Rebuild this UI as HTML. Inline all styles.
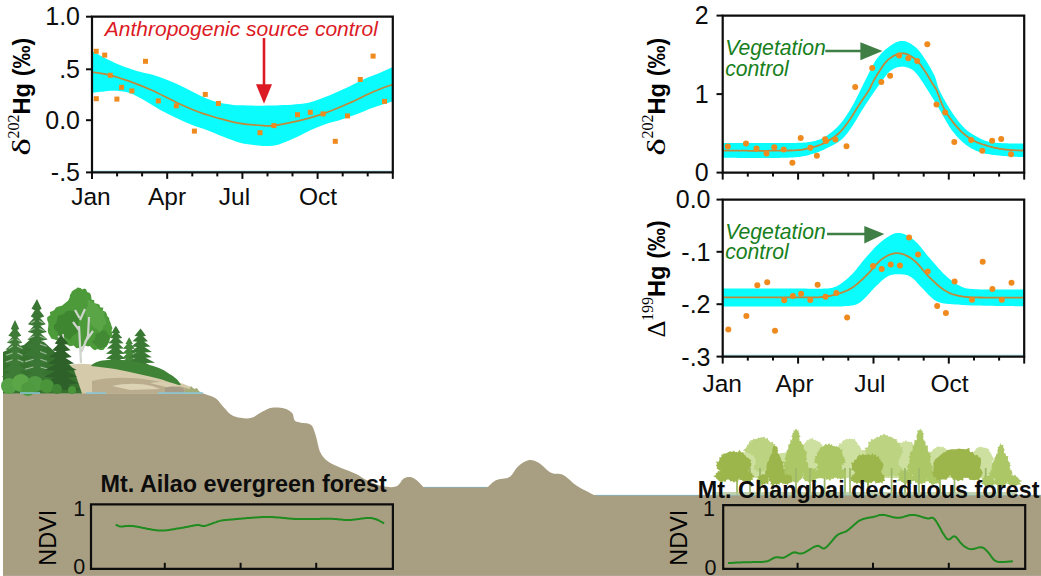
<!DOCTYPE html>
<html><head><meta charset="utf-8"><style>html,body{margin:0;padding:0;background:#fff;}svg{display:block;}</style></head>
<body><svg width="1041" height="576" viewBox="0 0 1041 576" font-family="Liberation Sans, sans-serif">
<rect width="1041" height="576" fill="#fff"/>
<path d="M3.0,393.3 L200.0,392.8 C201.0,393.1 203.7,393.5 206.2,394.4 C208.8,395.3 212.7,396.2 215.6,398.3 C218.5,400.4 220.8,404.2 223.4,406.9 C226.0,409.6 228.4,412.9 231.2,414.7 C234.1,416.5 237.2,417.3 240.6,417.8 C244.0,418.3 247.9,418.8 251.6,417.8 C255.2,416.8 259.1,413.3 262.5,411.6 C265.9,409.9 268.2,408.2 271.9,407.7 C275.5,407.2 281.0,407.5 284.4,408.4 C287.8,409.3 290.5,411.1 292.2,413.1 C293.9,415.1 293.2,418.6 294.5,420.2 C295.8,421.8 297.3,421.7 300.0,422.5 C302.7,423.3 308.3,422.7 310.9,424.8 C313.5,426.9 314.0,430.4 315.6,435.0 C317.2,439.6 318.2,447.8 320.3,452.2 C322.4,456.6 324.7,459.0 328.1,461.6 C331.5,464.2 335.9,465.7 340.6,467.8 C345.3,469.9 351.9,471.9 356.2,474.0 C360.6,476.1 362.4,478.2 366.9,480.3 C371.4,482.4 378.1,485.3 383.0,486.3 C387.9,487.3 393.1,487.5 396.5,486.3 C399.9,485.1 401.0,480.5 403.2,479.0 C405.4,477.5 407.6,476.9 409.9,477.1 C412.1,477.3 414.4,478.6 416.7,480.3 C418.9,482.0 422.3,486.0 423.4,487.1 L487.9,487.1 C489.2,486.0 492.4,482.0 496.0,480.3 C499.6,478.6 505.8,479.3 509.4,477.1 C513.0,474.9 514.4,469.7 517.5,466.9 C520.6,464.1 524.7,460.9 528.3,460.2 C531.9,459.5 535.2,460.8 539.0,462.9 C542.8,465.0 547.1,470.8 551.1,472.8 C555.1,474.8 558.9,472.9 563.2,475.0 C567.5,477.1 571.5,482.3 576.7,485.7 C581.9,489.1 591.3,493.5 594.2,495.1 L1041.0,495.1 L1041,576 L3,576 Z" fill="#a89e82"/>
<path d="M596,495.3 L1041,495.3" stroke="#7fb8d0" stroke-width="1" opacity="0.7"/>
<path d="M424,487.3 L487,487.3" stroke="#7fb8d0" stroke-width="1" opacity="0.6"/>
<path d="M60,368 C68,364 80,363 92,364.5 C115,367 140,372 165,378 C180,382 192,387 204,393.6 L60,393.6 Z" fill="#d5caa9"/><path d="M92,381 C108,377 130,377 150,380 C168,383 185,387 198,392 L190,393.6 L92,393.6 Z" fill="#b9ad8d"/><path d="M112,386 C125,383 140,383 152,386 L160,389 L130,390 Z" fill="#dcd2b4"/><path d="M150,383 C160,381 170,382 180,386 L170,388 Z" fill="#d9cfb0"/><path d="M165,388 C172,386 178,386 184,389 L184,393 L165,393 Z" fill="#a69c86"/><path d="M115.8,325.8 L117.3,328.1 L120.2,333.0 L118.1,333.3 L122.3,338.1 L118.5,338.5 L123.6,343.3 L118.6,343.6 L123.8,348.5 L118.9,348.8 L124.7,353.7 L119.3,354.0 L125.7,358.8 L119.9,359.2 L127.6,364.0 L117.8,364.0 L113.8,364.0 L102.9,364.0 L111.3,359.2 L105.8,358.8 L112.3,354.0 L105.9,353.7 L112.3,348.8 L106.9,348.5 L112.7,343.6 L108.4,343.3 L113.2,338.5 L110.2,338.1 L113.8,333.3 L111.6,333.0 L114.3,328.1 Z" fill="#3a7934"/><path d="M129.2,337.2 L130.5,339.4 L132.9,344.0 L131.2,344.2 L135.0,348.8 L131.7,349.0 L136.3,353.6 L132.3,353.8 L138.2,358.4 L132.6,358.6 L139.0,363.2 L132.4,363.4 L138.3,368.0 L131.2,368.0 L127.2,368.0 L120.1,368.0 L126.0,363.4 L120.6,363.2 L126.2,358.6 L122.0,358.4 L126.7,353.8 L122.4,353.6 L126.8,349.0 L122.9,348.8 L127.0,344.2 L125.4,344.0 L127.9,339.4 Z" fill="#45873b"/><path d="M140.6,328.6 L142.5,331.0 L146.0,335.9 L143.1,336.3 L147.9,341.3 L144.1,341.7 L150.5,346.6 L144.5,347.0 L151.9,352.0 L144.5,352.4 L151.8,357.3 L145.6,357.7 L155.0,362.7 L145.6,363.1 L154.9,368.0 L142.6,368.0 L138.6,368.0 L125.3,368.0 L135.2,363.1 L127.0,362.7 L135.9,357.7 L129.0,357.3 L136.5,352.4 L130.6,352.0 L137.1,347.0 L131.3,346.6 L137.3,341.7 L132.6,341.3 L137.8,336.3 L134.5,335.9 L138.5,331.0 Z" fill="#3a7934"/><path d="M91,366 C94,362 100,360.5 108,360 C120,359 135,361 147,364.5 C156,366.5 163,369 168,373 C173,376 178,379 181,385 C178,385.5 170,382 160,379 C145,375 130,372 115,369 C105,367.5 97,366.5 91,366 Z" fill="#3f8436"/><path d="M80.5,288.1 L82.3,289.6 L84.2,288.6 L86.1,289.3 L87.2,292.1 L88.7,292.4 L90.2,293.5 L90.9,294.9 L91.3,297.3 L91.6,299.8 L94.1,300.0 L94.4,303.6 L97.3,303.7 L99.6,304.8 L100.0,307.2 L103.4,307.8 L102.6,310.5 L105.5,311.8 L106.7,313.8 L107.2,316.0 L109.2,317.9 L109.3,320.0 L110.6,322.7 L111.3,325.3 L112.5,328.2 L111.5,330.6 L112.3,333.7 L111.8,336.5 L109.9,338.6 L109.4,341.6 L108.0,344.0 L106.8,346.1 L105.0,347.7 L103.6,349.8 L100.9,350.2 L97.4,349.0 L95.1,350.3 L92.9,349.2 L89.9,345.9 L88.1,346.4 L85.2,345.6 L82.7,346.1 L80.0,348.1 L76.5,348.2 L73.7,345.5 L69.9,346.2 L66.9,344.4 L62.7,344.3 L59.9,342.1 L57.5,340.6 L54.6,339.5 L51.3,338.5 L49.8,335.8 L48.3,333.2 L47.7,330.1 L48.3,326.6 L48.4,323.3 L47.2,320.0 L47.2,317.3 L50.4,314.9 L49.8,312.0 L52.8,310.9 L54.8,309.6 L55.6,307.8 L58.4,306.5 L61.9,305.8 L64.0,304.0 L66.2,302.2 L68.2,300.4 L69.7,297.5 L70.0,294.7 L71.1,293.5 L71.8,291.5 L73.2,290.6 L74.5,289.5 L76.0,288.9 L77.3,287.6 L78.9,287.8 Z" fill="#4c9a3a"/><path d="M65.9,311.4 L69.4,310.6 L72.5,310.9 L76.2,309.8 L76.7,313.4 L78.9,315.1 L80.0,318.0 L78.3,322.7 L78.0,327.0 L78.1,332.1 L75.1,334.3 L72.3,336.3 L70.0,340.0 L66.1,337.8 L62.4,336.5 L57.8,336.2 L57.6,332.0 L54.5,329.8 L53.6,326.1 L56.2,322.8 L57.2,319.6 L57.8,315.8 L60.8,314.9 L63.6,314.2 Z" fill="#3f8631"/><path d="M87.7,299.5 L90.2,300.2 L93.3,302.7 L96.0,303.7 L98.4,307.6 L100.7,310.0 L104.2,311.9 L104.1,316.0 L106.0,320.2 L106.1,324.1 L103.3,325.7 L102.5,330.3 L100.1,332.4 L97.3,329.2 L94.7,328.1 L92.0,326.0 L90.0,322.1 L86.9,318.4 L85.4,313.9 L86.3,309.1 L87.7,305.2 Z" fill="#5aa646"/><path d="M95.8,333.8 L98.9,333.3 L101.3,330.8 L104.1,329.7 L106.3,331.5 L107.7,334.2 L110.1,336.0 L109.3,339.3 L108.2,343.0 L106.3,346.4 L103.5,347.2 L100.7,348.0 L97.9,348.4 L96.3,345.6 L94.0,344.1 L91.8,342.1 L94.3,339.4 L95.5,337.1 Z" fill="#428b34"/><path d="M81,363 L79,326 M81.5,352 L88,336 L89,317 M79,330 L73,322 M85,342 L93,331 M79.5,318 L75,310 M80,320 L85,309" stroke="#cfd5cd" stroke-width="2.2" fill="none"/><path d="M64.5,354 L63,334 M64,342 L58,336" stroke="#cfd5cd" stroke-width="1.8" fill="none"/><path d="M3,352 L12,348 L24,345 L32,338 L44,342 L55,352 L66,360 L74,370 L82,393.5 L3,393.5 Z" fill="#37732f"/><path d="M15.0,320.0 L16.5,323.1 L19.2,328.9 L17.2,330.0 L21.3,335.8 L17.5,336.9 L22.3,342.7 L18.3,343.8 L24.5,349.6 L18.2,350.7 L24.2,356.4 L18.4,357.5 L24.8,363.3 L18.7,364.4 L25.6,370.2 L19.7,371.3 L28.4,377.1 L19.5,378.2 L27.9,384.0 L17.0,384.0 L13.0,384.0 L1.5,384.0 L10.3,378.2 L1.8,377.1 L10.4,371.3 L3.3,370.2 L10.9,364.4 L5.3,363.3 L11.6,357.5 L6.1,356.4 L11.9,350.7 L5.6,349.6 L11.7,343.8 L6.9,342.7 L12.2,336.9 L8.3,335.8 L12.7,330.0 L10.8,328.9 L13.5,323.1 Z" fill="#3e7b37"/><path d="M16.8,339.2 L20.3,341.5 M13.2,339.2 L8.2,341.5 M17.1,346.1 L22.5,348.4 M12.9,346.1 L8.7,348.4 M17.4,352.9 L22.5,355.2 M12.6,352.9 L6.0,355.2 M17.6,359.8 L23.4,362.1 M12.4,359.8 L5.8,362.1" stroke="#e4e9e0" stroke-width="1.1" opacity="0.6" fill="none"/><path d="M37.0,299.0 L38.6,302.5 L41.6,308.7 L39.5,310.2 L44.3,316.5 L40.1,317.9 L45.8,324.2 L40.4,325.7 L46.8,331.9 L40.7,333.4 L47.7,339.6 L40.6,341.1 L47.3,347.4 L41.6,348.8 L50.0,355.1 L42.2,356.6 L51.9,362.8 L42.5,364.3 L52.6,370.5 L42.0,372.0 L51.1,378.3 L42.3,379.8 L52.2,386.0 L39.0,386.0 L35.0,386.0 L22.0,386.0 L31.7,379.8 L22.7,378.3 L32.0,372.0 L21.5,370.5 L31.6,364.3 L23.7,362.8 L32.4,356.6 L24.3,355.1 L32.6,348.8 L24.1,347.4 L32.5,341.1 L27.4,339.6 L33.6,333.4 L27.9,331.9 L33.8,325.7 L27.9,324.2 L33.8,317.9 L30.8,316.5 L34.8,310.2 L31.5,308.7 L35.1,302.5 Z" fill="#3a7634"/><path d="M39.1,320.7 L43.3,323.0 M34.9,320.7 L31.0,323.0 M39.4,328.4 L44.4,330.7 M34.6,328.4 L29.0,330.7 M39.6,336.1 L45.5,338.4 M34.4,336.1 L28.3,338.4 M39.9,343.9 L46.6,346.2 M40.1,351.6 L46.4,353.9 M40.4,359.3 L47.0,361.6 M33.6,359.3 L25.1,361.6 M40.6,367.0 L48.2,369.3 M33.4,367.0 L24.9,369.3" stroke="#e4e9e0" stroke-width="1.1" opacity="0.6" fill="none"/><path d="M61.0,335.0 L63.5,338.0 L68.3,343.6 L64.3,344.6 L70.5,350.2 L64.8,351.2 L71.8,356.9 L65.6,357.9 L74.2,363.5 L66.5,364.5 L76.7,370.1 L66.6,371.1 L77.1,376.8 L67.2,377.7 L78.7,383.4 L68.0,384.4 L80.9,390.0 L63.0,390.0 L59.0,390.0 L42.2,390.0 L54.4,384.4 L43.3,383.4 L54.8,377.7 L44.3,376.8 L55.1,371.1 L44.7,370.1 L55.3,364.5 L47.6,363.5 L56.3,357.9 L48.9,356.9 L56.8,351.2 L52.2,350.2 L57.9,344.6 L54.8,343.6 L58.8,338.0 Z" fill="#2e6129"/><circle cx="9" cy="386" r="8" fill="#56a045"/><circle cx="21" cy="383" r="9" fill="#5ba747"/><circle cx="35" cy="384" r="8" fill="#519c42"/><circle cx="47" cy="386" r="7" fill="#4a9439"/><circle cx="28" cy="389" r="7" fill="#4f9a3f"/><circle cx="57" cy="389" r="5" fill="#3f8534"/><circle cx="72" cy="390" r="4" fill="#4a9439"/><path d="M184,393 L186,388 L189,390 L191,386 L194,389 L197,388 L200,393 Z" fill="#a3ad78"/><path d="M86,393 H106 M158,393 H203 M20,393 H40" stroke="#86c8dc" stroke-width="1.6"/>
<path d="M730,472 C740,462 760,455 790,452 C830,450 880,449 920,451 C960,453 990,458 1005,472 L1000,478 L730,478 Z" fill="#cde09f"/><path d="M774.6,455.9 L773.7,457.9 L775.6,460.5 L772.9,461.6 L773.2,464.0 L771.4,465.1 L770.4,466.7 L769.0,467.8 L768.4,470.3 L766.2,470.0 L764.4,470.3 L762.7,470.5 L761.0,470.8 L759.2,471.1 L757.1,472.2 L756.1,469.2 L753.1,471.3 L752.7,468.2 L750.6,467.7 L750.6,465.1 L749.6,463.5 L749.6,461.4 L747.5,460.1 L748.8,457.8 L748.1,455.9 L748.8,454.0 L749.2,452.1 L749.6,450.2 L749.6,447.9 L751.0,446.6 L751.6,444.4 L753.6,443.9 L754.4,441.9 L756.3,441.9 L757.7,440.4 L759.5,441.4 L761.0,438.1 L762.6,440.5 L764.6,439.2 L765.7,441.9 L767.3,442.4 L768.2,444.3 L770.0,444.9 L770.4,447.1 L773.2,447.4 L772.3,450.2 L775.0,451.4 L773.3,454.0 Z" fill="#bcd482"/><path d="M757.1,450.3 L756.9,451.8 L758.7,454.3 L755.7,454.4 L755.8,457.4 L752.9,455.8 L751.3,456.0 L749.6,456.0 L747.1,456.9 L747.1,454.2 L746.0,453.2 L745.6,451.8 L742.8,450.3 L745.3,448.8 L746.2,447.5 L747.4,446.5 L748.4,445.4 L749.9,445.2 L751.3,442.7 L752.7,445.1 L754.8,444.3 L755.4,446.3 L756.6,447.4 L757.3,448.8 Z" fill="#bcd482"/><path d="M758.5,447.6 L758.2,449.0 L758.1,450.5 L756.7,451.3 L756.9,454.3 L754.3,453.1 L752.7,453.6 L751.0,453.2 L749.5,452.6 L748.5,451.4 L745.7,451.3 L746.9,449.0 L746.9,447.6 L746.8,446.1 L747.6,444.7 L748.9,443.9 L749.0,441.3 L751.3,442.5 L752.7,441.6 L754.0,442.7 L755.4,442.9 L756.6,443.7 L757.9,444.7 L758.2,446.1 Z" fill="#bcd482"/><path d="M764.2,443.9 L761.8,445.2 L762.5,447.1 L760.7,447.8 L759.5,448.6 L757.9,448.7 L756.5,451.1 L754.9,449.2 L753.4,448.7 L752.6,447.4 L750.1,447.3 L750.7,445.3 L750.7,443.9 L750.9,442.5 L750.1,440.3 L752.7,440.2 L753.4,438.7 L755.2,439.2 L756.5,438.8 L757.9,438.5 L759.3,439.1 L760.3,440.1 L761.5,441.1 L762.0,442.5 Z" fill="#bcd482"/><path d="M766.7,442.7 L766.6,444.0 L765.8,445.1 L764.9,446.1 L764.6,448.0 L762.7,447.8 L761.2,448.9 L759.8,447.3 L757.4,448.7 L757.5,446.0 L756.7,445.1 L756.2,443.9 L755.1,442.7 L756.5,441.5 L756.6,440.1 L757.7,439.2 L758.1,437.4 L760.0,438.1 L761.2,437.0 L762.6,437.5 L764.8,436.5 L764.9,439.0 L766.9,439.5 L766.3,441.4 Z" fill="#bcd482"/><path d="M769.3,443.4 L769.7,444.7 L770.2,446.4 L768.5,447.0 L767.1,447.3 L766.0,448.0 L764.6,448.9 L763.2,448.1 L761.7,447.9 L760.7,447.0 L760.3,445.7 L759.7,444.6 L758.2,443.4 L759.6,442.1 L759.2,440.4 L761.1,440.0 L761.5,438.0 L763.3,438.6 L764.6,438.2 L765.8,438.8 L767.8,437.8 L768.1,439.9 L769.4,440.7 L769.5,442.2 Z" fill="#bcd482"/><path d="M776.4,447.6 L774.8,448.9 L775.5,450.9 L773.5,451.4 L772.3,452.2 L770.9,452.9 L769.3,455.2 L767.7,453.1 L765.5,453.6 L765.2,451.3 L762.8,451.1 L763.7,449.0 L762.7,447.6 L763.6,446.1 L764.6,444.9 L765.3,443.6 L766.7,443.1 L767.9,442.3 L769.3,441.2 L770.7,442.6 L772.8,441.6 L773.2,443.8 L775.3,444.2 L775.1,446.1 Z" fill="#bcd482"/><path d="M776.2,450.8 L775.8,452.1 L775.4,453.3 L774.3,454.0 L774.4,456.4 L772.2,455.4 L770.9,456.2 L769.4,455.6 L768.0,455.3 L767.2,454.2 L766.3,453.3 L766.1,452.0 L764.3,450.8 L765.9,449.6 L765.2,447.7 L767.6,447.6 L768.0,445.9 L769.7,446.5 L770.9,446.1 L772.1,446.4 L774.0,445.4 L774.4,447.4 L776.2,447.9 L775.9,449.6 Z" fill="#bcd482"/><path d="M755.8,466.5 L755.0,467.7 L755.6,469.2 L753.8,469.7 L752.9,470.7 L751.4,470.9 L750.0,472.3 L748.5,470.9 L746.8,470.9 L745.8,469.9 L743.1,469.8 L744.7,467.7 L744.6,466.5 L745.2,465.4 L743.7,463.4 L746.5,463.5 L746.6,461.4 L748.6,462.1 L750.0,461.5 L751.3,461.9 L752.4,462.7 L753.4,463.5 L755.3,463.9 L754.7,465.4 Z" fill="#bcd482"/><path d="M768.3,466.5 L766.1,467.7 L765.9,468.9 L764.7,469.5 L764.6,471.5 L762.5,470.9 L761.0,472.3 L759.5,471.1 L757.2,471.8 L756.7,470.0 L754.8,469.5 L755.9,467.7 L754.6,466.5 L756.1,465.4 L756.6,464.4 L757.3,463.3 L757.7,461.4 L759.7,462.4 L761.0,461.6 L762.3,462.2 L764.3,461.5 L764.7,463.3 L766.7,463.7 L766.4,465.3 Z" fill="#bcd482"/><path d="M778.2,466.5 L777.6,467.8 L778.7,469.7 L775.8,469.6 L776.0,472.1 L773.6,471.1 L772.0,471.2 L770.6,470.9 L768.5,471.5 L767.8,470.0 L766.6,469.1 L766.7,467.7 L764.6,466.5 L766.6,465.3 L765.6,463.3 L768.4,463.3 L768.8,461.5 L770.8,462.3 L772.0,460.6 L773.5,461.9 L775.3,461.6 L775.9,463.2 L776.9,464.1 L777.6,465.3 Z" fill="#bcd482"/><path d="M823.5,456.5 L822.0,458.5 L822.4,460.6 L821.3,462.2 L821.0,464.1 L820.2,465.6 L820.2,468.4 L818.1,467.8 L817.0,469.0 L815.9,469.8 L814.9,471.8 L813.4,471.1 L812.0,472.2 L810.7,470.3 L809.0,472.6 L808.3,469.4 L806.2,470.9 L806.0,467.7 L804.6,467.2 L803.9,465.5 L803.3,463.8 L803.2,461.9 L801.7,460.6 L802.2,458.5 L800.8,456.5 L802.3,454.6 L801.1,452.1 L803.3,451.0 L802.4,448.0 L804.8,448.1 L805.3,446.1 L806.4,445.1 L807.2,443.5 L808.4,443.0 L809.3,441.0 L810.8,442.2 L812.0,439.8 L813.2,442.2 L814.5,442.0 L815.5,443.4 L817.4,442.0 L817.8,444.7 L818.7,446.1 L819.6,447.5 L821.7,448.0 L820.8,451.0 L822.1,452.4 L821.3,454.7 Z" fill="#cde09f"/><path d="M809.6,452.1 L808.2,453.1 L809.7,455.0 L807.5,455.0 L806.9,456.1 L805.6,456.2 L804.4,457.1 L803.2,456.0 L801.5,456.6 L801.4,454.8 L799.8,454.6 L800.2,453.2 L798.4,452.1 L800.0,451.0 L800.5,450.0 L801.5,449.3 L802.3,448.6 L803.3,448.3 L804.4,446.7 L805.5,448.0 L806.7,448.0 L807.2,449.4 L808.1,450.0 L808.5,451.1 Z" fill="#cde09f"/><path d="M811.6,447.1 L810.0,447.9 L810.1,449.0 L809.2,449.5 L809.1,451.1 L807.5,450.5 L806.5,451.2 L805.4,450.7 L804.5,450.2 L803.5,449.8 L803.0,448.9 L802.7,448.0 L802.3,447.1 L803.0,446.2 L802.6,444.9 L803.9,444.5 L804.4,443.5 L805.6,443.6 L806.5,442.7 L807.4,443.7 L808.4,443.7 L809.2,444.4 L810.6,444.8 L810.2,446.1 Z" fill="#cde09f"/><path d="M815.2,444.5 L813.3,445.5 L814.3,447.2 L812.6,447.6 L812.4,449.5 L810.4,448.4 L809.2,449.1 L808.0,448.8 L806.8,448.3 L805.8,447.7 L803.9,447.3 L805.2,445.5 L804.6,444.5 L804.9,443.4 L805.3,442.3 L806.5,441.8 L806.4,439.7 L808.2,440.5 L809.2,439.0 L810.3,440.7 L811.6,440.4 L812.3,441.5 L812.8,442.5 L813.2,443.5 Z" fill="#cde09f"/><path d="M818.9,443.8 L816.6,444.8 L817.3,446.4 L815.9,447.0 L815.2,448.3 L813.6,448.2 L812.3,448.4 L811.1,447.8 L809.8,447.6 L809.1,446.7 L807.2,446.5 L807.7,444.9 L806.6,443.8 L808.1,442.7 L808.2,441.5 L809.3,440.8 L809.3,438.6 L811.1,439.1 L812.3,437.6 L813.4,439.8 L814.5,440.0 L815.7,440.4 L816.9,441.2 L816.9,442.6 Z" fill="#cde09f"/><path d="M820.1,444.7 L819.1,445.7 L819.7,447.1 L817.9,447.3 L817.9,449.1 L816.2,448.7 L815.0,448.8 L813.9,448.5 L812.1,449.2 L812.0,447.4 L811.1,446.7 L811.1,445.6 L810.0,444.7 L811.3,443.7 L810.1,441.9 L812.0,441.7 L812.4,440.2 L813.9,440.6 L815.0,439.6 L816.0,440.9 L817.5,440.4 L817.9,441.8 L820.1,441.8 L819.2,443.6 Z" fill="#cde09f"/><path d="M823.8,447.4 L822.5,448.6 L823.3,450.4 L821.1,450.5 L821.1,452.7 L819.1,451.9 L817.7,453.1 L816.4,451.8 L814.5,452.4 L814.3,450.5 L812.3,450.3 L813.5,448.4 L812.5,447.4 L813.3,446.2 L813.9,445.3 L814.6,444.3 L814.9,442.6 L816.5,443.0 L817.7,442.7 L819.0,442.8 L820.6,442.5 L820.8,444.3 L822.7,444.6 L822.2,446.2 Z" fill="#cde09f"/><path d="M825.6,452.3 L823.8,453.3 L824.4,454.8 L822.8,455.2 L822.8,457.1 L820.7,455.8 L819.7,457.2 L818.5,456.2 L817.4,455.9 L816.7,455.0 L816.1,454.2 L815.8,453.3 L815.0,452.3 L816.0,451.3 L815.9,450.2 L816.7,449.3 L817.3,448.2 L818.7,448.5 L819.7,446.8 L820.7,448.5 L822.5,447.5 L822.6,449.5 L824.4,449.7 L823.4,451.3 Z" fill="#cde09f"/><path d="M808.7,466.8 L807.8,467.7 L807.1,468.5 L806.8,469.4 L805.8,469.9 L804.7,470.2 L803.5,470.4 L802.4,470.2 L800.9,470.6 L800.7,469.1 L798.4,469.3 L799.5,467.7 L798.6,466.8 L799.5,465.9 L799.6,464.8 L800.8,464.4 L801.0,463.0 L802.5,463.4 L803.5,463.0 L804.6,463.3 L805.7,463.5 L806.2,464.5 L807.3,464.9 L807.2,466.0 Z" fill="#cde09f"/><path d="M816.3,466.8 L816.2,467.7 L816.2,468.8 L815.2,469.4 L814.8,470.8 L813.0,469.9 L812.0,471.8 L810.8,470.4 L809.9,469.8 L808.8,469.4 L807.7,468.8 L808.0,467.7 L806.1,466.8 L808.2,465.9 L807.8,464.7 L809.0,464.2 L809.4,462.9 L811.0,463.4 L812.0,461.8 L813.1,463.3 L814.5,463.0 L814.7,464.5 L816.4,464.6 L815.9,465.9 Z" fill="#cde09f"/><path d="M824.8,466.8 L824.2,467.6 L824.9,468.9 L823.3,469.1 L823.0,470.3 L821.6,470.3 L820.5,470.9 L819.4,470.0 L817.8,470.5 L817.4,469.2 L815.6,469.1 L816.4,467.7 L814.5,466.8 L816.2,465.8 L815.9,464.5 L817.7,464.4 L818.5,463.8 L819.4,463.2 L820.5,462.2 L821.5,463.4 L822.7,463.4 L823.2,464.4 L824.9,464.6 L824.4,465.9 Z" fill="#cde09f"/><path d="M860.5,456.9 L859.5,459.0 L860.6,461.6 L858.6,462.8 L858.5,465.1 L857.8,466.9 L858.0,470.0 L855.8,469.8 L854.4,470.4 L853.0,471.0 L851.9,472.7 L850.4,472.4 L849.0,474.5 L847.6,472.0 L845.9,473.6 L845.0,471.0 L843.6,470.5 L842.3,469.6 L840.6,469.2 L840.4,466.6 L839.2,465.3 L839.2,462.9 L838.6,461.1 L838.7,459.0 L837.1,456.9 L838.5,454.8 L839.1,452.9 L839.9,451.1 L838.9,447.9 L840.9,447.3 L840.9,444.2 L843.1,444.7 L843.7,442.4 L845.3,442.7 L846.1,439.4 L847.7,441.5 L849.0,439.3 L850.3,440.7 L851.7,441.0 L852.8,442.4 L854.7,441.4 L855.3,444.0 L856.6,445.0 L856.9,447.5 L857.8,449.1 L858.7,450.7 L858.9,452.9 L858.9,455.0 Z" fill="#cde09f"/><path d="M846.6,452.1 L845.1,453.1 L846.1,454.9 L843.9,454.9 L843.3,456.0 L842.1,456.3 L840.8,456.3 L839.6,456.1 L837.7,456.9 L837.3,455.2 L836.4,454.4 L836.6,453.1 L835.7,452.1 L836.3,450.9 L836.4,449.6 L837.9,449.2 L838.0,447.2 L839.6,447.8 L840.8,446.0 L842.0,447.6 L843.8,446.9 L843.9,449.0 L845.9,449.2 L845.0,451.0 Z" fill="#cde09f"/><path d="M848.6,447.8 L847.0,448.9 L846.6,450.0 L845.5,450.7 L845.0,451.9 L843.5,451.8 L842.3,452.6 L841.1,451.8 L839.9,451.6 L839.0,450.8 L837.1,450.6 L837.9,448.9 L836.3,447.8 L838.0,446.7 L838.4,445.6 L839.2,444.7 L839.4,442.7 L841.3,443.8 L842.3,443.7 L843.4,443.7 L844.9,443.3 L845.4,444.8 L847.7,444.8 L846.7,446.7 Z" fill="#cde09f"/><path d="M850.9,443.8 L850.2,444.9 L849.6,445.8 L848.8,446.4 L848.7,448.2 L847.1,447.8 L846.0,447.7 L844.8,447.7 L843.8,447.3 L842.8,446.7 L841.4,446.3 L842.1,444.8 L841.6,443.8 L841.9,442.8 L841.8,441.5 L843.1,441.0 L843.7,440.0 L845.0,440.2 L846.0,438.4 L847.0,440.0 L848.3,439.8 L848.8,441.1 L850.4,441.3 L850.0,442.8 Z" fill="#cde09f"/><path d="M855.7,443.0 L854.2,444.2 L855.1,445.9 L853.2,446.2 L852.9,448.0 L851.0,447.4 L849.7,449.0 L848.5,447.2 L846.9,447.5 L846.3,446.1 L844.4,445.9 L845.4,444.1 L844.6,443.0 L845.7,442.0 L844.8,440.3 L846.4,439.8 L847.3,438.9 L848.7,439.2 L849.7,438.6 L850.8,439.0 L852.1,439.0 L853.0,439.8 L853.4,441.0 L853.9,442.0 Z" fill="#cde09f"/><path d="M858.2,443.8 L856.3,444.9 L856.1,446.0 L855.4,446.9 L855.0,448.6 L853.3,448.4 L851.9,448.1 L850.7,447.8 L849.3,447.8 L848.6,446.8 L847.4,446.2 L847.1,445.0 L846.0,443.8 L847.6,442.6 L847.7,441.4 L848.8,440.7 L849.6,439.7 L850.7,439.2 L851.9,438.8 L853.1,439.4 L854.9,438.5 L855.1,440.6 L856.2,441.3 L856.7,442.5 Z" fill="#cde09f"/><path d="M861.3,448.3 L860.5,449.4 L860.5,450.7 L859.0,451.1 L858.2,451.8 L857.2,452.6 L855.9,453.8 L854.7,452.2 L853.1,452.6 L852.7,451.2 L851.7,450.5 L851.3,449.4 L850.3,448.3 L851.9,447.2 L852.4,446.3 L852.9,445.3 L853.5,444.2 L854.8,444.0 L855.9,442.9 L857.0,444.2 L858.1,444.5 L858.7,445.5 L860.0,446.0 L859.9,447.2 Z" fill="#cde09f"/><path d="M863.2,453.2 L862.3,454.4 L861.8,455.5 L860.8,456.3 L859.9,457.0 L858.7,457.6 L857.4,457.3 L856.1,457.6 L854.2,458.3 L853.9,456.4 L853.4,455.3 L853.1,454.3 L851.5,453.2 L853.3,452.1 L852.9,450.6 L854.3,450.1 L854.3,447.9 L856.3,448.9 L857.4,447.2 L858.5,449.1 L860.3,448.2 L860.5,450.1 L862.8,450.1 L861.5,452.1 Z" fill="#cde09f"/><path d="M845.9,468.1 L844.1,469.1 L844.7,470.4 L843.2,470.8 L842.3,471.5 L841.2,472.0 L839.9,472.3 L838.7,471.7 L837.6,471.4 L836.7,470.7 L835.2,470.4 L835.4,469.1 L834.9,468.1 L835.5,467.1 L836.1,466.3 L836.9,465.5 L837.4,464.3 L838.7,464.2 L839.9,463.1 L841.0,464.4 L841.9,465.0 L842.9,465.5 L844.8,465.7 L844.0,467.2 Z" fill="#cde09f"/><path d="M854.5,468.1 L853.3,469.1 L852.8,469.9 L852.5,471.0 L852.1,472.5 L850.2,471.6 L849.0,472.8 L847.8,471.7 L846.4,471.8 L845.7,470.8 L844.7,470.2 L844.7,469.1 L843.9,468.1 L844.6,467.1 L845.0,466.1 L846.1,465.6 L846.2,463.9 L847.9,464.6 L849.0,462.9 L850.1,464.5 L851.8,463.9 L852.0,465.6 L854.1,465.6 L853.0,467.2 Z" fill="#cde09f"/><path d="M862.7,468.1 L862.2,469.1 L863.2,470.5 L861.5,470.9 L860.5,471.5 L859.3,471.7 L858.1,473.2 L856.9,471.8 L855.8,471.4 L855.0,470.7 L854.0,470.1 L854.0,469.1 L853.0,468.1 L854.1,467.2 L852.9,465.5 L855.1,465.5 L855.5,464.2 L857.0,464.4 L858.1,463.2 L859.3,464.3 L860.5,464.4 L861.1,465.6 L862.4,466.0 L862.0,467.2 Z" fill="#cde09f"/><path d="M949.5,462.0 L949.0,463.7 L950.4,466.1 L948.6,467.2 L948.9,469.4 L947.4,470.1 L946.4,471.2 L945.6,472.3 L944.9,474.0 L943.6,474.3 L942.4,474.8 L941.2,475.0 L940.0,476.4 L938.7,475.4 L937.2,476.8 L936.4,474.3 L935.3,473.6 L934.2,472.7 L932.3,473.0 L932.7,470.1 L931.6,469.0 L931.6,467.0 L931.2,465.4 L930.9,463.7 L929.4,462.0 L931.2,460.3 L930.4,458.1 L931.7,456.8 L932.3,455.3 L932.9,453.7 L933.2,451.6 L934.9,451.8 L935.8,450.6 L936.8,450.0 L937.6,447.9 L938.9,448.7 L940.0,448.1 L941.1,448.5 L942.3,448.5 L943.2,449.8 L944.3,450.5 L945.4,451.1 L946.1,452.6 L947.1,453.7 L948.2,454.8 L948.1,456.9 L949.3,458.2 L948.6,460.3 Z" fill="#cde09f"/><path d="M939.0,457.2 L937.5,458.3 L937.1,459.3 L936.5,460.3 L935.6,461.1 L934.4,461.5 L933.1,461.6 L931.9,461.2 L930.0,462.0 L930.1,460.0 L928.4,459.7 L929.1,458.2 L928.9,457.2 L929.2,456.1 L927.9,454.2 L929.9,454.0 L930.5,452.6 L932.1,453.3 L933.1,451.9 L934.3,453.0 L935.5,453.1 L936.2,454.2 L938.1,454.4 L937.0,456.2 Z" fill="#cde09f"/><path d="M938.2,454.5 L937.9,455.4 L938.4,456.8 L936.9,457.0 L936.6,458.3 L935.2,457.9 L934.2,459.0 L933.2,458.0 L931.6,458.5 L931.5,456.9 L929.8,456.9 L930.6,455.4 L928.7,454.5 L930.4,453.5 L930.3,452.3 L931.6,451.9 L931.9,450.5 L933.2,450.8 L934.2,449.7 L935.2,450.8 L936.4,450.7 L937.0,451.7 L938.6,452.0 L938.1,453.5 Z" fill="#cde09f"/><path d="M941.6,451.3 L940.9,452.3 L941.0,453.5 L939.7,453.9 L939.2,455.0 L938.0,455.1 L936.9,455.4 L935.9,454.6 L934.2,455.4 L933.8,454.1 L932.4,453.7 L933.0,452.3 L931.8,451.3 L933.3,450.4 L932.8,449.1 L934.4,448.9 L935.0,448.1 L935.9,447.8 L936.9,447.0 L937.8,447.9 L938.7,448.2 L939.6,448.7 L940.8,449.1 L940.4,450.4 Z" fill="#cde09f"/><path d="M943.8,450.3 L943.2,451.2 L944.4,452.8 L942.7,453.0 L942.3,454.3 L940.8,454.0 L939.7,454.5 L938.6,454.0 L937.6,453.6 L936.8,453.0 L935.6,452.5 L935.7,451.3 L935.9,450.3 L935.9,449.3 L936.4,448.5 L937.1,447.7 L937.1,445.9 L938.8,447.1 L939.7,446.4 L940.6,446.9 L941.7,446.8 L942.1,447.9 L944.2,447.8 L943.5,449.3 Z" fill="#cde09f"/><path d="M947.6,451.2 L946.3,452.0 L946.1,452.9 L945.8,453.9 L945.1,454.6 L943.9,454.6 L942.9,456.2 L941.8,454.9 L940.6,454.8 L940.2,453.6 L939.2,453.1 L938.9,452.2 L937.7,451.2 L939.5,450.3 L938.6,448.7 L940.4,448.7 L940.8,447.5 L942.0,447.9 L942.9,446.2 L943.9,447.4 L944.8,447.9 L945.5,448.6 L946.2,449.3 L946.7,450.2 Z" fill="#cde09f"/><path d="M949.7,453.3 L948.4,454.1 L949.4,455.6 L947.8,455.8 L947.5,457.0 L946.0,456.3 L945.1,457.6 L944.0,456.7 L942.9,456.7 L942.6,455.5 L941.7,455.1 L941.7,454.1 L940.5,453.3 L941.8,452.4 L942.0,451.5 L942.7,451.0 L942.9,449.6 L944.1,449.9 L945.1,449.5 L946.0,449.9 L947.4,449.3 L947.5,450.9 L948.2,451.5 L948.3,452.4 Z" fill="#cde09f"/><path d="M951.7,459.0 L951.3,460.0 L950.9,460.9 L950.5,461.9 L949.7,462.9 L948.4,462.7 L947.2,463.6 L946.2,462.4 L944.6,463.1 L944.4,461.6 L943.4,461.0 L943.1,460.0 L943.2,459.0 L943.5,458.0 L942.7,456.4 L944.6,456.3 L945.1,455.3 L946.2,455.2 L947.2,454.9 L948.3,455.0 L950.0,454.2 L949.8,456.4 L951.3,456.7 L951.3,457.9 Z" fill="#cde09f"/><path d="M936.5,471.4 L936.2,472.3 L936.3,473.3 L934.9,473.6 L934.6,474.8 L933.3,474.6 L932.2,475.0 L931.1,474.6 L929.5,475.1 L929.4,473.7 L928.1,473.3 L928.2,472.3 L927.3,471.4 L928.5,470.6 L927.7,469.1 L929.7,469.2 L929.8,467.7 L931.3,468.5 L932.2,467.4 L933.1,468.4 L934.3,468.2 L934.9,469.0 L936.5,469.3 L936.0,470.5 Z" fill="#cde09f"/><path d="M944.1,471.4 L943.7,472.2 L943.6,473.1 L942.8,473.7 L942.4,474.7 L941.0,474.3 L940.0,475.4 L938.9,474.6 L937.5,474.8 L937.0,473.8 L936.5,473.1 L936.5,472.2 L936.3,471.4 L936.4,470.6 L936.3,469.5 L937.4,469.1 L938.0,468.4 L939.0,468.1 L940.0,468.2 L941.0,468.1 L942.2,468.0 L942.6,469.1 L944.3,469.3 L943.5,470.6 Z" fill="#cde09f"/><path d="M951.7,471.4 L951.4,472.2 L951.1,473.0 L950.5,473.6 L950.3,474.9 L948.8,474.5 L947.8,474.9 L946.7,474.6 L945.8,474.2 L944.8,473.8 L944.3,473.1 L944.2,472.2 L943.9,471.4 L944.0,470.5 L943.4,469.2 L945.1,469.0 L946.0,468.7 L946.9,468.3 L947.8,467.8 L948.7,468.4 L950.4,467.4 L950.2,469.3 L951.6,469.5 L951.6,470.5 Z" fill="#cde09f"/><path d="M992.6,463.0 L990.6,464.8 L991.4,466.9 L990.6,468.5 L989.8,469.9 L989.1,471.4 L989.7,474.6 L987.5,473.8 L987.0,475.9 L985.5,475.8 L984.6,477.5 L983.2,476.4 L982.0,476.8 L980.7,477.5 L979.2,478.5 L978.4,476.2 L977.2,475.5 L976.5,473.9 L974.8,473.9 L974.9,471.4 L973.5,470.6 L973.3,468.6 L972.8,466.9 L973.2,464.8 L971.4,463.0 L973.1,461.2 L973.6,459.4 L974.0,457.7 L973.6,455.2 L975.4,454.8 L975.6,452.6 L976.7,451.7 L977.0,448.9 L978.7,450.0 L979.4,447.2 L980.9,449.2 L982.0,448.1 L983.1,448.8 L984.3,448.7 L985.3,449.8 L986.4,450.6 L987.1,452.0 L988.2,452.9 L988.9,454.5 L989.6,455.9 L989.9,457.8 L990.7,459.3 L990.8,461.2 Z" fill="#cde09f"/><path d="M980.4,459.3 L978.7,460.2 L979.5,461.8 L977.5,461.7 L977.1,462.9 L975.8,462.6 L974.8,464.0 L973.8,462.7 L972.6,462.7 L972.2,461.7 L971.3,461.2 L971.2,460.2 L970.4,459.3 L970.9,458.2 L970.6,456.9 L972.3,456.8 L972.8,455.7 L973.9,455.9 L974.8,454.1 L975.8,455.8 L977.3,455.1 L977.6,456.6 L979.4,456.7 L978.3,458.4 Z" fill="#cde09f"/><path d="M980.1,454.9 L980.3,455.8 L980.1,456.9 L979.2,457.5 L978.7,458.6 L977.3,458.1 L976.3,459.0 L975.3,458.2 L974.4,457.9 L973.7,457.3 L972.1,457.1 L972.8,455.7 L972.1,454.9 L972.7,453.9 L972.4,452.7 L973.9,452.4 L974.0,450.8 L975.4,451.5 L976.3,450.2 L977.3,451.3 L978.2,451.7 L978.8,452.4 L979.8,452.9 L980.1,453.9 Z" fill="#cde09f"/><path d="M984.1,451.7 L982.4,452.6 L982.5,453.7 L981.6,454.2 L981.0,455.0 L979.8,455.0 L978.8,455.2 L977.8,455.3 L976.4,455.5 L975.9,454.4 L974.0,454.3 L975.2,452.6 L974.0,451.7 L975.0,450.7 L975.4,449.8 L976.2,449.1 L976.5,447.7 L977.8,448.0 L978.8,446.8 L979.7,448.4 L981.1,447.8 L981.3,449.3 L982.6,449.6 L982.4,450.8 Z" fill="#cde09f"/><path d="M985.6,450.6 L985.1,451.6 L985.0,452.6 L984.0,453.1 L983.6,454.2 L982.4,454.1 L981.3,454.4 L980.3,454.2 L979.2,454.0 L978.7,453.0 L977.6,452.7 L977.7,451.6 L977.4,450.6 L977.7,449.7 L977.2,448.3 L978.7,448.1 L979.0,446.6 L980.5,447.4 L981.3,446.5 L982.3,447.2 L983.1,447.6 L983.9,448.1 L984.5,448.9 L985.0,449.7 Z" fill="#cde09f"/><path d="M989.5,451.7 L988.8,452.6 L988.5,453.5 L987.9,454.3 L987.9,456.1 L986.2,455.3 L985.1,455.7 L984.1,455.4 L983.0,455.0 L982.3,454.3 L980.8,454.0 L981.0,452.7 L980.8,451.7 L981.4,450.7 L980.5,449.1 L982.4,449.0 L982.8,447.7 L984.2,448.1 L985.1,447.5 L986.1,448.2 L987.2,448.2 L987.9,449.0 L989.6,449.2 L988.8,450.8 Z" fill="#cde09f"/><path d="M991.5,455.3 L991.3,456.1 L991.3,457.1 L990.4,457.6 L990.5,459.3 L988.8,458.3 L987.9,458.7 L987.0,458.3 L985.6,458.9 L985.5,457.5 L985.0,456.9 L984.5,456.1 L983.9,455.3 L984.7,454.5 L984.4,453.3 L985.5,452.9 L985.9,451.8 L987.0,452.0 L987.9,451.3 L988.8,451.9 L990.3,451.2 L990.2,453.0 L991.2,453.4 L991.4,454.4 Z" fill="#cde09f"/><path d="M994.3,458.4 L993.2,459.4 L994.2,461.2 L992.2,461.3 L991.2,461.9 L990.1,462.3 L989.0,463.0 L987.8,462.2 L986.5,462.2 L986.1,461.1 L984.2,461.0 L984.9,459.4 L984.6,458.4 L985.2,457.4 L985.1,456.2 L986.3,455.8 L986.6,454.3 L988.0,454.8 L989.0,454.6 L989.9,454.9 L991.0,455.0 L991.9,455.5 L992.5,456.4 L992.9,457.4 Z" fill="#cde09f"/><path d="M979.3,473.0 L977.9,473.8 L977.7,474.7 L977.2,475.4 L976.9,476.8 L975.2,475.9 L974.2,476.5 L973.2,476.1 L971.5,476.7 L971.4,475.2 L969.8,475.1 L970.6,473.8 L969.2,473.0 L970.7,472.2 L970.6,471.2 L971.5,470.6 L971.7,469.2 L973.2,469.7 L974.2,469.1 L975.1,469.9 L976.6,469.4 L976.9,470.7 L978.6,470.8 L978.0,472.1 Z" fill="#cde09f"/><path d="M985.9,473.0 L985.7,473.8 L986.3,475.1 L984.7,475.2 L984.1,475.9 L983.0,475.9 L982.0,477.0 L980.9,476.3 L979.2,477.0 L979.4,475.1 L977.6,475.1 L978.3,473.8 L977.2,473.0 L978.4,472.2 L977.5,470.7 L979.2,470.5 L980.2,470.3 L981.0,469.8 L982.0,469.7 L982.9,470.1 L984.0,470.0 L984.7,470.6 L986.6,470.7 L985.4,472.2 Z" fill="#cde09f"/><path d="M994.1,473.0 L993.3,473.8 L993.9,475.0 L992.6,475.3 L992.1,476.2 L990.8,476.0 L989.8,477.3 L988.7,476.3 L987.6,476.0 L987.0,475.2 L985.6,475.0 L985.9,473.9 L984.4,473.0 L986.2,472.2 L985.7,470.9 L987.2,470.7 L987.4,469.3 L988.9,470.1 L989.8,469.7 L990.7,470.1 L992.4,469.1 L992.3,470.8 L993.6,471.1 L993.2,472.2 Z" fill="#cde09f"/><path d="M754.3,465.4 L753.6,466.7 L754.6,468.4 L753.2,469.3 L753.8,471.2 L752.2,471.6 L751.7,473.0 L750.6,473.6 L749.9,474.9 L748.5,474.8 L747.4,475.3 L746.2,475.3 L745.0,477.6 L743.8,475.5 L742.6,475.4 L741.5,474.8 L740.0,475.2 L739.1,474.0 L738.3,472.9 L737.5,471.9 L736.4,471.0 L736.7,469.3 L734.9,468.5 L736.2,466.7 L736.2,465.4 L736.2,464.0 L735.5,462.4 L736.9,461.4 L737.2,460.0 L737.9,458.8 L737.9,456.8 L739.6,456.8 L740.4,455.7 L741.7,455.5 L742.5,454.0 L743.9,455.3 L745.0,455.2 L746.1,455.3 L747.2,455.3 L748.1,456.1 L749.5,455.9 L750.3,457.0 L751.3,457.7 L751.9,459.0 L752.4,460.3 L752.9,461.5 L755.1,462.2 L753.4,464.1 Z" fill="#cde09f"/><path d="M743.6,462.2 L742.2,463.3 L742.2,464.5 L741.2,465.2 L740.9,466.9 L739.1,466.3 L737.9,467.9 L736.9,465.8 L734.8,467.1 L734.9,465.0 L733.1,464.8 L734.0,463.2 L732.1,462.2 L734.2,461.3 L733.6,459.8 L735.2,459.5 L735.6,458.3 L736.9,458.4 L737.9,457.2 L739.0,458.2 L740.2,458.3 L740.9,459.3 L741.9,460.0 L741.8,461.2 Z" fill="#cde09f"/><path d="M743.6,458.6 L743.5,459.5 L744.2,460.9 L742.5,461.0 L742.5,462.6 L740.9,462.0 L739.9,463.1 L738.9,461.8 L737.9,461.7 L737.3,460.9 L736.2,460.6 L736.3,459.5 L736.3,458.6 L736.3,457.7 L736.3,456.5 L737.4,456.1 L737.7,454.9 L738.9,454.9 L739.9,454.8 L740.9,454.9 L741.9,455.2 L742.6,456.0 L743.1,456.8 L743.7,457.6 Z" fill="#cde09f"/><path d="M746.5,457.0 L746.1,458.0 L746.9,459.6 L744.9,459.8 L744.4,460.9 L743.1,461.1 L741.9,462.8 L740.7,460.9 L739.5,460.7 L738.7,459.8 L736.4,459.9 L737.8,458.0 L736.4,457.0 L737.8,455.9 L737.2,454.4 L739.0,454.2 L739.3,452.5 L740.7,452.7 L741.9,451.3 L743.0,452.9 L744.4,452.7 L744.9,454.0 L745.6,454.9 L746.3,455.8 Z" fill="#cde09f"/><path d="M750.2,456.2 L749.0,457.1 L749.2,458.3 L748.0,458.7 L747.8,460.1 L746.4,459.8 L745.3,460.6 L744.3,459.5 L742.7,460.2 L742.5,458.7 L741.0,458.4 L741.4,457.1 L739.9,456.2 L741.8,455.3 L741.4,454.0 L742.4,453.4 L742.9,452.0 L744.4,452.7 L745.3,451.4 L746.3,452.3 L747.4,452.5 L748.1,453.4 L748.6,454.3 L749.3,455.1 Z" fill="#cde09f"/><path d="M753.0,456.9 L751.7,457.8 L752.6,459.4 L750.8,459.5 L750.6,460.9 L749.0,460.3 L748.0,461.9 L747.1,460.0 L745.4,461.0 L745.2,459.5 L744.5,458.8 L744.2,457.9 L743.7,456.9 L744.5,456.0 L743.8,454.5 L745.6,454.6 L746.1,453.6 L747.1,453.5 L748.0,453.5 L748.9,453.5 L750.3,452.9 L750.5,454.5 L751.3,455.1 L751.7,456.0 Z" fill="#cde09f"/><path d="M755.9,459.6 L755.2,460.7 L755.8,462.2 L753.8,462.2 L753.3,463.4 L751.9,463.2 L750.9,463.4 L749.8,463.3 L747.9,464.3 L747.6,462.5 L747.1,461.6 L747.0,460.5 L746.1,459.6 L746.7,458.5 L746.5,457.1 L747.8,456.6 L748.9,456.2 L749.8,455.4 L750.9,455.4 L751.9,455.7 L753.6,454.9 L753.8,456.7 L754.6,457.5 L755.0,458.5 Z" fill="#cde09f"/><path d="M755.9,462.2 L755.3,463.0 L755.9,464.2 L754.5,464.4 L754.3,465.7 L753.0,465.4 L752.0,465.6 L751.2,465.1 L749.7,465.8 L749.5,464.5 L748.9,463.8 L748.9,462.9 L747.2,462.2 L748.7,461.3 L748.8,460.3 L749.8,459.9 L749.7,458.1 L751.2,458.9 L752.0,457.9 L752.9,459.1 L753.9,459.0 L754.4,459.9 L755.0,460.5 L755.4,461.3 Z" fill="#cde09f"/><path d="M741.6,472.8 L741.1,473.7 L741.1,474.7 L740.0,475.1 L739.6,476.1 L738.3,476.1 L737.2,476.4 L736.1,476.0 L735.1,475.8 L734.4,475.1 L733.5,474.6 L733.2,473.7 L733.0,472.8 L733.3,471.9 L733.1,470.7 L734.6,470.5 L734.6,468.9 L736.3,469.7 L737.2,468.6 L738.2,469.6 L739.3,469.5 L739.6,470.7 L740.9,470.9 L740.7,472.0 Z" fill="#cde09f"/><path d="M749.5,472.8 L749.0,473.7 L748.7,474.6 L747.9,475.2 L747.5,476.4 L746.0,475.8 L745.0,476.5 L744.0,475.7 L742.2,476.7 L742.3,475.0 L741.1,474.7 L741.3,473.6 L739.9,472.8 L741.1,471.9 L741.0,470.8 L742.4,470.5 L743.2,470.0 L744.0,469.5 L745.0,469.6 L745.9,469.8 L747.1,469.6 L747.7,470.4 L749.1,470.8 L748.6,472.0 Z" fill="#cde09f"/><path d="M758.1,472.8 L756.8,473.7 L756.1,474.4 L755.7,475.1 L755.2,476.1 L753.8,475.8 L752.8,476.6 L751.8,475.8 L750.3,476.4 L749.9,475.1 L748.0,475.1 L748.8,473.7 L747.3,472.8 L749.2,472.0 L748.4,470.6 L750.1,470.5 L750.4,469.2 L751.8,469.4 L752.8,469.6 L753.7,469.7 L754.9,469.6 L755.5,470.5 L756.2,471.1 L756.7,471.9 Z" fill="#cde09f"/><path d="M915.6,458.5 L915.3,460.4 L915.3,462.3 L914.7,464.0 L915.5,466.7 L913.2,467.0 L912.7,468.9 L911.7,470.1 L911.1,472.4 L909.3,472.1 L907.9,472.9 L906.5,473.2 L905.0,474.9 L903.5,473.1 L902.2,472.5 L900.8,471.8 L899.7,470.8 L898.2,470.3 L896.0,470.6 L896.2,467.6 L895.9,465.6 L895.3,464.0 L893.9,462.6 L894.6,460.4 L894.6,458.5 L894.5,456.6 L894.7,454.6 L895.6,453.0 L896.2,451.3 L897.0,449.7 L897.9,448.3 L899.1,447.5 L899.6,444.9 L901.3,445.4 L902.1,442.6 L903.7,444.5 L905.0,443.1 L906.2,444.8 L907.6,444.3 L908.8,445.3 L910.5,444.8 L911.0,447.1 L913.2,446.7 L912.7,450.0 L915.2,450.2 L914.2,453.2 L916.8,454.1 L915.3,456.7 Z" fill="#cde09f"/><path d="M903.1,454.4 L901.6,455.7 L901.5,457.0 L899.9,457.3 L899.2,458.4 L898.0,459.0 L896.7,460.2 L895.4,458.9 L894.2,458.4 L893.2,457.6 L892.7,456.6 L892.4,455.5 L891.5,454.4 L891.9,453.2 L891.7,451.6 L893.3,451.1 L894.5,450.7 L895.6,450.2 L896.7,450.0 L897.8,450.3 L899.0,450.6 L900.1,451.1 L901.1,452.0 L901.2,453.3 Z" fill="#cde09f"/><path d="M905.8,449.5 L903.7,450.8 L904.0,452.4 L902.6,453.1 L901.7,454.2 L900.1,454.0 L898.7,455.7 L897.4,453.9 L895.8,454.2 L895.1,452.9 L893.5,452.3 L893.9,450.7 L892.9,449.5 L894.0,448.3 L894.6,447.2 L895.1,446.0 L896.4,445.5 L897.5,444.9 L898.7,443.8 L899.9,445.0 L901.3,445.2 L901.9,446.4 L903.5,446.9 L903.4,448.3 Z" fill="#cde09f"/><path d="M907.0,446.8 L905.6,447.9 L905.1,448.8 L904.5,449.7 L904.6,451.8 L902.5,450.4 L901.4,451.8 L900.2,451.0 L898.9,450.8 L898.3,449.7 L897.2,449.1 L897.4,447.9 L896.1,446.8 L897.3,445.8 L897.5,444.6 L898.5,444.0 L899.0,442.6 L900.4,442.8 L901.4,442.9 L902.4,443.2 L903.6,443.1 L904.3,444.1 L906.2,444.1 L905.5,445.8 Z" fill="#cde09f"/><path d="M910.5,445.8 L910.1,446.9 L909.6,447.9 L909.2,449.0 L908.8,450.7 L906.8,449.8 L905.6,450.5 L904.3,450.1 L902.5,450.7 L902.3,448.9 L901.7,447.9 L901.1,446.9 L901.3,445.8 L901.3,444.7 L901.0,443.2 L902.4,442.6 L902.9,441.2 L904.6,442.0 L905.6,439.9 L906.8,441.5 L908.2,441.3 L908.4,443.0 L910.5,443.0 L909.8,444.7 Z" fill="#cde09f"/><path d="M915.9,447.0 L913.5,448.2 L914.8,450.2 L912.5,450.4 L912.3,452.5 L910.2,451.6 L908.8,452.7 L907.4,451.6 L906.1,451.2 L905.2,450.3 L902.9,450.2 L904.1,448.2 L903.7,447.0 L903.7,445.7 L903.3,443.9 L905.3,443.5 L906.4,442.8 L907.6,442.6 L908.8,441.7 L910.2,442.0 L911.8,441.9 L912.5,443.3 L913.4,444.5 L913.6,445.8 Z" fill="#cde09f"/><path d="M916.5,449.9 L916.6,451.2 L916.7,452.6 L914.9,452.9 L914.5,454.6 L912.8,454.3 L911.5,455.9 L910.1,454.7 L908.4,454.7 L907.7,453.3 L906.5,452.5 L906.4,451.1 L906.5,449.9 L906.6,448.6 L907.2,447.5 L908.1,446.5 L909.0,445.6 L910.3,445.4 L911.5,445.0 L912.7,445.4 L914.4,444.9 L914.9,446.5 L916.2,447.2 L916.3,448.6 Z" fill="#cde09f"/><path d="M918.9,455.0 L917.7,456.1 L919.0,458.0 L916.6,457.9 L916.4,459.7 L914.6,458.9 L913.4,459.5 L912.2,459.2 L910.6,459.5 L910.3,457.9 L909.6,457.1 L908.9,456.2 L908.4,455.0 L909.1,453.9 L909.1,452.6 L910.4,452.0 L910.8,450.6 L912.3,450.7 L913.4,449.2 L914.5,451.0 L915.9,450.7 L916.3,452.2 L918.3,452.3 L917.4,454.0 Z" fill="#cde09f"/><path d="M900.8,468.8 L900.5,469.8 L899.7,470.6 L899.3,471.5 L898.8,472.8 L897.1,472.5 L895.9,473.0 L894.8,472.2 L892.6,473.4 L892.5,471.6 L890.6,471.3 L891.8,469.7 L890.0,468.8 L891.8,467.9 L892.0,466.8 L892.8,466.1 L893.2,464.7 L894.9,465.4 L895.9,463.8 L897.0,465.1 L898.8,464.3 L899.1,466.0 L900.7,466.4 L900.1,467.8 Z" fill="#cde09f"/><path d="M911.3,468.8 L909.5,469.8 L909.3,470.9 L908.5,471.6 L908.0,473.0 L906.2,472.3 L905.0,472.8 L903.9,472.2 L902.2,472.7 L901.9,471.4 L900.7,470.9 L900.8,469.7 L900.5,468.8 L900.8,467.8 L900.9,466.8 L902.1,466.2 L902.7,465.3 L903.9,465.2 L905.0,463.7 L906.0,465.4 L907.9,464.4 L908.2,466.0 L909.7,466.5 L909.3,467.8 Z" fill="#cde09f"/><path d="M919.9,468.8 L918.5,469.8 L919.1,471.2 L917.6,471.6 L917.2,473.1 L915.3,472.3 L914.1,472.5 L912.8,472.7 L911.5,472.5 L910.7,471.6 L909.9,470.8 L909.8,469.8 L909.1,468.8 L909.7,467.8 L908.8,466.2 L911.1,466.1 L911.5,464.8 L913.0,465.3 L914.1,464.8 L915.3,464.9 L916.2,465.5 L917.4,466.0 L918.9,466.4 L918.1,467.9 Z" fill="#cde09f"/><path d="M800.7,436.4 L799.0,437.7 L799.8,439.8 L798.5,440.1 L799.2,443.7 L797.5,441.9 L797.1,445.2 L796.0,442.3 L795.0,444.5 L794.6,441.7 L793.9,441.2 L793.3,440.4 L791.5,440.4 L792.6,437.8 L791.3,436.4 L792.6,434.9 L792.4,433.0 L793.7,432.7 L793.6,430.2 L794.7,430.9 L795.1,428.7 L796.0,430.1 L796.8,428.8 L797.3,430.9 L798.6,429.7 L798.5,432.4 L799.5,433.0 L799.0,435.0 Z" fill="#acc765"/><path d="M801.3,446.1 L800.3,447.5 L801.9,450.1 L799.6,450.1 L798.9,451.1 L797.9,451.6 L797.1,453.1 L796.0,452.7 L794.5,455.1 L793.9,452.3 L791.9,453.3 L792.2,450.3 L790.4,449.9 L791.4,447.6 L791.8,446.1 L791.8,444.6 L791.2,442.5 L792.6,441.9 L792.7,439.7 L794.2,440.2 L794.7,437.0 L796.0,440.1 L797.1,438.4 L797.9,439.8 L798.5,441.2 L799.1,442.3 L801.4,442.1 L800.5,444.5 Z" fill="#acc765"/><path d="M795.6,455.8 L795.3,457.1 L797.2,459.6 L795.0,459.9 L794.8,461.9 L793.1,461.6 L792.4,464.2 L790.8,462.5 L789.7,461.7 L788.8,461.1 L786.4,462.6 L786.5,460.1 L784.5,459.6 L786.0,457.1 L785.3,455.8 L786.2,454.4 L786.7,453.1 L786.9,451.6 L787.6,450.3 L788.8,449.9 L789.6,448.1 L790.8,449.5 L792.2,447.6 L792.9,450.0 L794.0,450.4 L794.8,451.5 L795.4,452.9 L795.3,454.4 Z" fill="#acc765"/><path d="M806.5,455.8 L806.0,457.2 L807.4,459.5 L805.0,459.6 L804.6,461.1 L803.5,461.7 L802.4,462.5 L801.2,462.2 L799.9,462.5 L798.8,461.9 L797.8,461.0 L797.4,459.5 L796.1,458.8 L796.4,457.1 L794.6,455.8 L796.3,454.3 L795.2,452.0 L797.4,451.7 L798.2,450.8 L799.0,449.7 L800.0,449.0 L801.2,449.7 L802.4,448.5 L803.4,449.5 L804.5,450.0 L804.8,451.9 L807.4,451.8 L806.3,454.2 Z" fill="#acc765"/><path d="M796.6,465.4 L795.3,466.8 L797.3,469.2 L794.8,469.6 L794.2,471.1 L792.7,471.5 L791.4,472.6 L789.8,471.6 L788.1,473.3 L787.1,471.5 L785.2,471.5 L784.8,469.7 L784.7,468.1 L784.0,466.9 L783.1,465.4 L784.6,464.1 L782.4,461.5 L785.7,461.7 L786.1,460.2 L787.2,459.3 L788.0,456.4 L789.8,458.6 L791.2,458.4 L792.5,459.3 L793.4,460.3 L794.5,461.3 L797.4,461.4 L795.2,464.1 Z" fill="#acc765"/><path d="M808.2,465.4 L808.2,466.9 L809.9,469.4 L807.1,469.6 L807.7,472.7 L804.8,471.2 L803.7,472.6 L802.2,471.4 L800.7,472.3 L799.3,471.7 L798.4,470.4 L797.7,469.2 L796.0,468.6 L796.8,466.8 L795.6,465.4 L796.8,464.1 L796.9,462.6 L797.7,461.4 L797.8,459.3 L799.7,459.6 L800.5,457.0 L802.2,459.0 L804.0,456.4 L804.4,460.1 L805.9,460.1 L806.3,461.8 L807.9,462.4 L808.1,464.0 Z" fill="#acc765"/><path d="M791.5,475.1 L788.4,476.6 L788.2,478.0 L787.1,479.0 L787.2,481.4 L784.7,480.7 L783.9,483.7 L781.7,482.1 L779.8,482.6 L778.5,481.0 L775.5,482.1 L776.2,479.1 L775.1,478.1 L774.4,476.7 L771.6,475.1 L775.7,473.8 L773.5,471.4 L776.6,471.2 L777.7,470.3 L779.0,469.7 L780.2,468.7 L781.7,468.5 L783.2,468.5 L784.3,469.9 L786.0,469.8 L787.1,471.0 L789.0,471.8 L788.5,473.7 Z" fill="#acc765"/><path d="M804.2,475.1 L802.4,476.5 L802.0,477.8 L801.3,479.0 L800.3,480.0 L799.0,480.7 L798.0,483.1 L796.0,481.4 L794.1,482.6 L792.8,481.0 L791.0,480.7 L790.6,479.0 L787.1,479.1 L789.2,476.6 L788.0,475.1 L789.4,473.7 L788.8,471.8 L791.0,471.3 L790.1,468.0 L793.3,469.7 L793.9,466.1 L796.0,468.4 L798.0,466.3 L798.7,469.7 L801.0,469.1 L801.6,470.8 L802.6,472.1 L802.2,473.8 Z" fill="#acc765"/><path d="M819.4,475.1 L816.7,476.5 L818.2,478.6 L815.5,478.9 L816.8,482.4 L813.3,480.7 L811.9,481.4 L810.3,481.8 L808.5,482.2 L807.2,481.0 L804.9,481.2 L804.4,479.4 L802.6,478.5 L803.7,476.5 L803.8,475.1 L803.7,473.7 L803.7,472.1 L805.1,471.1 L805.1,468.7 L807.5,469.4 L808.9,468.9 L810.3,468.8 L812.0,467.6 L813.2,469.2 L816.3,467.8 L815.3,471.3 L817.4,471.9 L816.4,473.8 Z" fill="#acc765"/><path d="M806.8,458.2 L805.0,461.2 L806.9,465.5 L805.1,467.4 L804.5,470.2 L803.6,472.7 L802.8,475.8 L800.8,475.6 L799.7,479.2 L797.8,478.5 L796.0,479.9 L794.3,477.6 L792.5,477.9 L791.0,476.3 L789.2,475.8 L788.8,471.9 L787.6,470.1 L787.4,466.9 L785.0,465.5 L786.4,461.4 L784.7,458.2 L786.9,455.0 L786.5,451.1 L788.3,449.0 L788.3,444.7 L790.2,443.8 L790.5,439.2 L792.6,441.1 L793.2,435.9 L794.8,439.1 L796.0,437.7 L797.2,437.9 L798.3,439.8 L799.5,440.6 L800.9,441.2 L801.8,443.8 L803.5,445.0 L803.8,448.9 L806.0,450.7 L804.9,455.0 Z" fill="#acc765"/><path d="M898.7,457.7 L899.0,460.1 L898.6,462.5 L898.5,465.0 L899.4,468.4 L896.0,468.7 L895.1,471.0 L893.6,472.5 L892.9,475.9 L890.2,475.4 L888.5,477.5 L886.0,475.4 L884.0,478.6 L882.0,475.3 L879.3,478.4 L877.9,475.1 L875.1,476.0 L874.3,472.7 L872.0,472.0 L871.4,469.3 L869.2,468.0 L870.0,464.7 L868.6,462.7 L869.3,460.1 L869.4,457.7 L869.8,455.4 L867.7,452.2 L870.8,450.8 L870.0,447.4 L872.3,446.2 L872.6,443.0 L875.3,443.1 L876.6,441.0 L878.7,441.0 L880.3,439.6 L882.1,439.2 L884.0,436.9 L885.9,438.8 L887.8,439.0 L889.6,440.1 L892.3,438.9 L892.5,443.3 L896.0,442.3 L895.5,446.4 L898.9,446.8 L897.7,450.5 L898.9,452.7 L898.4,455.3 Z" fill="#bcd482"/><path d="M878.5,452.1 L879.0,453.8 L879.2,455.8 L877.0,456.5 L876.7,459.1 L873.9,457.8 L872.2,458.6 L870.4,458.1 L868.6,457.8 L867.6,456.3 L866.5,455.1 L866.3,453.6 L864.9,452.1 L866.0,450.5 L864.5,447.8 L867.7,447.6 L868.6,445.9 L870.6,446.2 L872.2,445.5 L873.8,446.2 L876.6,444.6 L876.4,448.0 L878.6,448.5 L878.6,450.5 Z" fill="#bcd482"/><path d="M883.6,445.9 L882.2,447.7 L883.4,450.3 L879.9,450.2 L879.4,452.5 L877.2,452.5 L875.2,453.5 L873.5,451.7 L870.7,453.1 L870.7,450.1 L869.2,449.2 L868.7,447.6 L868.1,445.9 L868.7,444.3 L868.0,441.9 L870.8,441.6 L871.1,438.8 L873.6,439.7 L875.2,437.8 L876.9,439.9 L878.9,439.6 L879.5,441.8 L881.8,442.2 L882.0,444.2 Z" fill="#bcd482"/><path d="M885.6,442.3 L885.4,443.6 L886.5,445.8 L884.1,446.1 L882.9,447.1 L881.4,447.5 L879.9,449.0 L878.2,447.8 L876.4,447.7 L875.5,446.3 L873.2,445.8 L874.0,443.7 L874.2,442.3 L874.1,440.8 L874.9,439.5 L876.2,438.6 L876.6,436.6 L878.5,437.3 L879.9,436.8 L881.3,437.0 L883.1,436.6 L883.6,438.6 L886.8,438.4 L885.7,440.8 Z" fill="#bcd482"/><path d="M891.3,441.4 L891.0,443.1 L890.0,444.6 L888.7,445.7 L887.7,447.2 L885.9,447.8 L884.0,448.9 L882.2,447.4 L880.0,447.6 L878.8,446.1 L877.6,444.8 L877.1,443.1 L875.3,441.4 L877.7,439.7 L877.6,437.8 L879.5,436.9 L880.2,435.0 L882.4,435.4 L884.0,433.4 L885.6,435.3 L887.5,435.3 L888.7,436.7 L890.6,437.7 L890.3,439.7 Z" fill="#bcd482"/><path d="M897.2,443.2 L896.6,444.9 L898.0,447.6 L894.9,447.8 L893.8,449.3 L891.7,449.3 L889.9,451.2 L888.2,449.0 L885.5,450.1 L884.8,447.9 L882.6,447.1 L883.4,444.9 L882.4,443.2 L883.6,441.6 L884.1,440.0 L885.3,438.7 L886.2,436.8 L888.2,436.9 L889.9,436.4 L891.5,437.1 L892.9,438.1 L894.2,439.0 L897.1,439.2 L895.8,441.7 Z" fill="#bcd482"/><path d="M900.4,446.8 L899.8,448.4 L899.1,449.8 L898.2,451.2 L896.5,451.7 L895.1,452.5 L893.4,454.6 L891.7,452.7 L889.8,452.5 L888.9,450.9 L886.4,450.5 L887.2,448.4 L885.4,446.8 L887.5,445.3 L887.9,443.7 L889.1,442.6 L889.9,440.7 L891.9,441.2 L893.4,438.6 L894.8,441.5 L897.3,440.2 L897.4,442.8 L900.1,443.1 L899.6,445.2 Z" fill="#bcd482"/><path d="M903.6,451.5 L902.1,453.1 L901.7,454.8 L900.6,456.0 L900.4,459.0 L897.5,457.7 L895.6,458.4 L893.7,457.9 L891.6,457.8 L891.0,455.7 L888.3,455.4 L889.1,453.1 L887.6,451.5 L888.8,449.7 L888.7,447.6 L890.8,446.7 L892.1,445.4 L893.9,445.2 L895.6,445.3 L897.2,445.6 L899.7,444.5 L900.3,446.9 L903.2,447.3 L901.8,449.9 Z" fill="#bcd482"/><path d="M877.9,470.8 L877.1,472.2 L877.9,474.0 L875.3,474.3 L874.8,476.1 L872.8,476.1 L871.0,476.3 L869.3,475.8 L866.4,477.2 L866.0,474.9 L864.9,473.7 L865.1,472.1 L864.6,470.8 L865.3,469.5 L863.8,467.2 L866.5,466.9 L867.7,465.8 L869.4,465.6 L871.0,463.9 L872.4,466.0 L875.1,464.6 L875.6,466.8 L876.7,468.0 L877.3,469.4 Z" fill="#bcd482"/><path d="M892.2,470.8 L890.1,472.2 L891.8,474.5 L888.5,474.4 L887.9,476.3 L885.7,475.8 L884.0,477.1 L882.2,476.3 L879.9,476.5 L879.2,474.7 L875.9,474.6 L878.0,472.1 L877.2,470.8 L877.8,469.4 L878.5,468.0 L879.3,466.7 L880.6,465.6 L882.4,465.7 L884.0,464.6 L885.7,465.3 L888.2,464.3 L888.5,466.9 L889.6,468.0 L889.9,469.4 Z" fill="#bcd482"/><path d="M905.2,470.8 L903.0,472.1 L904.8,474.5 L902.0,474.8 L900.5,475.7 L898.7,475.9 L897.0,476.5 L895.2,476.2 L893.7,475.3 L892.2,474.7 L891.4,473.4 L890.4,472.3 L889.3,470.8 L890.8,469.4 L891.6,468.1 L893.0,467.3 L893.6,465.6 L895.3,465.2 L897.0,464.1 L898.7,465.3 L900.0,466.2 L901.1,467.2 L902.2,468.2 L903.3,469.4 Z" fill="#bcd482"/><path d="M923.4,437.0 L923.1,438.4 L924.0,440.7 L922.8,441.3 L922.4,442.8 L921.5,442.9 L920.9,444.1 L920.0,443.7 L919.1,444.3 L918.5,442.8 L917.7,442.6 L917.4,441.0 L916.7,440.1 L917.0,438.3 L916.3,437.0 L916.8,435.5 L916.8,433.9 L917.7,433.2 L917.2,429.8 L918.6,431.1 L919.1,429.2 L920.0,430.6 L921.0,427.9 L921.4,430.8 L922.5,430.4 L922.6,432.8 L923.8,433.2 L923.2,435.5 Z" fill="#acc765"/><path d="M925.1,447.0 L924.2,448.4 L924.9,450.5 L923.5,451.1 L923.5,453.3 L922.0,453.0 L921.4,455.8 L920.0,454.0 L918.9,453.9 L918.2,452.4 L916.9,452.7 L916.8,450.8 L914.5,450.9 L915.6,448.5 L915.2,447.0 L916.0,445.6 L914.6,443.0 L916.5,442.6 L916.6,440.2 L918.1,440.9 L918.8,438.4 L920.0,440.5 L921.1,439.6 L921.8,441.0 L923.7,439.7 L923.6,442.5 L925.5,442.9 L924.4,445.4 Z" fill="#acc765"/><path d="M919.7,457.0 L919.5,458.4 L921.5,461.2 L918.9,461.1 L918.8,463.3 L917.0,462.7 L916.5,466.0 L914.8,463.6 L913.1,466.5 L912.8,462.5 L910.1,464.6 L911.2,460.8 L910.2,459.9 L910.1,458.4 L908.5,457.0 L910.4,455.6 L909.4,453.4 L910.8,452.6 L911.4,450.9 L912.7,450.8 L913.5,448.9 L914.8,450.3 L915.9,450.3 L916.9,451.1 L919.1,449.6 L918.7,452.8 L919.5,454.0 L919.6,455.5 Z" fill="#acc765"/><path d="M931.3,457.0 L929.9,458.4 L930.9,460.6 L929.2,461.2 L928.2,461.9 L927.3,462.6 L926.7,465.3 L925.2,463.3 L924.0,463.3 L922.8,463.2 L921.6,462.8 L920.9,461.4 L919.5,460.6 L920.6,458.4 L918.8,457.0 L920.6,455.6 L919.2,453.0 L921.3,452.7 L921.2,450.0 L923.3,451.5 L924.2,450.8 L925.2,450.1 L926.2,450.4 L927.1,451.4 L928.0,452.0 L928.7,453.1 L930.4,453.6 L930.3,455.4 Z" fill="#acc765"/><path d="M920.4,467.0 L919.4,468.4 L921.4,471.0 L918.3,470.9 L918.8,473.6 L916.6,473.1 L915.8,476.3 L913.8,473.1 L912.1,475.0 L911.2,472.8 L908.5,474.1 L909.3,470.9 L906.6,470.8 L908.4,468.4 L906.7,467.0 L907.7,465.4 L908.3,463.9 L909.6,463.0 L908.8,459.6 L911.3,460.9 L912.6,460.7 L913.8,460.8 L915.2,460.1 L916.2,461.3 L918.8,459.8 L918.5,462.7 L921.5,462.8 L919.7,465.5 Z" fill="#acc765"/><path d="M933.7,467.0 L931.9,468.4 L933.4,470.8 L930.9,471.1 L929.9,472.0 L928.8,472.9 L927.7,474.4 L926.2,473.6 L924.8,473.3 L923.7,472.4 L920.5,474.6 L921.5,471.0 L920.1,470.2 L920.7,468.4 L918.7,467.0 L920.1,465.4 L920.7,464.0 L921.7,462.9 L921.9,460.7 L923.6,460.8 L924.6,459.0 L926.2,460.7 L927.5,460.3 L928.7,460.8 L929.6,461.9 L930.9,462.6 L931.2,464.2 L931.5,465.6 Z" fill="#acc765"/><path d="M913.9,477.0 L912.9,478.6 L913.8,480.7 L911.5,481.3 L911.7,484.0 L908.9,483.2 L907.3,483.3 L905.7,484.0 L904.1,483.6 L902.8,482.6 L901.4,482.0 L900.6,480.8 L896.8,481.0 L899.1,478.4 L898.9,477.0 L899.6,475.7 L897.3,473.0 L900.4,472.8 L899.8,469.6 L903.1,471.5 L904.2,470.5 L905.7,470.7 L907.2,470.3 L908.3,471.5 L910.0,471.6 L911.0,472.8 L911.9,474.0 L911.9,475.6 Z" fill="#acc765"/><path d="M928.4,477.0 L926.6,478.4 L926.5,479.9 L925.6,481.2 L925.4,483.3 L923.0,482.8 L921.9,484.7 L920.0,483.1 L918.0,485.2 L917.1,482.6 L915.0,482.8 L915.0,480.8 L911.0,481.1 L913.1,478.5 L912.1,477.0 L913.4,475.5 L911.3,472.9 L915.2,473.2 L915.3,471.1 L917.1,470.8 L918.3,469.6 L920.0,470.2 L922.1,467.8 L922.6,471.5 L924.5,471.3 L925.0,473.0 L928.1,473.1 L926.9,475.5 Z" fill="#acc765"/><path d="M943.3,477.0 L941.6,478.6 L940.9,480.0 L939.7,481.0 L940.5,484.2 L937.6,483.2 L935.9,483.5 L934.3,484.1 L932.2,485.6 L931.0,483.3 L929.2,482.9 L928.7,481.2 L925.1,481.2 L927.1,478.6 L925.7,477.0 L927.3,475.4 L925.4,472.8 L928.8,472.6 L929.0,470.3 L931.2,470.6 L932.8,470.4 L934.3,470.5 L936.1,469.0 L937.0,471.4 L939.9,470.0 L939.1,473.2 L942.0,473.3 L940.6,475.6 Z" fill="#acc765"/><path d="M929.7,459.5 L929.4,462.7 L929.4,465.9 L928.8,468.7 L929.8,473.9 L927.6,474.6 L926.4,476.7 L924.7,477.4 L923.8,481.9 L921.6,479.0 L920.0,483.9 L918.4,479.0 L916.3,481.2 L915.3,477.3 L914.0,475.5 L913.1,473.2 L912.0,471.1 L911.3,468.6 L910.4,466.1 L910.3,462.8 L909.6,459.5 L911.6,456.5 L910.4,452.2 L912.7,450.5 L912.7,446.3 L914.2,444.8 L914.5,439.7 L916.4,440.6 L917.4,438.5 L918.8,439.8 L920.0,437.6 L921.2,439.8 L922.8,436.9 L923.5,441.4 L925.3,440.5 L925.5,445.6 L927.8,445.4 L927.8,449.9 L928.4,453.0 L928.9,456.3 Z" fill="#acc765"/><rect x="736.1" y="468" width="1.8" height="27" fill="#9db76a"/><rect x="771.6" y="468" width="1.8" height="27" fill="#9db76a"/><rect x="795.1" y="468" width="1.8" height="27" fill="#9db76a"/><rect x="849.1" y="468" width="1.8" height="27" fill="#9db76a"/><rect x="867.1" y="468" width="1.8" height="27" fill="#9db76a"/><rect x="890.7" y="468" width="1.8" height="27" fill="#9db76a"/><rect x="918.1" y="468" width="1.8" height="27" fill="#9db76a"/><rect x="953.6" y="468" width="1.8" height="27" fill="#9db76a"/><rect x="984.8" y="468" width="1.8" height="27" fill="#9db76a"/><rect x="997.1" y="468" width="1.8" height="27" fill="#9db76a"/><rect x="823.7" y="468" width="1.8" height="27" fill="#9db76a"/><rect x="759.1" y="468" width="1.8" height="27" fill="#9db76a"/><rect x="844.1" y="468" width="1.8" height="27" fill="#9db76a"/><rect x="904.1" y="468" width="1.8" height="27" fill="#9db76a"/><rect x="939.1" y="468" width="1.8" height="27" fill="#9db76a"/><rect x="809.1" y="468" width="1.8" height="27" fill="#9db76a"/><rect x="749.1" y="468" width="1.8" height="27" fill="#9db76a"/><path d="M748.3,467.9 L747.6,469.4 L748.8,471.1 L747.0,472.3 L748.3,474.5 L745.6,475.0 L745.6,477.2 L743.3,477.5 L741.3,477.9 L739.5,478.3 L737.8,479.0 L735.9,479.4 L734.0,481.4 L732.0,479.6 L729.8,480.2 L728.2,479.0 L726.2,478.6 L725.3,476.9 L722.4,477.1 L722.9,474.7 L721.1,473.9 L721.2,472.2 L720.0,471.0 L720.4,469.4 L718.6,467.9 L720.5,466.5 L719.1,464.6 L720.9,463.4 L721.5,461.8 L723.5,461.1 L723.2,458.7 L725.6,458.6 L726.1,456.2 L728.8,457.2 L730.2,455.5 L732.2,456.1 L734.0,454.9 L735.8,456.0 L737.6,456.3 L739.3,457.0 L741.5,456.7 L742.2,458.8 L743.4,459.9 L744.8,460.9 L746.3,461.9 L746.9,463.5 L748.6,464.7 L747.9,466.4 Z" fill="#9db64c"/><path d="M729.5,465.3 L728.2,466.7 L729.7,469.1 L726.9,469.3 L725.7,470.4 L724.0,470.4 L722.5,471.7 L720.9,470.7 L719.1,470.6 L718.1,469.3 L716.6,468.5 L717.1,466.7 L715.8,465.3 L717.3,463.9 L715.7,461.5 L718.9,461.8 L719.4,460.0 L721.2,460.5 L722.5,458.5 L723.8,460.4 L725.3,460.5 L726.3,461.5 L728.4,462.0 L728.1,463.8 Z" fill="#9db64c"/><path d="M731.8,461.0 L731.3,462.5 L730.7,463.9 L729.2,464.6 L729.4,467.6 L726.8,466.4 L725.2,466.7 L723.6,466.1 L720.9,467.7 L720.7,465.1 L720.0,463.7 L719.2,462.5 L718.9,461.0 L719.6,459.5 L719.0,457.5 L721.4,457.3 L721.2,454.2 L723.7,455.7 L725.2,455.3 L726.7,455.3 L728.0,456.1 L728.9,457.3 L731.4,457.5 L730.8,459.5 Z" fill="#9db64c"/><path d="M737.1,458.2 L736.1,459.7 L737.4,462.1 L734.9,462.6 L733.9,464.2 L732.0,464.7 L730.1,464.8 L728.2,464.4 L726.6,463.6 L724.9,463.0 L721.8,462.6 L723.4,459.9 L722.7,458.2 L723.5,456.5 L722.3,453.8 L725.3,453.5 L727.0,452.9 L728.4,452.1 L730.1,451.8 L731.7,452.1 L734.5,450.5 L734.9,453.5 L736.1,454.8 L736.5,456.6 Z" fill="#9db64c"/><path d="M741.0,457.6 L739.4,459.1 L739.2,460.7 L737.7,461.4 L737.4,463.7 L735.2,463.1 L733.6,464.0 L732.1,462.6 L730.6,462.3 L729.6,461.3 L726.7,461.3 L728.0,459.0 L726.4,457.6 L728.2,456.3 L728.1,454.6 L729.9,454.0 L729.7,451.0 L732.1,452.3 L733.6,452.2 L735.0,452.2 L736.9,451.8 L737.5,453.7 L739.9,454.1 L739.1,456.2 Z" fill="#9db64c"/><path d="M747.5,458.8 L746.5,460.6 L746.6,462.5 L744.6,463.4 L743.7,465.2 L741.5,465.3 L739.6,466.2 L737.7,465.0 L734.7,466.5 L734.3,463.7 L731.7,463.0 L732.4,460.6 L731.7,458.8 L732.8,457.1 L733.3,455.3 L735.0,454.3 L736.3,453.1 L737.8,452.2 L739.6,449.7 L741.2,452.7 L743.3,452.4 L744.0,454.5 L745.5,455.5 L746.3,457.1 Z" fill="#9db64c"/><path d="M749.3,461.5 L749.0,462.9 L748.6,464.3 L747.7,465.5 L746.6,466.6 L744.9,466.6 L743.3,467.0 L741.9,466.4 L740.0,466.8 L739.4,465.1 L736.9,464.9 L738.3,462.8 L736.3,461.5 L737.8,460.1 L738.1,458.6 L739.7,457.9 L740.7,456.9 L742.1,456.7 L743.3,454.5 L744.7,456.3 L745.9,457.1 L747.1,457.8 L749.2,458.2 L748.5,460.2 Z" fill="#9db64c"/><path d="M751.6,463.6 L751.2,465.2 L750.9,466.8 L749.6,468.0 L749.2,470.4 L746.5,469.2 L744.8,469.4 L743.1,469.4 L741.6,468.6 L740.3,467.7 L739.4,466.5 L739.2,465.0 L737.8,463.6 L739.3,462.2 L737.5,459.5 L740.6,459.5 L740.8,456.7 L743.2,457.6 L744.8,456.0 L746.3,457.9 L748.2,457.7 L749.2,459.3 L751.4,459.9 L750.3,462.2 Z" fill="#9db64c"/><path d="M729.0,476.2 L727.5,477.5 L728.1,479.3 L726.2,479.9 L725.7,481.9 L723.3,481.2 L721.6,483.0 L719.9,481.4 L718.5,480.6 L717.5,479.6 L716.4,478.7 L716.0,477.5 L713.1,476.2 L716.0,474.9 L715.7,473.2 L717.5,472.6 L718.1,470.8 L720.2,471.4 L721.6,469.4 L723.1,471.4 L725.6,470.2 L726.0,472.4 L726.5,473.8 L727.5,474.9 Z" fill="#9db64c"/><path d="M740.0,476.2 L740.3,477.6 L739.3,478.7 L738.3,479.7 L738.2,482.0 L735.7,481.2 L734.0,482.7 L732.4,481.1 L730.2,481.5 L729.8,479.6 L727.7,479.2 L728.3,477.5 L726.3,476.2 L728.6,475.0 L728.8,473.6 L730.1,472.8 L730.5,470.9 L732.5,471.2 L734.0,471.3 L735.6,470.9 L737.9,470.2 L738.0,472.7 L739.3,473.6 L740.1,474.8 Z" fill="#9db64c"/><path d="M754.9,476.2 L752.0,477.5 L753.4,479.6 L751.0,480.0 L750.8,482.4 L747.9,480.9 L746.4,481.4 L744.8,480.9 L743.0,480.9 L741.6,480.0 L738.9,479.7 L740.4,477.5 L740.2,476.2 L740.7,474.9 L740.9,473.5 L742.1,472.5 L742.6,470.5 L744.8,471.0 L746.4,470.3 L747.8,471.3 L749.8,471.0 L750.4,472.7 L752.3,473.2 L752.3,474.8 Z" fill="#9db64c"/><path d="M778.5,450.6 L777.5,451.6 L778.0,453.2 L777.0,453.4 L776.7,454.2 L776.2,454.8 L775.7,455.9 L775.0,455.0 L774.4,455.2 L773.8,454.8 L772.5,456.0 L772.7,453.7 L772.7,452.6 L772.5,451.6 L772.0,450.6 L772.5,449.6 L772.6,448.5 L773.0,447.6 L772.8,445.4 L773.9,446.4 L774.4,445.8 L775.0,446.2 L775.5,446.2 L776.1,446.1 L776.7,446.6 L777.1,447.5 L778.2,447.8 L777.3,449.6 Z" fill="#9db64c"/><path d="M778.6,457.8 L778.3,458.8 L779.3,460.6 L777.9,460.9 L777.5,461.9 L776.6,462.0 L775.9,463.1 L775.0,462.5 L773.9,464.1 L773.5,461.9 L771.9,462.9 L772.0,461.0 L771.0,460.4 L771.3,458.9 L770.0,457.8 L771.9,456.8 L770.5,454.8 L772.5,455.0 L772.2,452.7 L773.7,453.8 L774.2,452.7 L775.0,453.1 L776.0,451.3 L776.5,453.4 L777.2,453.9 L777.8,454.6 L779.3,454.9 L778.3,456.7 Z" fill="#9db64c"/><path d="M774.7,465.0 L774.6,466.0 L774.9,467.3 L774.0,467.9 L774.6,470.4 L772.7,469.3 L772.2,471.4 L770.9,469.4 L769.9,470.0 L769.0,469.5 L768.0,469.2 L767.9,467.8 L767.4,467.0 L767.3,466.0 L766.3,465.0 L767.1,463.9 L766.9,462.6 L767.9,462.0 L768.3,460.9 L769.4,461.1 L769.8,459.0 L770.9,460.4 L771.9,459.4 L772.5,460.8 L773.5,461.0 L773.6,462.3 L774.7,462.7 L774.5,464.0 Z" fill="#9db64c"/><path d="M783.1,465.0 L782.6,466.0 L783.5,467.5 L782.0,467.7 L782.7,470.3 L780.8,469.2 L780.2,470.5 L779.1,469.8 L778.2,469.4 L777.4,469.0 L775.6,470.1 L775.9,468.0 L774.7,467.5 L775.3,466.0 L773.8,465.0 L775.3,463.9 L774.4,462.2 L776.0,461.9 L775.8,459.7 L777.4,460.6 L778.0,459.0 L779.1,460.3 L780.1,459.3 L780.7,460.7 L782.0,460.4 L782.2,461.9 L784.0,462.1 L782.6,464.0 Z" fill="#9db64c"/><path d="M776.4,472.2 L774.8,473.3 L775.6,474.8 L774.2,475.4 L773.1,475.8 L772.2,476.5 L771.4,477.5 L770.1,477.3 L769.0,477.0 L768.0,476.5 L767.0,476.0 L766.2,475.3 L764.9,474.7 L765.3,473.3 L764.9,472.2 L765.3,471.1 L766.2,470.2 L766.7,469.4 L766.4,467.2 L768.0,467.6 L768.8,465.9 L770.1,467.6 L771.1,467.6 L772.1,467.8 L773.9,467.2 L773.4,469.5 L776.1,469.2 L774.6,471.1 Z" fill="#9db64c"/><path d="M784.4,472.2 L784.5,473.3 L784.8,474.5 L783.4,475.0 L784.2,477.5 L782.2,476.8 L781.0,476.9 L779.9,476.9 L778.7,477.3 L777.7,476.6 L776.8,475.9 L776.2,475.1 L774.9,474.6 L775.3,473.3 L774.4,472.2 L775.3,471.1 L773.9,469.2 L776.1,469.0 L775.9,466.9 L777.8,467.7 L778.8,467.3 L779.9,467.7 L781.1,466.7 L781.9,467.8 L783.4,467.5 L783.3,469.3 L786.0,469.2 L784.2,471.2 Z" fill="#9db64c"/><path d="M768.8,479.4 L768.6,480.4 L768.9,481.6 L768.2,482.5 L768.6,484.6 L765.9,483.3 L765.0,484.4 L763.6,483.9 L761.9,485.7 L761.0,484.0 L759.8,483.4 L759.6,482.2 L756.3,482.4 L757.8,480.5 L756.4,479.4 L758.4,478.3 L757.2,476.6 L759.3,476.3 L759.7,474.9 L761.5,475.3 L762.2,473.7 L763.6,474.5 L764.9,474.2 L765.9,475.0 L767.0,475.6 L768.1,476.2 L768.7,477.2 L768.6,478.4 Z" fill="#9db64c"/><path d="M782.9,479.4 L780.8,480.5 L782.2,482.4 L779.7,482.5 L779.9,484.6 L777.6,483.9 L776.6,485.2 L775.0,483.8 L773.3,485.6 L772.4,483.9 L770.1,484.6 L771.0,482.1 L770.1,481.4 L769.4,480.5 L768.4,479.4 L769.4,478.3 L767.9,476.4 L770.9,476.5 L770.8,474.5 L772.7,475.0 L773.5,473.3 L775.0,474.8 L776.5,473.4 L777.1,475.4 L779.6,474.1 L779.3,476.3 L781.6,476.6 L780.2,478.4 Z" fill="#9db64c"/><path d="M792.1,479.4 L791.7,480.4 L792.9,482.1 L790.8,482.4 L789.9,483.1 L788.6,483.3 L787.8,484.8 L786.4,483.9 L785.0,484.3 L784.0,483.5 L782.2,483.7 L781.8,482.5 L779.2,482.4 L780.8,480.5 L781.2,479.4 L780.8,478.3 L780.3,476.8 L782.1,476.3 L782.2,474.7 L784.2,475.2 L785.1,474.2 L786.4,475.0 L787.9,473.4 L788.4,475.5 L790.6,474.5 L790.8,476.2 L792.6,476.7 L791.7,478.3 Z" fill="#9db64c"/><path d="M783.6,466.8 L782.7,469.2 L783.7,472.2 L782.3,473.8 L782.1,476.2 L780.5,476.7 L780.5,480.3 L778.9,480.0 L778.2,483.5 L776.3,481.4 L775.0,482.5 L773.7,480.6 L771.9,483.4 L771.1,480.0 L769.0,481.4 L769.2,477.2 L767.2,477.1 L767.8,473.6 L766.0,472.4 L767.7,469.1 L766.2,466.8 L768.1,464.5 L768.6,462.4 L769.1,460.3 L769.4,457.6 L770.3,456.0 L771.1,454.0 L772.3,454.0 L772.8,450.7 L774.1,452.9 L775.0,451.4 L775.9,452.5 L776.9,452.8 L777.8,453.6 L779.0,453.9 L779.6,456.1 L780.6,457.6 L781.2,459.8 L781.7,462.2 L782.0,464.5 Z" fill="#9db64c"/><path d="M842.2,463.1 L841.4,465.0 L842.1,467.3 L841.6,469.2 L841.0,471.2 L839.7,472.6 L839.5,475.1 L837.4,475.2 L836.8,477.9 L834.6,477.0 L833.4,479.0 L831.6,478.3 L830.0,481.1 L828.3,478.9 L826.3,480.1 L825.2,477.6 L822.8,478.9 L822.3,475.7 L821.4,474.0 L820.6,472.3 L817.9,472.0 L818.5,469.2 L816.1,467.9 L817.9,465.2 L818.0,463.1 L818.2,461.0 L817.4,458.6 L819.1,457.1 L819.9,455.2 L820.5,453.2 L821.2,451.1 L823.2,450.9 L823.2,447.0 L825.7,448.8 L827.1,448.1 L828.5,447.4 L830.0,446.9 L831.4,448.0 L833.0,447.3 L834.4,448.5 L835.9,448.9 L837.0,450.5 L839.5,450.1 L839.5,453.2 L841.7,453.9 L841.1,456.9 L841.7,458.9 L842.0,461.0 Z" fill="#acc765"/><path d="M825.6,459.4 L825.2,460.7 L827.0,463.0 L824.0,462.8 L824.0,465.1 L821.8,464.4 L820.3,464.3 L818.8,464.6 L817.6,463.7 L816.2,463.2 L814.0,462.8 L815.1,460.8 L814.1,459.4 L815.6,458.2 L814.6,456.2 L817.0,456.1 L817.3,454.2 L818.9,454.2 L820.3,453.0 L821.6,454.9 L823.6,453.8 L824.1,455.8 L825.3,456.6 L825.7,458.1 Z" fill="#acc765"/><path d="M828.9,453.5 L827.6,454.7 L827.7,456.1 L826.7,457.1 L825.7,458.2 L824.2,458.4 L822.7,458.9 L821.4,457.9 L820.2,457.5 L818.7,457.2 L816.8,456.7 L817.3,454.8 L816.4,453.5 L818.2,452.3 L818.3,451.0 L819.5,450.3 L819.7,448.2 L821.5,448.7 L822.7,446.6 L824.0,448.9 L825.3,449.0 L826.1,450.2 L827.2,451.0 L827.2,452.3 Z" fill="#acc765"/><path d="M831.7,450.4 L831.3,451.7 L831.0,453.1 L829.9,454.0 L829.2,455.5 L827.3,454.8 L826.0,455.1 L824.5,455.2 L822.3,456.2 L822.5,453.6 L820.1,453.5 L821.1,451.6 L819.4,450.4 L820.8,449.1 L820.3,447.2 L822.6,447.1 L823.4,446.1 L824.6,445.3 L826.0,443.6 L827.3,445.4 L828.9,445.3 L829.2,447.2 L830.8,447.7 L831.2,449.1 Z" fill="#acc765"/><path d="M834.0,449.3 L834.3,450.6 L834.1,451.9 L832.5,452.4 L832.1,453.9 L830.4,453.6 L829.1,454.7 L827.8,453.9 L825.9,454.5 L825.7,452.4 L823.8,452.1 L824.6,450.4 L823.4,449.3 L824.2,448.0 L824.6,446.8 L825.6,445.8 L826.6,444.9 L827.9,444.8 L829.1,443.0 L830.3,445.1 L832.0,444.3 L832.5,445.9 L834.6,446.2 L834.2,448.0 Z" fill="#acc765"/><path d="M839.5,450.6 L839.2,451.8 L839.1,453.1 L838.0,453.9 L836.9,454.6 L835.8,455.2 L834.4,455.9 L833.2,454.8 L831.8,454.7 L830.6,454.1 L828.5,453.7 L829.3,451.9 L828.8,450.6 L829.4,449.3 L830.1,448.2 L830.9,447.2 L831.1,445.0 L833.2,446.3 L834.4,446.2 L835.5,446.4 L836.7,446.6 L837.9,447.2 L839.5,447.7 L839.0,449.4 Z" fill="#acc765"/><path d="M842.4,452.9 L841.8,454.1 L842.8,456.1 L840.9,456.6 L840.6,458.8 L838.4,458.1 L836.8,458.1 L835.4,457.7 L833.9,457.4 L832.9,456.5 L832.2,455.4 L831.2,454.3 L829.9,452.9 L831.4,451.5 L831.4,449.9 L832.9,449.0 L833.3,446.9 L835.4,447.7 L836.8,446.0 L838.1,448.2 L839.7,447.9 L840.3,449.5 L842.9,449.5 L842.0,451.6 Z" fill="#acc765"/><path d="M845.4,459.6 L844.8,460.9 L845.9,463.0 L843.5,463.1 L843.3,465.2 L841.1,464.5 L839.7,464.7 L838.3,464.3 L837.1,463.7 L835.9,463.1 L833.5,463.0 L834.8,460.9 L834.6,459.6 L834.9,458.4 L835.6,457.3 L836.3,456.3 L837.3,455.6 L838.5,455.2 L839.7,453.3 L841.0,454.9 L842.9,454.1 L843.0,456.3 L844.6,456.9 L844.1,458.5 Z" fill="#acc765"/><path d="M826.4,474.2 L824.7,475.3 L824.8,476.7 L823.1,477.1 L822.7,478.6 L820.9,478.1 L819.6,478.5 L818.3,478.1 L816.5,478.5 L816.1,477.1 L813.5,477.1 L814.5,475.3 L812.6,474.2 L814.7,473.1 L815.2,472.0 L816.2,471.3 L816.3,469.2 L818.3,470.0 L819.6,468.8 L820.9,470.0 L822.0,470.6 L822.9,471.3 L824.6,471.7 L824.7,473.0 Z" fill="#acc765"/><path d="M837.2,474.2 L835.1,475.3 L834.9,476.5 L833.5,477.0 L833.3,478.7 L831.4,478.3 L830.0,480.2 L828.7,478.2 L827.2,478.1 L826.5,477.0 L825.6,476.3 L824.8,475.4 L823.0,474.2 L825.4,473.1 L825.9,472.1 L826.5,471.1 L827.4,470.2 L828.7,470.0 L830.0,468.2 L831.3,469.9 L832.6,470.2 L833.5,471.1 L834.7,471.9 L835.1,473.0 Z" fill="#acc765"/><path d="M845.9,474.2 L845.7,475.4 L846.2,476.9 L844.4,477.4 L843.4,478.4 L841.9,478.7 L840.4,479.5 L839.1,478.2 L837.0,478.9 L836.8,477.1 L835.8,476.4 L835.8,475.2 L834.1,474.2 L835.7,473.1 L836.1,472.0 L836.8,471.0 L837.9,470.4 L839.1,469.9 L840.4,469.5 L841.6,470.1 L843.8,469.0 L844.1,471.0 L846.2,471.3 L845.6,473.0 Z" fill="#acc765"/><path d="M882.0,469.9 L881.0,471.5 L881.8,473.3 L880.0,474.4 L879.8,476.0 L878.2,476.9 L878.2,479.0 L875.8,479.0 L875.4,481.2 L873.2,481.0 L871.9,482.7 L869.7,481.2 L868.0,481.4 L866.3,481.3 L864.3,482.0 L862.8,481.0 L860.8,481.0 L860.0,479.2 L857.7,479.0 L857.6,477.0 L855.4,476.5 L856.0,474.4 L854.4,473.2 L855.7,471.4 L855.3,469.9 L855.6,468.4 L853.9,466.4 L856.2,465.3 L856.9,463.9 L858.2,462.8 L858.6,461.0 L860.7,460.8 L861.9,459.7 L863.3,459.0 L864.9,458.8 L866.5,458.7 L868.0,457.9 L869.5,458.7 L871.2,458.5 L872.4,459.6 L874.6,459.0 L875.2,461.0 L877.6,460.8 L877.8,462.8 L879.9,463.5 L879.4,465.5 L881.4,466.6 L880.2,468.4 Z" fill="#9db64c"/><path d="M864.1,466.5 L863.9,468.0 L864.3,469.9 L862.5,470.7 L861.7,472.5 L859.5,471.9 L858.0,473.8 L856.4,471.7 L854.5,471.9 L853.7,470.4 L851.2,470.1 L852.1,468.0 L851.9,466.5 L852.0,465.0 L851.0,462.6 L854.0,462.6 L854.0,459.7 L856.5,461.1 L858.0,460.3 L859.3,461.5 L860.6,461.9 L862.0,462.6 L864.3,463.0 L863.6,465.1 Z" fill="#9db64c"/><path d="M867.7,462.5 L866.0,463.9 L866.7,465.8 L864.6,466.2 L864.2,468.2 L862.1,467.6 L860.6,467.7 L859.0,467.6 L856.9,468.3 L856.6,466.1 L853.7,466.2 L855.2,463.8 L854.9,462.5 L855.4,461.2 L855.4,459.6 L857.1,459.0 L857.0,456.3 L859.3,457.7 L860.6,455.8 L861.9,457.8 L863.7,457.1 L864.6,458.5 L865.2,459.9 L866.1,461.1 Z" fill="#9db64c"/><path d="M871.4,460.9 L868.8,462.4 L869.7,464.6 L867.3,465.1 L866.1,466.2 L864.4,466.5 L862.8,467.8 L861.0,467.0 L859.5,466.1 L858.2,465.1 L856.3,464.4 L856.7,462.5 L854.5,460.9 L856.8,459.4 L857.0,457.7 L858.2,456.5 L859.1,454.6 L861.3,455.5 L862.8,453.8 L864.4,454.9 L865.7,456.0 L867.1,456.7 L869.0,457.4 L868.5,459.5 Z" fill="#9db64c"/><path d="M873.3,459.7 L872.3,460.9 L873.0,462.7 L871.0,463.0 L870.7,465.0 L868.7,464.4 L867.3,466.2 L865.8,464.7 L864.4,464.2 L863.2,463.4 L861.7,462.6 L862.3,460.9 L861.7,459.7 L862.2,458.3 L862.2,456.8 L863.6,456.1 L864.6,455.1 L865.9,454.6 L867.3,454.4 L868.6,454.6 L870.2,454.7 L870.8,456.2 L872.7,456.6 L872.3,458.4 Z" fill="#9db64c"/><path d="M880.3,460.5 L878.1,462.0 L877.4,463.2 L876.8,464.6 L875.2,465.0 L873.8,465.3 L872.4,467.7 L870.9,465.5 L869.5,465.0 L868.5,464.1 L866.4,463.7 L866.5,462.0 L867.0,460.5 L867.3,459.2 L867.8,458.0 L868.8,457.0 L869.4,455.4 L871.0,455.4 L872.4,453.0 L873.8,455.2 L876.0,454.2 L876.3,456.7 L879.0,456.8 L877.9,459.1 Z" fill="#9db64c"/><path d="M881.8,462.5 L880.4,463.8 L882.1,466.1 L879.4,466.1 L878.4,467.2 L876.9,467.5 L875.5,469.4 L874.0,467.3 L872.0,468.0 L871.8,465.9 L870.3,465.3 L870.4,463.8 L869.0,462.5 L870.2,461.2 L870.6,459.8 L871.7,458.8 L872.3,457.1 L874.1,457.4 L875.5,455.2 L876.7,457.7 L879.1,456.2 L879.1,458.9 L880.9,459.5 L880.3,461.3 Z" fill="#9db64c"/><path d="M883.5,465.7 L882.9,467.0 L882.8,468.4 L882.0,469.6 L880.9,470.6 L879.2,470.8 L877.7,472.9 L876.2,470.9 L874.6,470.5 L873.4,469.7 L870.4,469.6 L872.0,467.1 L871.0,465.7 L872.2,464.3 L871.5,462.2 L873.6,461.6 L874.1,459.4 L876.4,460.6 L877.7,458.5 L879.0,460.7 L880.5,460.9 L881.6,461.8 L882.8,462.8 L883.3,464.3 Z" fill="#9db64c"/><path d="M862.9,478.2 L862.6,479.5 L862.5,480.8 L861.1,481.6 L860.9,483.7 L858.4,482.6 L857.0,484.2 L855.5,482.6 L853.7,482.7 L853.2,481.2 L850.8,481.1 L851.3,479.5 L850.0,478.2 L851.9,477.1 L851.4,475.5 L853.3,475.0 L854.0,473.7 L855.6,473.6 L857.0,473.8 L858.3,473.8 L860.0,473.5 L860.4,475.2 L862.9,475.2 L861.9,477.1 Z" fill="#9db64c"/><path d="M874.2,478.2 L873.1,479.3 L874.0,481.0 L871.9,481.4 L871.6,483.3 L869.5,482.6 L868.0,484.3 L866.5,482.6 L865.2,482.2 L864.0,481.4 L862.8,480.7 L862.9,479.3 L860.4,478.2 L862.8,477.0 L862.0,475.2 L864.5,475.1 L864.8,473.2 L866.7,474.1 L868.0,473.4 L869.3,474.0 L870.5,474.4 L871.9,474.8 L874.5,475.0 L873.1,477.0 Z" fill="#9db64c"/><path d="M884.3,478.2 L884.6,479.4 L885.2,481.1 L882.7,481.2 L882.8,483.4 L880.4,482.3 L879.0,483.1 L877.5,482.8 L875.3,483.4 L875.2,481.3 L873.3,480.9 L873.5,479.4 L872.3,478.2 L873.9,477.0 L874.3,475.8 L875.6,475.2 L876.4,474.1 L877.7,473.8 L879.0,472.6 L880.4,473.8 L882.3,473.2 L882.8,474.9 L884.8,475.3 L884.1,477.0 Z" fill="#9db64c"/><path d="M979.6,465.9 L976.6,467.2 L979.3,468.9 L976.2,469.9 L977.1,471.7 L973.5,472.1 L973.4,473.9 L969.8,473.8 L968.0,474.8 L965.2,474.8 L963.7,476.7 L960.5,475.6 L958.0,477.0 L955.4,475.8 L952.4,476.6 L950.6,475.1 L948.0,474.8 L946.4,473.7 L942.6,473.9 L942.3,472.2 L940.7,471.1 L940.8,469.6 L938.4,468.7 L939.6,467.2 L937.3,465.9 L939.3,464.5 L937.7,462.9 L940.8,462.0 L940.2,460.2 L943.2,459.6 L944.4,458.3 L947.2,458.0 L948.1,456.2 L951.3,456.8 L952.7,454.7 L955.7,456.0 L958.0,454.9 L960.3,455.9 L962.8,455.7 L964.5,457.0 L967.2,456.9 L968.8,458.0 L973.0,457.5 L971.8,460.0 L976.4,460.0 L975.4,461.9 L978.4,462.9 L976.0,464.6 Z" fill="#9db64c"/><path d="M951.7,463.7 L951.3,465.8 L954.0,469.6 L949.6,469.8 L949.2,473.5 L945.4,472.3 L942.9,472.4 L940.4,471.8 L938.2,471.0 L936.4,469.5 L933.4,468.7 L933.7,466.0 L933.1,463.7 L934.1,461.4 L935.2,459.3 L937.0,457.9 L938.7,456.5 L940.6,455.4 L942.9,453.2 L945.1,455.2 L947.8,455.2 L949.4,457.3 L952.6,458.2 L951.5,461.4 Z" fill="#9db64c"/><path d="M955.5,459.4 L954.7,461.2 L955.6,463.8 L953.2,464.8 L952.3,467.2 L949.2,465.8 L947.3,469.4 L945.2,466.2 L943.1,465.9 L941.5,464.6 L938.9,463.8 L939.5,461.3 L938.1,459.4 L940.4,457.6 L939.8,455.2 L942.2,454.3 L943.3,452.4 L945.4,452.4 L947.3,452.0 L949.1,452.7 L950.9,453.1 L952.0,454.7 L954.9,455.1 L954.7,457.4 Z" fill="#9db64c"/><path d="M962.6,457.8 L960.4,460.1 L960.1,462.4 L958.4,464.2 L956.7,466.0 L954.0,466.5 L951.4,466.9 L948.8,466.6 L945.4,467.2 L945.2,463.5 L941.0,463.3 L943.1,459.9 L941.2,457.8 L943.0,455.6 L943.0,453.1 L945.4,451.9 L947.0,450.2 L949.2,449.7 L951.4,449.3 L953.7,449.2 L956.2,449.5 L957.7,451.6 L960.2,452.9 L960.6,455.4 Z" fill="#9db64c"/><path d="M970.8,457.0 L968.1,459.3 L969.8,462.7 L965.4,462.7 L964.7,465.7 L961.4,464.3 L959.2,466.2 L956.9,464.7 L953.6,465.8 L953.4,462.3 L949.2,462.4 L951.3,459.0 L949.3,457.0 L951.0,454.9 L949.4,451.5 L953.2,451.1 L955.0,449.8 L957.0,449.0 L959.2,448.4 L961.3,449.0 L963.9,448.9 L965.4,450.9 L967.6,452.3 L967.1,455.0 Z" fill="#9db64c"/><path d="M973.9,457.6 L972.3,459.7 L973.5,462.8 L970.6,463.9 L970.4,468.1 L966.1,465.4 L963.8,467.2 L961.2,466.2 L958.1,466.5 L956.9,463.9 L953.5,463.1 L955.4,459.7 L954.9,457.6 L955.5,455.5 L955.4,452.9 L957.9,451.8 L959.0,449.5 L961.7,449.8 L963.8,449.3 L966.0,449.3 L969.5,447.8 L969.6,451.9 L971.4,453.3 L972.7,455.3 Z" fill="#9db64c"/><path d="M977.5,459.3 L975.7,461.1 L977.4,464.0 L974.1,464.3 L973.3,466.7 L970.6,466.0 L968.6,466.1 L966.5,466.5 L964.2,466.3 L962.8,464.6 L962.0,462.8 L961.4,461.1 L959.6,459.3 L961.9,457.6 L962.4,455.8 L963.2,454.0 L963.6,450.7 L966.6,451.9 L968.6,450.7 L970.5,452.2 L973.0,451.7 L973.7,454.3 L975.1,455.6 L975.9,457.4 Z" fill="#9db64c"/><path d="M981.0,462.8 L980.8,464.8 L980.3,466.8 L979.2,468.7 L978.0,471.0 L974.9,470.3 L972.7,473.5 L970.4,470.6 L967.8,470.4 L966.5,468.4 L965.5,466.6 L964.9,464.7 L964.4,462.8 L964.0,460.5 L962.8,457.2 L966.8,457.0 L967.0,453.0 L970.6,454.9 L972.7,452.5 L974.7,455.5 L977.4,454.7 L978.6,457.0 L980.9,458.1 L981.0,460.6 Z" fill="#9db64c"/><path d="M950.7,473.0 L949.8,474.8 L949.2,476.5 L947.6,477.7 L946.6,479.7 L943.9,479.5 L941.8,479.6 L939.7,479.2 L936.4,480.5 L936.2,477.5 L933.4,477.0 L933.3,474.9 L931.8,473.0 L933.9,471.2 L932.9,468.6 L935.9,467.9 L937.4,466.4 L939.8,466.6 L941.8,464.2 L943.6,467.0 L946.2,466.2 L947.0,468.4 L949.9,468.9 L949.6,471.2 Z" fill="#9db64c"/><path d="M968.9,473.0 L965.8,474.7 L967.1,477.3 L963.5,477.4 L963.3,480.4 L960.3,479.9 L958.0,481.4 L955.8,479.5 L953.0,480.0 L952.2,477.7 L950.6,476.5 L950.6,474.7 L947.4,473.0 L950.4,471.3 L951.5,469.7 L952.5,468.2 L952.9,465.2 L956.0,466.4 L958.0,466.0 L960.1,466.0 L962.0,467.0 L963.4,468.2 L965.9,469.1 L965.2,471.4 Z" fill="#9db64c"/><path d="M982.9,473.0 L981.7,474.7 L981.6,476.5 L979.7,477.4 L979.5,480.3 L976.5,479.7 L974.2,480.2 L971.9,480.0 L969.4,479.7 L968.4,477.7 L964.4,477.7 L966.3,474.8 L964.9,473.0 L966.3,471.2 L965.5,468.6 L969.0,468.4 L970.5,467.3 L972.2,466.3 L974.2,464.2 L976.2,466.4 L978.1,467.1 L979.9,468.1 L981.2,469.5 L982.2,471.2 Z" fill="#9db64c"/><path d="M1004.7,449.9 L1004.0,451.1 L1003.7,452.1 L1003.3,453.0 L1003.5,455.3 L1002.2,454.2 L1001.7,454.7 L1001.0,455.0 L1000.0,456.9 L999.6,454.6 L999.0,454.2 L998.8,452.9 L997.2,453.0 L997.9,451.1 L997.1,449.9 L998.3,448.8 L997.5,446.9 L999.0,447.0 L999.2,445.7 L999.8,445.4 L1000.1,442.6 L1001.0,445.2 L1001.6,444.7 L1002.3,445.1 L1003.4,444.5 L1003.1,446.8 L1003.5,447.7 L1004.0,448.7 Z" fill="#acc765"/><path d="M1006.6,457.7 L1005.1,458.9 L1005.4,460.5 L1003.9,460.7 L1004.3,463.1 L1002.8,462.5 L1002.2,464.7 L1001.0,463.1 L999.9,463.8 L999.1,462.7 L998.0,462.5 L997.9,460.9 L996.4,460.6 L997.0,458.9 L996.2,457.7 L997.0,456.5 L997.3,455.3 L997.9,454.3 L997.8,452.0 L999.5,453.2 L1000.2,452.9 L1001.0,452.5 L1002.0,451.3 L1002.7,452.7 L1003.9,452.7 L1004.0,454.4 L1005.6,454.7 L1004.5,456.6 Z" fill="#acc765"/><path d="M1002.1,465.5 L1000.7,466.6 L1000.7,467.9 L999.8,468.6 L999.7,470.1 L998.5,470.3 L997.7,471.7 L996.4,470.5 L995.4,470.4 L994.4,470.4 L992.6,470.9 L992.7,468.9 L991.0,468.5 L992.5,466.6 L991.7,465.5 L992.3,464.4 L992.2,463.0 L993.0,462.1 L993.7,461.3 L994.8,461.3 L995.4,459.5 L996.4,460.8 L997.3,460.7 L998.3,460.8 L999.8,460.4 L999.8,462.3 L1000.2,463.3 L1000.7,464.3 Z" fill="#acc765"/><path d="M1010.9,465.5 L1009.7,466.6 L1009.8,467.9 L1008.9,468.5 L1009.0,470.3 L1007.5,470.0 L1006.8,471.8 L1005.6,470.8 L1004.4,471.0 L1003.5,470.2 L1002.5,469.9 L1001.9,468.8 L1001.3,467.9 L1001.2,466.7 L999.7,465.5 L1001.1,464.3 L1000.8,462.8 L1002.0,462.1 L1001.7,459.6 L1003.7,460.6 L1004.5,459.8 L1005.6,460.6 L1006.7,459.1 L1007.2,461.2 L1008.3,461.3 L1008.6,462.5 L1010.5,462.6 L1009.7,464.4 Z" fill="#acc765"/><path d="M1003.0,473.3 L1001.0,474.5 L1001.5,476.0 L999.6,476.4 L999.3,477.8 L997.7,477.6 L996.8,478.3 L995.6,478.8 L994.2,478.8 L993.4,477.5 L990.6,479.2 L991.5,476.4 L989.0,476.3 L990.5,474.4 L988.0,473.3 L990.9,472.2 L990.1,470.6 L991.5,470.0 L992.6,469.4 L993.3,468.3 L994.3,467.6 L995.6,468.0 L996.7,468.3 L997.6,469.0 L998.7,469.3 L999.7,469.9 L1002.2,470.1 L1000.9,472.1 Z" fill="#acc765"/><path d="M1012.8,473.3 L1011.2,474.4 L1013.0,476.3 L1010.6,476.5 L1011.0,478.8 L1008.9,478.0 L1008.0,479.6 L1006.4,478.1 L1005.2,478.4 L1004.2,477.6 L1002.5,478.0 L1002.4,476.4 L999.5,476.5 L1001.7,474.4 L999.4,473.3 L1001.8,472.2 L1001.8,471.1 L1002.2,469.9 L1003.1,469.0 L1004.2,468.6 L1005.1,467.0 L1006.4,468.2 L1007.7,467.6 L1008.4,469.0 L1010.5,468.0 L1010.3,470.2 L1012.2,470.5 L1011.7,472.1 Z" fill="#acc765"/><path d="M994.3,481.1 L994.3,482.2 L994.7,483.6 L993.6,484.5 L993.4,486.2 L991.0,485.5 L990.1,487.1 L988.4,485.8 L986.7,487.2 L985.8,485.4 L984.4,485.2 L983.5,484.3 L981.5,483.9 L982.7,482.2 L980.8,481.1 L982.8,480.0 L981.4,478.2 L984.2,478.1 L983.3,475.5 L985.9,476.5 L987.1,475.9 L988.4,476.1 L990.0,474.7 L990.7,476.8 L993.6,475.3 L992.7,478.1 L994.6,478.5 L993.8,480.0 Z" fill="#acc765"/><path d="M1008.2,481.1 L1007.4,482.3 L1006.8,483.4 L1005.6,484.1 L1005.9,486.1 L1003.8,485.8 L1002.4,486.2 L1001.0,486.0 L999.2,487.5 L998.4,485.5 L997.2,485.0 L996.0,484.4 L993.2,484.2 L994.7,482.3 L992.5,481.1 L995.5,480.0 L995.1,478.6 L996.4,477.8 L996.4,476.0 L998.4,476.4 L999.4,474.9 L1001.0,476.2 L1002.4,475.7 L1003.3,476.8 L1004.5,477.2 L1005.6,477.8 L1006.3,478.9 L1007.2,479.9 Z" fill="#acc765"/><path d="M1022.4,481.1 L1019.2,482.2 L1021.8,484.4 L1018.6,484.4 L1017.3,484.9 L1016.3,485.6 L1015.2,486.8 L1013.6,486.1 L1012.2,486.0 L1011.0,485.5 L1009.9,484.9 L1008.8,484.3 L1006.9,483.8 L1007.9,482.2 L1004.9,481.1 L1007.4,479.9 L1007.2,478.4 L1008.8,477.7 L1009.5,476.5 L1011.0,476.3 L1011.9,474.3 L1013.6,476.1 L1015.3,474.4 L1016.1,476.6 L1017.4,476.9 L1018.1,477.9 L1019.0,478.9 L1019.7,479.9 Z" fill="#acc765"/><path d="M1009.4,467.4 L1009.2,469.9 L1010.6,473.3 L1008.8,474.7 L1009.8,478.8 L1007.6,478.9 L1007.3,482.3 L1005.3,481.9 L1004.4,484.9 L1002.5,483.7 L1001.0,485.4 L999.5,483.4 L997.7,484.3 L996.7,481.6 L994.4,483.2 L994.7,478.5 L993.6,477.0 L993.2,474.7 L992.5,472.6 L992.6,470.0 L991.8,467.4 L993.6,465.1 L993.5,462.4 L994.3,460.2 L994.7,457.4 L995.9,456.0 L996.5,453.4 L998.0,453.8 L998.6,450.0 L999.9,451.1 L1001.0,451.6 L1002.1,451.6 L1003.4,450.3 L1004.1,453.2 L1005.5,453.2 L1006.0,456.2 L1008.2,455.9 L1007.8,460.0 L1008.9,462.1 L1009.0,464.9 Z" fill="#acc765"/><rect x="712" y="492" width="305" height="3.3" fill="#b3c59a" opacity="0.8"/>
<path d="M92.0,51.0 C94.8,52.5 103.9,57.6 108.8,60.0 C113.6,62.4 116.6,63.7 121.2,65.5 C125.9,67.3 131.7,69.4 136.9,70.9 C142.1,72.5 147.3,73.2 152.5,74.8 C157.7,76.4 162.8,78.2 168.0,80.3 C173.2,82.4 178.5,84.8 183.8,87.3 C189.0,89.8 194.2,92.8 199.4,95.2 C204.6,97.6 209.8,99.9 215.0,101.4 C220.2,103.0 226.4,103.8 230.6,104.5 C234.8,105.2 233.2,105.1 240.0,105.3 C246.8,105.5 260.8,105.9 271.2,105.6 C281.7,105.3 294.7,104.7 302.5,103.8 C310.3,102.8 312.9,101.5 318.1,99.8 C323.3,98.1 328.5,95.8 333.8,93.6 C339.0,91.4 344.2,89.1 349.4,86.6 C354.6,84.1 359.8,81.1 365.0,78.8 C370.2,76.4 376.1,74.4 380.6,72.5 C385.1,70.6 390.1,68.4 392.0,67.6 L392.0,101.4 C388.8,102.5 378.6,105.6 372.8,107.7 C367.0,109.8 362.4,112.0 357.2,113.9 C352.0,115.9 346.8,117.7 341.6,119.4 C336.4,121.1 331.1,122.2 325.9,124.0 C320.7,125.8 315.5,128.0 310.3,130.3 C305.1,132.7 299.9,135.8 294.7,138.1 C289.5,140.4 283.7,143.1 279.0,144.4 C274.3,145.7 270.5,145.8 266.6,145.9 C262.7,146.0 260.0,145.7 255.6,145.2 C251.2,144.7 245.5,144.2 240.0,142.8 C234.5,141.4 228.3,138.7 222.8,136.6 C217.3,134.5 212.4,132.3 207.2,130.3 C202.0,128.3 196.8,126.9 191.6,124.8 C186.4,122.7 181.1,120.3 175.9,117.8 C170.7,115.3 165.5,112.9 160.3,110.0 C155.1,107.1 149.9,103.5 144.7,100.6 C139.5,97.7 134.2,94.4 129.0,92.8 C123.8,91.2 117.3,91.1 113.4,90.8 C109.5,90.5 109.2,90.9 105.6,91.2 C102.0,91.6 94.3,92.5 92.0,92.8 Z" fill="#0afcfc"/>
<path d="M92.0,72.0 C95.0,72.5 104.1,73.8 110.3,75.3 C116.5,76.8 122.0,78.6 129.0,81.1 C136.0,83.6 144.7,87.0 152.5,90.5 C160.3,94.0 168.1,98.6 175.9,102.2 C183.7,105.8 191.6,109.4 199.4,112.3 C207.2,115.2 216.0,117.6 222.8,119.4 C229.6,121.2 233.2,122.3 240.0,123.3 C246.8,124.3 257.8,125.2 263.4,125.6 C269.0,126.0 268.4,126.2 273.6,125.6 C278.8,124.9 286.5,123.7 294.7,121.7 C302.9,119.8 313.7,117.0 322.8,113.9 C331.9,110.8 341.1,106.7 349.4,103.0 C357.7,99.3 365.7,95.0 372.8,92.0 C379.9,89.0 388.8,85.9 392.0,84.7" fill="none" stroke="#c08a3a" stroke-width="1.7"/>
<rect x="93.8" y="96.2" width="5" height="5" fill="#ef8a1f"/>
<rect x="93.7" y="48.8" width="5" height="5" fill="#ef8a1f"/>
<rect x="102.2" y="52.6" width="5" height="5" fill="#ef8a1f"/>
<rect x="107.8" y="72.8" width="5" height="5" fill="#ef8a1f"/>
<rect x="114.4" y="96.6" width="5" height="5" fill="#ef8a1f"/>
<rect x="119.1" y="84.8" width="5" height="5" fill="#ef8a1f"/>
<rect x="129.4" y="88.4" width="5" height="5" fill="#ef8a1f"/>
<rect x="143.0" y="58.8" width="5" height="5" fill="#ef8a1f"/>
<rect x="155.8" y="98.4" width="5" height="5" fill="#ef8a1f"/>
<rect x="173.8" y="103.3" width="5" height="5" fill="#ef8a1f"/>
<rect x="191.9" y="128.6" width="5" height="5" fill="#ef8a1f"/>
<rect x="202.8" y="91.9" width="5" height="5" fill="#ef8a1f"/>
<rect x="215.9" y="100.9" width="5" height="5" fill="#ef8a1f"/>
<rect x="257.5" y="130.2" width="5" height="5" fill="#ef8a1f"/>
<rect x="271.4" y="123.1" width="5" height="5" fill="#ef8a1f"/>
<rect x="295.0" y="112.2" width="5" height="5" fill="#ef8a1f"/>
<rect x="307.8" y="109.8" width="5" height="5" fill="#ef8a1f"/>
<rect x="320.6" y="111.4" width="5" height="5" fill="#ef8a1f"/>
<rect x="332.8" y="138.8" width="5" height="5" fill="#ef8a1f"/>
<rect x="345.0" y="113.4" width="5" height="5" fill="#ef8a1f"/>
<rect x="357.8" y="77.0" width="5" height="5" fill="#ef8a1f"/>
<rect x="370.6" y="53.6" width="5" height="5" fill="#ef8a1f"/>
<rect x="382.0" y="98.9" width="5" height="5" fill="#ef8a1f"/>
<path d="M92,171 H392.8" stroke="#b8eef4" stroke-width="1.2"/>
<path d="M92.0,16.7 H392.8 V172.4 H92.0 Z" fill="none" stroke="#0d0d0d" stroke-width="2.2"/>
<path d="M86,16.7 H92" stroke="#0d0d0d" stroke-width="2"/>
<path d="M86,69.3 H92" stroke="#0d0d0d" stroke-width="2"/>
<path d="M86,120.2 H92" stroke="#0d0d0d" stroke-width="2"/>
<path d="M86,172.4 H92" stroke="#0d0d0d" stroke-width="2"/>
<path d="M92.0,172.4 V178.9" stroke="#0d0d0d" stroke-width="2"/>
<path d="M117.1,172.4 V176.4" stroke="#0d0d0d" stroke-width="2"/>
<path d="M142.1,172.4 V176.4" stroke="#0d0d0d" stroke-width="2"/>
<path d="M167.2,172.4 V178.9" stroke="#0d0d0d" stroke-width="2"/>
<path d="M192.3,172.4 V176.4" stroke="#0d0d0d" stroke-width="2"/>
<path d="M217.3,172.4 V176.4" stroke="#0d0d0d" stroke-width="2"/>
<path d="M242.4,172.4 V178.9" stroke="#0d0d0d" stroke-width="2"/>
<path d="M267.5,172.4 V176.4" stroke="#0d0d0d" stroke-width="2"/>
<path d="M292.5,172.4 V176.4" stroke="#0d0d0d" stroke-width="2"/>
<path d="M317.6,172.4 V178.9" stroke="#0d0d0d" stroke-width="2"/>
<path d="M342.7,172.4 V176.4" stroke="#0d0d0d" stroke-width="2"/>
<path d="M367.7,172.4 V176.4" stroke="#0d0d0d" stroke-width="2"/>
<path d="M392.8,172.4 V178.9" stroke="#0d0d0d" stroke-width="2"/>
<text x="80.0" y="25.4" font-size="25.0" text-anchor="end" font-weight="normal" font-style="normal" fill="#0d0d0d" >1.0</text>
<text x="80.0" y="77.6" font-size="25.0" text-anchor="end" font-weight="normal" font-style="normal" fill="#0d0d0d" >.5</text>
<text x="80.0" y="129.0" font-size="25.0" text-anchor="end" font-weight="normal" font-style="normal" fill="#0d0d0d" >0.0</text>
<text x="80.0" y="180.8" font-size="25.0" text-anchor="end" font-weight="normal" font-style="normal" fill="#0d0d0d" >-.5</text>
<text x="91.0" y="205.2" font-size="24.5" text-anchor="middle" font-weight="normal" font-style="normal" fill="#0d0d0d" >Jan</text>
<text x="167.0" y="205.2" font-size="24.5" text-anchor="middle" font-weight="normal" font-style="normal" fill="#0d0d0d" >Apr</text>
<text x="234.5" y="205.2" font-size="24.5" text-anchor="middle" font-weight="normal" font-style="normal" fill="#0d0d0d" >Jul</text>
<text x="318.1" y="205.2" font-size="24.5" text-anchor="middle" font-weight="normal" font-style="normal" fill="#0d0d0d" >Oct</text>
<text x="104.8" y="35.6" font-size="21.0" text-anchor="start" font-weight="normal" font-style="italic" fill="#dc1a24" >Anthropogenic source control</text>
<path d="M264,38 V86" stroke="#dc1a24" stroke-width="2.6"/>
<path d="M256,84.2 L272,84.2 L264,103.8 Z" fill="#dc1a24"/>
<g transform="translate(30.2,154.0) rotate(-90)"><text x="-1.2" y="0" font-family="Liberation Serif, serif" font-size="25.0" transform="scale(1.50,1)">δ</text><text x="15.6" y="-11.6" font-family="Liberation Serif, serif" font-size="16">202</text><text x="39.6" y="0" font-size="23.5" font-weight="bold">Hg</text><text x="77.8" y="0" font-size="23" font-weight="bold">(‰)</text></g>
<path d="M723.0,143.0 L724.4,143.0 L725.2,143.0 L726.1,143.0 L727.0,143.0 L728.0,143.0 L729.0,143.0 L730.0,143.0 L731.0,143.0 L732.0,143.0 L733.0,143.0 L734.1,143.0 L735.1,143.0 L736.1,143.0 L737.1,143.0 L738.1,143.0 L739.1,143.0 L740.1,143.1 L741.1,143.1 L742.1,143.1 L743.1,143.1 L744.1,143.1 L745.1,143.1 L746.1,143.1 L747.1,143.1 L748.1,143.1 L749.1,143.1 L750.1,143.1 L751.1,143.1 L752.1,143.1 L753.1,143.1 L754.1,143.1 L755.2,143.1 L756.2,143.1 L757.2,143.1 L758.2,143.1 L759.2,143.1 L760.2,143.1 L761.2,143.1 L762.2,143.1 L763.2,143.1 L764.2,143.1 L765.2,143.1 L766.2,143.1 L767.2,143.1 L768.2,143.1 L769.2,143.1 L770.2,143.1 L771.2,143.1 L772.2,143.1 L773.2,143.1 L774.2,143.1 L775.2,143.1 L776.3,143.1 L777.3,143.1 L778.3,143.1 L779.3,143.1 L780.3,143.1 L781.3,143.1 L782.3,143.1 L783.3,143.1 L784.3,143.1 L785.3,143.1 L786.3,143.0 L787.3,143.0 L788.3,143.0 L789.3,143.0 L790.3,143.0 L791.3,143.0 L792.3,143.0 L793.3,142.9 L794.3,142.9 L795.3,142.9 L796.3,142.9 L797.3,142.8 L798.4,142.8 L799.4,142.8 L800.4,142.7 L801.4,142.7 L802.4,142.7 L803.4,142.6 L804.4,142.5 L805.4,142.5 L806.4,142.4 L807.4,142.3 L808.4,142.1 L809.4,142.0 L810.4,141.8 L811.3,141.7 L812.3,141.5 L813.3,141.3 L814.3,141.1 L815.3,140.9 L816.3,140.6 L817.2,140.3 L818.2,140.0 L819.1,139.7 L820.0,139.3 L821.0,138.9 L821.9,138.5 L822.8,138.0 L823.6,137.6 L824.5,137.1 L825.4,136.5 L826.2,136.0 L827.1,135.5 L827.9,134.9 L828.7,134.3 L829.5,133.7 L830.3,133.1 L831.1,132.5 L831.9,131.9 L832.7,131.3 L833.5,130.6 L834.2,129.9 L835.0,129.3 L835.7,128.6 L836.4,127.9 L837.1,127.2 L837.8,126.5 L838.5,125.8 L839.2,125.0 L839.9,124.3 L840.5,123.5 L841.2,122.7 L841.8,122.0 L842.4,121.2 L843.0,120.4 L843.6,119.6 L844.2,118.7 L844.8,117.9 L845.4,117.1 L845.9,116.3 L846.5,115.4 L847.1,114.6 L847.6,113.7 L848.2,112.9 L848.7,112.1 L849.2,111.2 L849.8,110.4 L850.3,109.5 L850.8,108.6 L851.3,107.8 L851.8,106.9 L852.3,106.0 L852.8,105.1 L853.3,104.3 L853.7,103.4 L854.2,102.5 L854.7,101.6 L855.1,100.7 L855.6,99.8 L856.1,98.9 L856.5,98.0 L857.0,97.1 L857.4,96.2 L857.9,95.3 L858.3,94.4 L858.8,93.5 L859.2,92.6 L859.7,91.7 L860.1,90.8 L860.6,89.9 L861.0,89.0 L861.4,88.1 L861.9,87.2 L862.3,86.3 L862.7,85.4 L863.2,84.5 L863.6,83.6 L864.1,82.7 L864.5,81.8 L864.9,80.9 L865.4,80.0 L865.8,79.1 L866.3,78.2 L866.7,77.3 L867.2,76.4 L867.7,75.5 L868.1,74.6 L868.5,73.7 L869.0,72.8 L869.4,71.9 L869.9,71.0 L870.3,70.1 L870.8,69.2 L871.2,68.3 L871.7,67.4 L872.1,66.5 L872.6,65.6 L873.1,64.8 L873.6,63.9 L874.1,63.0 L874.6,62.1 L875.1,61.3 L875.7,60.5 L876.3,59.6 L876.8,58.8 L877.4,58.0 L878.1,57.2 L878.7,56.4 L879.3,55.7 L880.0,54.9 L880.7,54.2 L881.3,53.4 L882.0,52.7 L882.8,52.0 L883.5,51.3 L884.2,50.6 L885.0,49.9 L885.7,49.3 L886.5,48.7 L887.3,48.0 L888.1,47.4 L888.9,46.8 L889.7,46.2 L890.5,45.7 L891.4,45.1 L892.2,44.5 L893.0,44.0 L893.9,43.5 L894.8,43.0 L895.7,42.5 L896.6,42.1 L897.5,41.8 L898.5,41.4 L899.4,41.2 L900.4,41.0 L901.4,40.9 L902.4,40.9 L903.4,41.0 L904.3,41.1 L905.3,41.3 L906.3,41.6 L907.2,42.0 L908.1,42.4 L909.0,42.8 L909.9,43.3 L910.8,43.8 L911.6,44.3 L912.5,44.9 L913.3,45.4 L914.1,46.0 L914.9,46.7 L915.6,47.3 L916.4,48.0 L917.1,48.6 L917.8,49.4 L918.5,50.1 L919.2,50.9 L919.8,51.6 L920.4,52.4 L921.0,53.2 L921.6,54.0 L922.2,54.9 L922.8,55.7 L923.3,56.5 L923.9,57.4 L924.4,58.2 L925.0,59.0 L925.5,59.9 L926.1,60.7 L926.6,61.6 L927.2,62.4 L927.7,63.3 L928.2,64.1 L928.7,65.0 L929.2,65.9 L929.7,66.7 L930.3,67.6 L930.8,68.5 L931.2,69.3 L931.7,70.2 L932.2,71.1 L932.7,72.0 L933.1,72.9 L933.6,73.8 L934.0,74.7 L934.5,75.6 L934.9,76.5 L935.3,77.4 L935.6,78.4 L935.9,79.3 L936.2,80.3 L936.5,81.2 L936.8,82.2 L937.0,83.2 L937.3,84.2 L937.5,85.1 L937.8,86.1 L938.2,87.0 L938.5,88.0 L938.9,88.9 L939.3,89.8 L939.7,90.7 L940.1,91.6 L940.6,92.5 L941.0,93.4 L941.5,94.3 L941.9,95.2 L942.4,96.1 L942.9,97.0 L943.3,97.9 L943.8,98.8 L944.3,99.6 L944.8,100.5 L945.3,101.4 L945.8,102.3 L946.3,103.1 L946.8,104.0 L947.3,104.9 L947.8,105.7 L948.4,106.6 L948.9,107.5 L949.4,108.3 L950.0,109.2 L950.5,110.0 L951.0,110.8 L951.6,111.7 L952.2,112.5 L952.7,113.4 L953.3,114.2 L953.8,115.0 L954.4,115.8 L955.0,116.7 L955.6,117.5 L956.2,118.3 L956.8,119.1 L957.4,119.9 L958.0,120.7 L958.6,121.5 L959.2,122.3 L959.9,123.0 L960.5,123.8 L961.2,124.6 L961.8,125.3 L962.5,126.1 L963.2,126.8 L963.9,127.5 L964.6,128.2 L965.3,128.9 L966.1,129.6 L966.8,130.2 L967.6,130.9 L968.4,131.5 L969.2,132.1 L970.1,132.7 L970.9,133.2 L971.7,133.8 L972.6,134.3 L973.4,134.8 L974.3,135.3 L975.2,135.8 L976.1,136.3 L976.9,136.8 L977.8,137.3 L978.7,137.8 L979.6,138.2 L980.5,138.7 L981.4,139.1 L982.3,139.5 L983.2,139.9 L984.1,140.3 L985.1,140.7 L986.0,141.0 L987.0,141.3 L988.0,141.6 L988.9,141.8 L989.9,142.0 L990.9,142.2 L991.9,142.4 L992.9,142.5 L993.9,142.6 L994.9,142.7 L995.9,142.8 L996.9,142.9 L997.9,143.0 L998.9,143.0 L999.9,143.1 L1000.9,143.1 L1001.9,143.2 L1002.9,143.2 L1003.9,143.2 L1004.9,143.3 L1005.9,143.3 L1006.9,143.3 L1007.9,143.3 L1008.9,143.4 L1009.9,143.4 L1010.9,143.4 L1011.9,143.5 L1012.9,143.5 L1014.0,143.5 L1015.0,143.5 L1016.0,143.5 L1017.0,143.5 L1018.0,143.5 L1019.0,143.5 L1020.0,143.5 L1020.9,143.4 L1021.8,143.4 L1022.6,143.4 L1024.0,143.4 L1024.0,157.1 L1022.6,157.0 L1021.8,157.0 L1020.9,157.0 L1020.0,156.9 L1019.0,156.9 L1018.0,156.9 L1017.0,156.8 L1016.0,156.8 L1015.0,156.7 L1014.0,156.7 L1013.0,156.6 L1012.0,156.5 L1010.9,156.5 L1009.9,156.4 L1008.9,156.3 L1007.9,156.3 L1006.9,156.2 L1005.9,156.1 L1004.9,156.0 L1003.9,156.0 L1002.9,155.9 L1001.9,155.8 L1000.9,155.7 L999.9,155.6 L998.9,155.5 L997.9,155.4 L996.9,155.3 L995.9,155.2 L994.9,155.1 L993.9,155.0 L992.9,154.9 L991.9,154.7 L990.9,154.6 L989.9,154.5 L989.0,154.3 L988.0,154.1 L987.0,154.0 L986.0,153.8 L985.0,153.6 L984.0,153.4 L983.0,153.1 L982.1,152.9 L981.1,152.6 L980.1,152.3 L979.2,152.0 L978.3,151.6 L977.3,151.3 L976.4,150.9 L975.5,150.5 L974.6,150.0 L973.7,149.6 L972.8,149.1 L971.9,148.7 L971.0,148.2 L970.1,147.7 L969.3,147.1 L968.4,146.6 L967.6,146.0 L966.8,145.5 L966.0,144.9 L965.2,144.2 L964.4,143.6 L963.6,143.0 L962.9,142.3 L962.1,141.6 L961.4,141.0 L960.7,140.3 L959.9,139.6 L959.2,138.9 L958.5,138.1 L957.8,137.4 L957.2,136.7 L956.5,135.9 L955.8,135.2 L955.2,134.4 L954.5,133.6 L953.9,132.9 L953.3,132.1 L952.6,131.3 L952.0,130.5 L951.4,129.7 L950.9,128.9 L950.3,128.0 L949.7,127.2 L949.2,126.4 L948.6,125.5 L948.1,124.6 L947.6,123.8 L947.1,122.9 L946.6,122.1 L946.1,121.2 L945.6,120.3 L945.1,119.4 L944.6,118.6 L944.1,117.7 L943.6,116.8 L943.1,115.9 L942.6,115.1 L942.1,114.2 L941.6,113.3 L941.1,112.4 L940.7,111.5 L940.2,110.7 L939.7,109.8 L939.2,108.9 L938.7,108.1 L938.2,107.2 L937.6,106.3 L937.1,105.5 L936.6,104.6 L936.1,103.7 L935.6,102.9 L935.0,102.0 L934.5,101.2 L934.0,100.3 L933.5,99.4 L932.9,98.6 L932.4,97.7 L931.9,96.9 L931.4,96.0 L930.8,95.2 L930.3,94.3 L929.8,93.5 L929.2,92.6 L928.7,91.8 L928.2,90.9 L927.6,90.1 L927.1,89.2 L926.6,88.4 L926.0,87.5 L925.5,86.7 L925.0,85.8 L924.4,84.9 L923.9,84.1 L923.4,83.3 L922.8,82.4 L922.2,81.6 L921.7,80.7 L921.1,79.9 L920.5,79.1 L920.0,78.3 L919.4,77.4 L918.8,76.6 L918.2,75.8 L917.6,75.0 L917.0,74.2 L916.4,73.4 L915.7,72.7 L915.0,72.0 L914.3,71.3 L913.5,70.6 L912.7,70.1 L911.9,69.5 L911.0,69.0 L910.1,68.6 L909.2,68.2 L908.3,67.8 L907.3,67.5 L906.3,67.2 L905.4,67.0 L904.4,66.8 L903.4,66.7 L902.4,66.6 L901.4,66.7 L900.4,66.7 L899.4,66.9 L898.4,67.0 L897.5,67.3 L896.5,67.6 L895.6,67.9 L894.6,68.3 L893.7,68.7 L892.9,69.2 L892.0,69.7 L891.2,70.2 L890.4,70.8 L889.6,71.5 L888.9,72.2 L888.2,72.9 L887.5,73.6 L886.9,74.4 L886.3,75.2 L885.7,76.0 L885.1,76.8 L884.5,77.6 L883.9,78.4 L883.3,79.2 L882.7,80.0 L882.1,80.8 L881.5,81.6 L880.9,82.5 L880.3,83.3 L879.7,84.1 L879.1,84.9 L878.5,85.7 L877.9,86.5 L877.4,87.3 L876.8,88.2 L876.2,89.0 L875.6,89.8 L875.1,90.6 L874.5,91.5 L873.9,92.3 L873.4,93.1 L872.8,94.0 L872.2,94.8 L871.7,95.6 L871.1,96.5 L870.5,97.3 L870.0,98.1 L869.4,99.0 L868.9,99.8 L868.3,100.6 L867.7,101.5 L867.2,102.3 L866.6,103.2 L866.1,104.0 L865.5,104.8 L865.0,105.7 L864.4,106.5 L863.9,107.4 L863.3,108.2 L862.8,109.0 L862.3,109.9 L861.7,110.7 L861.2,111.6 L860.7,112.5 L860.1,113.3 L859.6,114.2 L859.1,115.0 L858.6,115.9 L858.1,116.8 L857.6,117.6 L857.1,118.5 L856.6,119.4 L856.0,120.2 L855.5,121.1 L855.0,122.0 L854.5,122.8 L853.9,123.7 L853.4,124.5 L852.9,125.3 L852.3,126.2 L851.7,127.0 L851.2,127.8 L850.6,128.7 L850.0,129.5 L849.4,130.3 L848.9,131.1 L848.3,131.9 L847.7,132.8 L847.1,133.6 L846.4,134.3 L845.8,135.1 L845.1,135.9 L844.5,136.6 L843.8,137.4 L843.1,138.1 L842.4,138.8 L841.6,139.5 L840.9,140.1 L840.1,140.7 L839.3,141.3 L838.5,141.9 L837.6,142.5 L836.8,143.0 L835.9,143.5 L835.0,144.0 L834.2,144.5 L833.3,145.0 L832.4,145.4 L831.5,145.9 L830.6,146.3 L829.7,146.8 L828.8,147.2 L827.9,147.7 L827.0,148.1 L826.1,148.6 L825.2,149.0 L824.3,149.4 L823.4,149.9 L822.5,150.3 L821.5,150.7 L820.6,151.1 L819.7,151.5 L818.8,151.9 L817.8,152.2 L816.9,152.6 L815.9,152.9 L815.0,153.2 L814.0,153.5 L813.0,153.8 L812.1,154.1 L811.1,154.3 L810.1,154.6 L809.2,154.9 L808.2,155.2 L807.2,155.4 L806.3,155.7 L805.3,155.9 L804.3,156.1 L803.3,156.3 L802.3,156.5 L801.3,156.6 L800.4,156.8 L799.4,156.9 L798.4,157.0 L797.4,157.1 L796.4,157.2 L795.4,157.3 L794.3,157.3 L793.3,157.4 L792.3,157.5 L791.3,157.5 L790.3,157.6 L789.3,157.6 L788.3,157.7 L787.3,157.7 L786.3,157.7 L785.3,157.7 L784.3,157.8 L783.3,157.8 L782.3,157.8 L781.3,157.8 L780.3,157.8 L779.3,157.9 L778.3,157.9 L777.3,157.9 L776.3,157.9 L775.3,157.9 L774.3,157.9 L773.3,157.9 L772.2,157.9 L771.2,157.9 L770.2,157.9 L769.2,157.9 L768.2,157.9 L767.2,157.9 L766.2,157.9 L765.2,157.9 L764.2,157.9 L763.2,157.9 L762.2,157.9 L761.2,157.9 L760.2,157.9 L759.2,157.9 L758.2,157.9 L757.2,157.9 L756.2,157.9 L755.2,157.9 L754.2,157.9 L753.2,157.9 L752.1,157.9 L751.1,157.9 L750.1,157.9 L749.1,157.9 L748.1,157.9 L747.1,157.9 L746.1,157.9 L745.1,157.9 L744.1,157.9 L743.1,157.9 L742.1,157.9 L741.1,157.9 L740.1,157.9 L739.1,157.9 L738.1,157.9 L737.1,157.9 L736.1,157.8 L735.1,157.8 L734.1,157.8 L733.1,157.8 L732.0,157.8 L731.0,157.8 L730.0,157.8 L729.0,157.8 L728.0,157.8 L727.0,157.8 L726.1,157.8 L725.2,157.8 L724.4,157.8 L723.0,157.8 Z" fill="#0afcfc"/>
<path d="M723.0,150.7 L724.4,150.7 L725.2,150.7 L726.1,150.7 L727.0,150.7 L728.0,150.7 L729.0,150.7 L730.0,150.7 L731.0,150.7 L732.0,150.7 L733.0,150.7 L734.0,150.7 L735.0,150.7 L736.0,150.7 L737.0,150.7 L738.0,150.7 L739.0,150.7 L740.0,150.7 L741.0,150.7 L742.0,150.7 L743.1,150.7 L744.1,150.7 L745.1,150.7 L746.1,150.7 L747.1,150.7 L748.1,150.8 L749.1,150.8 L750.1,150.8 L751.1,150.8 L752.1,150.8 L753.1,150.8 L754.1,150.8 L755.1,150.8 L756.1,150.8 L757.1,150.8 L758.1,150.8 L759.1,150.8 L760.1,150.8 L761.1,150.8 L762.1,150.8 L763.1,150.8 L764.1,150.8 L765.1,150.8 L766.1,150.8 L767.1,150.8 L768.1,150.8 L769.1,150.7 L770.1,150.7 L771.1,150.7 L772.1,150.7 L773.1,150.7 L774.1,150.7 L775.1,150.7 L776.1,150.7 L777.1,150.7 L778.1,150.7 L779.1,150.7 L780.1,150.7 L781.1,150.7 L782.2,150.7 L783.2,150.6 L784.2,150.6 L785.2,150.6 L786.2,150.6 L787.2,150.6 L788.2,150.5 L789.2,150.5 L790.2,150.5 L791.2,150.5 L792.2,150.4 L793.2,150.4 L794.2,150.3 L795.2,150.3 L796.2,150.2 L797.2,150.2 L798.2,150.1 L799.2,150.0 L800.2,149.9 L801.2,149.8 L802.2,149.7 L803.2,149.5 L804.1,149.4 L805.1,149.2 L806.1,149.0 L807.1,148.7 L808.1,148.5 L809.0,148.2 L810.0,148.0 L811.0,147.8 L811.9,147.5 L812.9,147.2 L813.9,147.0 L814.8,146.7 L815.8,146.4 L816.7,146.1 L817.7,145.7 L818.6,145.4 L819.6,145.0 L820.5,144.6 L821.4,144.3 L822.3,143.9 L823.2,143.4 L824.1,143.0 L825.0,142.6 L825.9,142.1 L826.8,141.6 L827.7,141.2 L828.6,140.7 L829.4,140.2 L830.3,139.6 L831.1,139.1 L832.0,138.6 L832.8,138.0 L833.6,137.4 L834.4,136.8 L835.2,136.2 L836.0,135.6 L836.8,135.0 L837.6,134.3 L838.3,133.7 L839.1,133.0 L839.8,132.3 L840.5,131.6 L841.2,130.8 L841.8,130.1 L842.5,129.3 L843.1,128.6 L843.8,127.8 L844.4,127.0 L845.0,126.2 L845.6,125.4 L846.2,124.6 L846.8,123.8 L847.4,123.0 L848.0,122.2 L848.5,121.4 L849.1,120.5 L849.7,119.7 L850.3,118.9 L850.8,118.1 L851.4,117.2 L851.9,116.4 L852.5,115.5 L853.0,114.7 L853.5,113.8 L854.0,113.0 L854.6,112.1 L855.1,111.3 L855.6,110.4 L856.1,109.6 L856.7,108.7 L857.2,107.8 L857.7,107.0 L858.3,106.2 L858.8,105.3 L859.4,104.5 L859.9,103.6 L860.5,102.8 L861.0,102.0 L861.6,101.1 L862.1,100.3 L862.7,99.5 L863.3,98.6 L863.8,97.8 L864.4,97.0 L865.0,96.2 L865.5,95.3 L866.1,94.5 L866.6,93.7 L867.2,92.8 L867.7,92.0 L868.3,91.1 L868.8,90.3 L869.3,89.4 L869.8,88.5 L870.2,87.7 L870.7,86.8 L871.1,85.9 L871.5,84.9 L872.0,84.0 L872.4,83.1 L872.9,82.2 L873.3,81.4 L873.8,80.5 L874.3,79.6 L874.8,78.7 L875.3,77.9 L875.8,77.0 L876.3,76.1 L876.8,75.3 L877.4,74.4 L877.9,73.6 L878.4,72.7 L878.9,71.9 L879.5,71.0 L880.0,70.2 L880.6,69.4 L881.1,68.5 L881.7,67.7 L882.2,66.8 L882.8,66.0 L883.4,65.2 L884.0,64.4 L884.5,63.6 L885.2,62.8 L885.8,62.0 L886.5,61.3 L887.2,60.6 L887.9,59.9 L888.7,59.2 L889.5,58.6 L890.3,58.0 L891.1,57.5 L891.9,56.9 L892.8,56.4 L893.6,55.9 L894.5,55.4 L895.4,55.0 L896.3,54.6 L897.3,54.2 L898.2,53.9 L899.2,53.6 L900.1,53.4 L901.1,53.3 L902.1,53.3 L903.1,53.3 L904.1,53.5 L905.1,53.7 L906.0,53.9 L907.0,54.2 L907.9,54.6 L908.8,55.0 L909.7,55.5 L910.6,56.0 L911.4,56.5 L912.3,57.0 L913.1,57.6 L913.9,58.1 L914.7,58.7 L915.5,59.4 L916.3,60.0 L917.0,60.7 L917.7,61.4 L918.4,62.1 L919.0,62.9 L919.7,63.7 L920.3,64.5 L920.9,65.3 L921.5,66.1 L922.1,66.9 L922.6,67.7 L923.2,68.5 L923.8,69.4 L924.3,70.2 L924.9,71.0 L925.5,71.9 L926.0,72.7 L926.5,73.5 L927.1,74.4 L927.6,75.2 L928.1,76.1 L928.6,77.0 L929.1,77.8 L929.6,78.7 L930.1,79.6 L930.6,80.4 L931.1,81.3 L931.6,82.2 L932.2,83.0 L932.7,83.9 L933.3,84.7 L933.8,85.5 L934.4,86.4 L934.9,87.2 L935.4,88.1 L935.9,88.9 L936.4,89.8 L936.8,90.7 L937.2,91.7 L937.5,92.6 L937.9,93.5 L938.3,94.5 L938.6,95.4 L939.0,96.3 L939.3,97.3 L939.7,98.2 L940.0,99.2 L940.4,100.1 L940.7,101.0 L941.1,102.0 L941.4,102.9 L941.8,103.8 L942.2,104.7 L942.6,105.7 L943.1,106.6 L943.5,107.5 L943.9,108.4 L944.4,109.3 L944.9,110.1 L945.4,111.0 L945.9,111.9 L946.4,112.7 L947.0,113.6 L947.5,114.4 L948.0,115.2 L948.6,116.1 L949.2,116.9 L949.7,117.7 L950.3,118.6 L950.9,119.4 L951.5,120.2 L952.1,121.0 L952.7,121.8 L953.3,122.6 L953.9,123.4 L954.5,124.1 L955.2,124.9 L955.8,125.7 L956.5,126.5 L957.1,127.2 L957.8,128.0 L958.5,128.7 L959.2,129.4 L959.8,130.2 L960.6,130.9 L961.3,131.6 L962.0,132.2 L962.8,132.9 L963.5,133.6 L964.3,134.2 L965.0,134.9 L965.8,135.5 L966.6,136.1 L967.4,136.7 L968.2,137.3 L969.1,137.8 L969.9,138.4 L970.7,139.0 L971.6,139.5 L972.5,140.0 L973.3,140.5 L974.2,141.0 L975.1,141.4 L976.0,141.8 L976.9,142.3 L977.8,142.6 L978.8,143.0 L979.7,143.4 L980.7,143.7 L981.6,144.0 L982.6,144.3 L983.5,144.7 L984.5,145.0 L985.4,145.2 L986.4,145.5 L987.3,145.8 L988.3,146.1 L989.3,146.3 L990.2,146.6 L991.2,146.8 L992.2,147.1 L993.2,147.3 L994.1,147.6 L995.1,147.8 L996.1,148.0 L997.1,148.2 L998.1,148.4 L999.0,148.6 L1000.0,148.8 L1001.0,148.9 L1002.0,149.1 L1003.0,149.2 L1004.0,149.4 L1005.0,149.5 L1006.0,149.6 L1007.0,149.7 L1008.0,149.8 L1009.0,149.9 L1010.0,150.0 L1011.0,150.0 L1012.0,150.1 L1013.0,150.1 L1014.0,150.2 L1015.0,150.2 L1016.0,150.3 L1017.0,150.3 L1018.0,150.4 L1019.0,150.4 L1020.0,150.4 L1020.9,150.5 L1021.8,150.5 L1022.6,150.5 L1024.0,150.6" fill="none" stroke="#c08a3a" stroke-width="1.8"/>
<circle cx="727.8" cy="146.5" r="3" fill="#ef8a1f"/>
<circle cx="746.0" cy="143.4" r="3" fill="#ef8a1f"/>
<circle cx="756.5" cy="148.6" r="3" fill="#ef8a1f"/>
<circle cx="766.5" cy="153.5" r="3" fill="#ef8a1f"/>
<circle cx="774.3" cy="147.2" r="3" fill="#ef8a1f"/>
<circle cx="783.7" cy="149.5" r="3" fill="#ef8a1f"/>
<circle cx="792.4" cy="162.8" r="3" fill="#ef8a1f"/>
<circle cx="800.7" cy="137.9" r="3" fill="#ef8a1f"/>
<circle cx="810.4" cy="147.7" r="3" fill="#ef8a1f"/>
<circle cx="816.9" cy="155.8" r="3" fill="#ef8a1f"/>
<circle cx="825.1" cy="139.2" r="3" fill="#ef8a1f"/>
<circle cx="826.0" cy="141.0" r="3" fill="#ef8a1f"/>
<circle cx="835.4" cy="139.5" r="3" fill="#ef8a1f"/>
<circle cx="846.5" cy="146.3" r="3" fill="#ef8a1f"/>
<circle cx="855.2" cy="87.1" r="3" fill="#ef8a1f"/>
<circle cx="872.2" cy="67.9" r="3" fill="#ef8a1f"/>
<circle cx="881.3" cy="82.0" r="3" fill="#ef8a1f"/>
<circle cx="890.1" cy="75.8" r="3" fill="#ef8a1f"/>
<circle cx="899.2" cy="55.5" r="3" fill="#ef8a1f"/>
<circle cx="908.3" cy="58.2" r="3" fill="#ef8a1f"/>
<circle cx="917.2" cy="61.0" r="3" fill="#ef8a1f"/>
<circle cx="927.3" cy="44.3" r="3" fill="#ef8a1f"/>
<circle cx="936.5" cy="104.6" r="3" fill="#ef8a1f"/>
<circle cx="945.2" cy="112.4" r="3" fill="#ef8a1f"/>
<circle cx="954.3" cy="141.9" r="3" fill="#ef8a1f"/>
<circle cx="971.2" cy="139.9" r="3" fill="#ef8a1f"/>
<circle cx="982.3" cy="150.8" r="3" fill="#ef8a1f"/>
<circle cx="992.1" cy="140.8" r="3" fill="#ef8a1f"/>
<circle cx="1001.2" cy="138.9" r="3" fill="#ef8a1f"/>
<circle cx="1011.0" cy="154.2" r="3" fill="#ef8a1f"/>
<path d="M722.7,15.6 H1024.2 V172.6 H722.7 Z" fill="none" stroke="#0d0d0d" stroke-width="2.2"/>
<path d="M716.5,15.6 H722.7" stroke="#0d0d0d" stroke-width="2"/>
<path d="M716.5,94.1 H722.7" stroke="#0d0d0d" stroke-width="2"/>
<path d="M716.5,172.6 H722.7" stroke="#0d0d0d" stroke-width="2"/>
<path d="M722.7,172.6 V179.6" stroke="#0d0d0d" stroke-width="2"/>
<path d="M747.8,172.6 V176.6" stroke="#0d0d0d" stroke-width="2"/>
<path d="M773.0,172.6 V176.6" stroke="#0d0d0d" stroke-width="2"/>
<path d="M798.1,172.6 V179.6" stroke="#0d0d0d" stroke-width="2"/>
<path d="M823.2,172.6 V176.6" stroke="#0d0d0d" stroke-width="2"/>
<path d="M848.3,172.6 V176.6" stroke="#0d0d0d" stroke-width="2"/>
<path d="M873.5,172.6 V179.6" stroke="#0d0d0d" stroke-width="2"/>
<path d="M898.6,172.6 V176.6" stroke="#0d0d0d" stroke-width="2"/>
<path d="M923.7,172.6 V176.6" stroke="#0d0d0d" stroke-width="2"/>
<path d="M948.8,172.6 V179.6" stroke="#0d0d0d" stroke-width="2"/>
<path d="M974.0,172.6 V176.6" stroke="#0d0d0d" stroke-width="2"/>
<path d="M999.1,172.6 V176.6" stroke="#0d0d0d" stroke-width="2"/>
<path d="M1024.2,172.6 V179.6" stroke="#0d0d0d" stroke-width="2"/>
<text x="708.7" y="24.4" font-size="25.0" text-anchor="end" font-weight="normal" font-style="normal" fill="#0d0d0d" >2</text>
<text x="708.7" y="102.9" font-size="25.0" text-anchor="end" font-weight="normal" font-style="normal" fill="#0d0d0d" >1</text>
<text x="708.7" y="181.4" font-size="25.0" text-anchor="end" font-weight="normal" font-style="normal" fill="#0d0d0d" >0</text>
<text x="725.2" y="55.4" font-size="21.2" text-anchor="start" font-weight="normal" font-style="italic" fill="#177f20" >Vegetation</text>
<text x="725.2" y="75.5" font-size="21.2" text-anchor="start" font-weight="normal" font-style="italic" fill="#177f20" >control</text>
<path d="M825.3,51 H862" stroke="#3f7f45" stroke-width="2.6"/>
<path d="M860.4,42.3 L882.5,51 L860.4,60.3 Z" fill="#3f7f45"/>
<g transform="translate(665.0,154.0) rotate(-90)"><text x="-1.2" y="0" font-family="Liberation Serif, serif" font-size="25.0" transform="scale(1.50,1)">δ</text><text x="15.6" y="-11.6" font-family="Liberation Serif, serif" font-size="16">202</text><text x="39.6" y="0" font-size="23.5" font-weight="bold">Hg</text><text x="77.8" y="0" font-size="23" font-weight="bold">(‰)</text></g>
<path d="M723.0,288.6 L724.4,288.6 L725.2,288.6 L726.1,288.6 L727.0,288.6 L728.0,288.6 L729.0,288.6 L730.0,288.6 L731.0,288.6 L732.0,288.6 L733.0,288.6 L734.1,288.6 L735.1,288.6 L736.1,288.6 L737.1,288.6 L738.1,288.6 L739.1,288.6 L740.1,288.6 L741.1,288.6 L742.1,288.6 L743.1,288.6 L744.1,288.6 L745.1,288.6 L746.1,288.6 L747.1,288.6 L748.1,288.6 L749.1,288.6 L750.1,288.6 L751.1,288.6 L752.1,288.6 L753.1,288.6 L754.1,288.6 L755.1,288.6 L756.2,288.6 L757.2,288.6 L758.2,288.6 L759.2,288.6 L760.2,288.6 L761.2,288.6 L762.2,288.6 L763.2,288.6 L764.2,288.6 L765.2,288.6 L766.2,288.6 L767.2,288.6 L768.2,288.6 L769.2,288.6 L770.2,288.6 L771.2,288.6 L772.2,288.6 L773.2,288.6 L774.2,288.6 L775.2,288.6 L776.2,288.6 L777.3,288.6 L778.3,288.6 L779.3,288.6 L780.3,288.6 L781.3,288.6 L782.3,288.6 L783.3,288.6 L784.3,288.6 L785.3,288.6 L786.3,288.6 L787.3,288.6 L788.3,288.6 L789.3,288.6 L790.3,288.6 L791.3,288.6 L792.3,288.6 L793.3,288.6 L794.3,288.6 L795.3,288.6 L796.3,288.6 L797.3,288.6 L798.3,288.6 L799.4,288.6 L800.4,288.6 L801.4,288.6 L802.4,288.6 L803.4,288.6 L804.4,288.6 L805.4,288.6 L806.4,288.6 L807.4,288.7 L808.4,288.7 L809.4,288.7 L810.4,288.7 L811.4,288.7 L812.4,288.8 L813.4,288.8 L814.4,288.8 L815.4,288.8 L816.4,288.8 L817.4,288.8 L818.4,288.8 L819.4,288.8 L820.4,288.7 L821.4,288.7 L822.5,288.7 L823.5,288.6 L824.5,288.6 L825.5,288.6 L826.5,288.5 L827.5,288.5 L828.5,288.4 L829.5,288.3 L830.5,288.1 L831.4,287.9 L832.4,287.7 L833.4,287.4 L834.3,287.1 L835.3,286.8 L836.2,286.4 L837.1,285.9 L838.0,285.5 L838.8,285.0 L839.7,284.4 L840.5,283.9 L841.4,283.3 L842.2,282.8 L843.0,282.2 L843.8,281.6 L844.6,280.9 L845.4,280.3 L846.1,279.7 L846.9,279.0 L847.7,278.3 L848.4,277.7 L849.1,277.0 L849.9,276.3 L850.6,275.6 L851.3,274.9 L852.0,274.2 L852.7,273.5 L853.4,272.7 L854.1,272.0 L854.7,271.2 L855.4,270.4 L856.0,269.7 L856.7,268.9 L857.3,268.1 L857.9,267.3 L858.5,266.5 L859.2,265.8 L859.8,265.0 L860.4,264.2 L861.0,263.4 L861.6,262.6 L862.3,261.8 L862.9,261.0 L863.5,260.2 L864.2,259.5 L864.8,258.7 L865.5,257.9 L866.1,257.2 L866.8,256.4 L867.4,255.7 L868.1,254.9 L868.8,254.2 L869.5,253.4 L870.1,252.7 L870.8,251.9 L871.5,251.2 L872.2,250.5 L872.9,249.7 L873.5,249.0 L874.2,248.3 L874.9,247.5 L875.6,246.8 L876.3,246.1 L877.1,245.4 L877.8,244.7 L878.5,244.0 L879.3,243.3 L880.0,242.7 L880.8,242.0 L881.5,241.4 L882.3,240.8 L883.1,240.2 L883.9,239.6 L884.7,239.0 L885.6,238.4 L886.4,237.8 L887.2,237.2 L888.1,236.7 L888.9,236.2 L889.8,235.7 L890.7,235.2 L891.5,234.7 L892.5,234.3 L893.4,233.9 L894.3,233.6 L895.3,233.3 L896.3,233.1 L897.2,233.0 L898.2,233.0 L899.2,233.0 L900.2,233.1 L901.2,233.2 L902.2,233.4 L903.1,233.7 L904.1,234.0 L905.0,234.4 L905.9,234.8 L906.8,235.2 L907.7,235.7 L908.6,236.2 L909.4,236.7 L910.3,237.3 L911.1,237.8 L911.9,238.4 L912.7,239.0 L913.5,239.7 L914.3,240.3 L915.0,241.0 L915.8,241.7 L916.5,242.4 L917.2,243.1 L917.9,243.8 L918.5,244.6 L919.2,245.3 L919.8,246.1 L920.5,246.8 L921.1,247.6 L921.8,248.4 L922.4,249.2 L923.0,250.0 L923.6,250.8 L924.3,251.5 L924.9,252.3 L925.5,253.1 L926.1,253.9 L926.8,254.7 L927.4,255.5 L928.1,256.2 L928.7,257.0 L929.4,257.8 L930.0,258.5 L930.7,259.3 L931.3,260.0 L932.0,260.8 L932.7,261.5 L933.3,262.3 L934.0,263.1 L934.6,263.8 L935.3,264.6 L935.9,265.3 L936.6,266.1 L937.3,266.9 L937.9,267.6 L938.6,268.4 L939.3,269.1 L940.0,269.8 L940.6,270.6 L941.3,271.3 L942.0,272.0 L942.7,272.8 L943.4,273.5 L944.2,274.2 L944.9,274.9 L945.6,275.5 L946.4,276.2 L947.1,276.9 L947.9,277.5 L948.6,278.2 L949.4,278.9 L950.2,279.5 L951.0,280.1 L951.7,280.7 L952.5,281.3 L953.4,281.9 L954.2,282.5 L955.0,283.1 L955.8,283.6 L956.7,284.2 L957.6,284.7 L958.4,285.2 L959.3,285.6 L960.2,286.1 L961.1,286.5 L962.0,286.9 L963.0,287.3 L963.9,287.7 L964.8,288.0 L965.8,288.2 L966.8,288.5 L967.8,288.6 L968.8,288.7 L969.8,288.8 L970.8,288.9 L971.8,289.0 L972.8,289.1 L973.8,289.1 L974.8,289.2 L975.8,289.2 L976.8,289.3 L977.8,289.3 L978.8,289.3 L979.8,289.4 L980.8,289.4 L981.8,289.4 L982.8,289.4 L983.8,289.4 L984.8,289.4 L985.8,289.5 L986.8,289.5 L987.8,289.5 L988.8,289.5 L989.8,289.5 L990.8,289.5 L991.9,289.5 L992.9,289.5 L993.9,289.5 L994.9,289.5 L995.9,289.5 L996.9,289.5 L997.9,289.5 L998.9,289.5 L999.9,289.5 L1000.9,289.5 L1001.9,289.5 L1002.9,289.5 L1003.9,289.5 L1004.9,289.5 L1005.9,289.5 L1006.9,289.5 L1007.9,289.5 L1008.9,289.5 L1009.9,289.5 L1010.9,289.5 L1011.9,289.4 L1012.9,289.4 L1014.0,289.4 L1015.0,289.4 L1016.0,289.4 L1017.0,289.4 L1018.0,289.4 L1019.0,289.4 L1020.0,289.4 L1020.9,289.4 L1021.8,289.4 L1022.6,289.4 L1024.0,289.4 L1024.0,306.3 L1022.6,306.3 L1021.8,306.3 L1020.9,306.3 L1020.0,306.2 L1019.0,306.2 L1018.0,306.2 L1017.0,306.2 L1016.0,306.2 L1015.0,306.2 L1014.0,306.1 L1013.0,306.1 L1011.9,306.1 L1010.9,306.1 L1009.9,306.1 L1008.9,306.1 L1007.9,306.1 L1006.9,306.0 L1005.9,306.0 L1004.9,306.0 L1003.9,306.0 L1002.9,306.0 L1001.9,306.0 L1000.9,306.0 L999.9,305.9 L998.9,305.9 L997.9,305.9 L996.9,305.9 L995.9,305.9 L994.9,305.9 L993.9,305.8 L992.9,305.8 L991.9,305.8 L990.9,305.8 L989.9,305.8 L988.8,305.8 L987.8,305.7 L986.8,305.7 L985.8,305.7 L984.8,305.7 L983.8,305.7 L982.8,305.7 L981.8,305.6 L980.8,305.6 L979.8,305.6 L978.8,305.6 L977.8,305.6 L976.8,305.5 L975.8,305.5 L974.8,305.5 L973.8,305.5 L972.8,305.4 L971.8,305.4 L970.8,305.4 L969.8,305.4 L968.8,305.3 L967.8,305.3 L966.8,305.3 L965.8,305.2 L964.8,305.1 L963.8,305.1 L962.8,305.0 L961.8,304.9 L960.8,304.8 L959.8,304.7 L958.8,304.6 L957.8,304.5 L956.7,304.5 L955.7,304.4 L954.7,304.4 L953.7,304.3 L952.7,304.2 L951.7,304.2 L950.7,304.1 L949.7,304.0 L948.7,304.0 L947.7,303.9 L946.7,303.8 L945.7,303.7 L944.7,303.5 L943.7,303.4 L942.8,303.2 L941.8,303.0 L940.8,302.7 L939.8,302.5 L938.9,302.2 L938.0,301.8 L937.0,301.4 L936.1,301.0 L935.3,300.5 L934.4,299.9 L933.6,299.4 L932.8,298.8 L932.0,298.1 L931.3,297.5 L930.5,296.8 L929.8,296.1 L929.1,295.4 L928.4,294.7 L927.7,294.0 L927.0,293.2 L926.3,292.5 L925.6,291.8 L925.0,291.0 L924.3,290.3 L923.6,289.6 L922.9,288.8 L922.2,288.1 L921.5,287.4 L920.8,286.7 L920.1,286.0 L919.4,285.2 L918.7,284.5 L918.0,283.7 L917.4,283.0 L916.7,282.2 L916.0,281.5 L915.4,280.8 L914.7,280.0 L913.9,279.3 L913.2,278.7 L912.4,278.0 L911.6,277.4 L910.8,276.9 L909.9,276.4 L909.0,276.0 L908.1,275.6 L907.2,275.3 L906.2,275.0 L905.2,274.8 L904.2,274.6 L903.2,274.5 L902.3,274.4 L901.2,274.3 L900.2,274.3 L899.2,274.2 L898.2,274.2 L897.2,274.2 L896.2,274.3 L895.2,274.3 L894.2,274.4 L893.2,274.6 L892.3,274.8 L891.3,275.0 L890.3,275.3 L889.4,275.6 L888.5,276.0 L887.6,276.5 L886.7,277.0 L885.9,277.5 L885.1,278.1 L884.3,278.7 L883.5,279.3 L882.7,280.0 L882.0,280.6 L881.2,281.3 L880.5,282.0 L879.7,282.7 L879.0,283.4 L878.3,284.0 L877.6,284.7 L876.8,285.4 L876.1,286.1 L875.4,286.8 L874.7,287.5 L874.0,288.3 L873.3,289.0 L872.6,289.7 L871.9,290.4 L871.2,291.2 L870.5,291.9 L869.9,292.7 L869.2,293.4 L868.5,294.2 L867.9,294.9 L867.2,295.7 L866.5,296.4 L865.8,297.1 L865.1,297.9 L864.4,298.6 L863.7,299.3 L863.0,300.0 L862.2,300.6 L861.5,301.3 L860.7,301.9 L859.9,302.5 L859.0,303.0 L858.2,303.5 L857.3,304.0 L856.3,304.4 L855.4,304.7 L854.5,305.0 L853.5,305.2 L852.5,305.4 L851.5,305.6 L850.5,305.7 L849.5,305.8 L848.5,305.9 L847.5,306.0 L846.5,306.0 L845.5,306.1 L844.5,306.2 L843.5,306.2 L842.5,306.3 L841.5,306.4 L840.5,306.4 L839.5,306.5 L838.5,306.5 L837.5,306.5 L836.5,306.6 L835.5,306.6 L834.5,306.6 L833.5,306.5 L832.5,306.5 L831.5,306.5 L830.5,306.5 L829.5,306.5 L828.5,306.5 L827.5,306.5 L826.5,306.5 L825.5,306.5 L824.4,306.5 L823.4,306.5 L822.4,306.5 L821.4,306.5 L820.4,306.5 L819.4,306.5 L818.4,306.5 L817.4,306.5 L816.4,306.5 L815.4,306.5 L814.4,306.5 L813.4,306.5 L812.4,306.5 L811.4,306.5 L810.4,306.5 L809.4,306.5 L808.4,306.5 L807.4,306.5 L806.4,306.5 L805.4,306.5 L804.4,306.5 L803.4,306.5 L802.3,306.5 L801.3,306.5 L800.3,306.5 L799.3,306.5 L798.3,306.5 L797.3,306.5 L796.3,306.5 L795.3,306.5 L794.3,306.5 L793.3,306.5 L792.3,306.5 L791.3,306.5 L790.3,306.5 L789.3,306.5 L788.3,306.5 L787.3,306.5 L786.3,306.5 L785.3,306.5 L784.3,306.5 L783.3,306.5 L782.3,306.5 L781.3,306.5 L780.3,306.5 L779.2,306.5 L778.2,306.5 L777.2,306.5 L776.2,306.5 L775.2,306.5 L774.2,306.5 L773.2,306.5 L772.2,306.5 L771.2,306.5 L770.2,306.5 L769.2,306.5 L768.2,306.5 L767.2,306.5 L766.2,306.5 L765.2,306.5 L764.2,306.5 L763.2,306.5 L762.2,306.5 L761.2,306.5 L760.2,306.5 L759.2,306.5 L758.2,306.5 L757.2,306.5 L756.1,306.5 L755.1,306.5 L754.1,306.5 L753.1,306.5 L752.1,306.5 L751.1,306.5 L750.1,306.5 L749.1,306.5 L748.1,306.5 L747.1,306.5 L746.1,306.5 L745.1,306.5 L744.1,306.5 L743.1,306.5 L742.1,306.5 L741.1,306.5 L740.1,306.5 L739.1,306.5 L738.1,306.5 L737.1,306.5 L736.1,306.5 L735.1,306.5 L734.0,306.5 L733.0,306.5 L732.0,306.5 L731.0,306.5 L730.0,306.5 L729.0,306.5 L728.0,306.5 L727.0,306.5 L726.1,306.5 L725.2,306.5 L724.4,306.5 L723.0,306.5 Z" fill="#0afcfc"/>
<path d="M723.0,297.3 L724.4,297.3 L725.2,297.3 L726.1,297.3 L727.0,297.3 L728.0,297.3 L729.0,297.3 L730.0,297.3 L731.0,297.3 L732.0,297.3 L733.0,297.3 L734.0,297.3 L735.0,297.3 L736.0,297.3 L737.1,297.3 L738.1,297.3 L739.1,297.3 L740.1,297.3 L741.1,297.3 L742.1,297.3 L743.1,297.3 L744.1,297.3 L745.1,297.3 L746.1,297.3 L747.1,297.3 L748.1,297.3 L749.1,297.3 L750.1,297.3 L751.1,297.3 L752.1,297.3 L753.1,297.3 L754.1,297.3 L755.1,297.3 L756.1,297.3 L757.1,297.3 L758.1,297.3 L759.1,297.3 L760.1,297.3 L761.1,297.3 L762.1,297.3 L763.1,297.3 L764.2,297.3 L765.2,297.3 L766.2,297.3 L767.2,297.3 L768.2,297.3 L769.2,297.3 L770.2,297.3 L771.2,297.3 L772.2,297.3 L773.2,297.3 L774.2,297.3 L775.2,297.3 L776.2,297.3 L777.2,297.3 L778.2,297.3 L779.2,297.3 L780.2,297.3 L781.2,297.3 L782.2,297.3 L783.2,297.3 L784.2,297.3 L785.2,297.3 L786.2,297.3 L787.2,297.3 L788.2,297.3 L789.2,297.3 L790.2,297.3 L791.3,297.3 L792.3,297.3 L793.3,297.3 L794.3,297.3 L795.3,297.3 L796.3,297.3 L797.3,297.3 L798.3,297.3 L799.3,297.3 L800.3,297.3 L801.3,297.3 L802.3,297.3 L803.3,297.3 L804.3,297.3 L805.3,297.3 L806.3,297.3 L807.3,297.3 L808.3,297.3 L809.3,297.3 L810.3,297.4 L811.3,297.4 L812.3,297.4 L813.3,297.4 L814.3,297.4 L815.3,297.4 L816.3,297.4 L817.3,297.3 L818.3,297.3 L819.3,297.2 L820.3,297.2 L821.3,297.1 L822.3,297.0 L823.3,296.9 L824.3,296.7 L825.3,296.6 L826.3,296.5 L827.3,296.3 L828.3,296.2 L829.3,296.0 L830.3,295.8 L831.3,295.6 L832.2,295.3 L833.2,295.1 L834.2,294.9 L835.2,294.6 L836.1,294.3 L837.1,294.1 L838.1,293.8 L839.0,293.5 L840.0,293.2 L840.9,292.9 L841.9,292.6 L842.8,292.2 L843.8,291.9 L844.7,291.5 L845.6,291.1 L846.5,290.7 L847.5,290.3 L848.4,289.9 L849.2,289.4 L850.1,288.9 L851.0,288.4 L851.8,287.9 L852.7,287.3 L853.5,286.7 L854.3,286.2 L855.1,285.6 L855.9,284.9 L856.7,284.3 L857.4,283.7 L858.2,283.0 L859.0,282.4 L859.7,281.7 L860.5,281.0 L861.2,280.4 L861.9,279.7 L862.7,279.0 L863.4,278.3 L864.1,277.6 L864.9,276.9 L865.6,276.2 L866.3,275.5 L867.0,274.8 L867.7,274.1 L868.4,273.4 L869.1,272.7 L869.8,271.9 L870.5,271.2 L871.2,270.4 L871.8,269.7 L872.5,268.9 L873.1,268.2 L873.8,267.4 L874.4,266.6 L875.1,265.9 L875.8,265.1 L876.4,264.4 L877.1,263.6 L877.8,262.9 L878.5,262.2 L879.2,261.5 L879.9,260.8 L880.7,260.1 L881.4,259.5 L882.2,258.9 L883.1,258.3 L883.9,257.7 L884.7,257.2 L885.6,256.7 L886.5,256.2 L887.4,255.7 L888.3,255.3 L889.2,254.9 L890.1,254.5 L891.1,254.2 L892.0,253.9 L893.0,253.7 L894.0,253.5 L894.9,253.3 L895.9,253.2 L896.9,253.2 L897.9,253.2 L898.9,253.3 L899.9,253.4 L900.9,253.6 L901.9,253.8 L902.8,254.1 L903.8,254.4 L904.7,254.8 L905.6,255.2 L906.5,255.6 L907.4,256.1 L908.3,256.6 L909.2,257.1 L910.0,257.6 L910.8,258.1 L911.7,258.7 L912.5,259.3 L913.3,259.9 L914.1,260.5 L914.8,261.2 L915.6,261.8 L916.3,262.5 L917.0,263.2 L917.7,264.0 L918.4,264.7 L919.1,265.4 L919.7,266.2 L920.4,267.0 L921.0,267.7 L921.7,268.5 L922.3,269.3 L923.0,270.0 L923.6,270.8 L924.3,271.6 L924.9,272.3 L925.6,273.1 L926.2,273.9 L926.9,274.6 L927.6,275.3 L928.2,276.1 L928.9,276.8 L929.6,277.5 L930.4,278.2 L931.1,278.9 L931.8,279.6 L932.5,280.3 L933.3,281.0 L934.0,281.7 L934.7,282.4 L935.5,283.1 L936.2,283.7 L937.0,284.4 L937.7,285.1 L938.5,285.7 L939.2,286.4 L940.0,287.0 L940.8,287.6 L941.6,288.2 L942.4,288.8 L943.2,289.4 L944.1,289.9 L944.9,290.5 L945.8,291.0 L946.6,291.5 L947.5,292.0 L948.4,292.4 L949.3,292.9 L950.2,293.3 L951.2,293.6 L952.1,294.0 L953.0,294.3 L954.0,294.6 L955.0,294.9 L955.9,295.2 L956.9,295.4 L957.9,295.6 L958.9,295.8 L959.8,296.0 L960.8,296.2 L961.8,296.4 L962.8,296.6 L963.8,296.7 L964.8,296.8 L965.8,296.9 L966.8,297.0 L967.8,297.1 L968.8,297.2 L969.8,297.2 L970.8,297.2 L971.8,297.3 L972.8,297.3 L973.8,297.3 L974.8,297.4 L975.8,297.4 L976.8,297.4 L977.8,297.4 L978.8,297.5 L979.8,297.5 L980.8,297.5 L981.8,297.5 L982.8,297.5 L983.9,297.6 L984.9,297.6 L985.9,297.6 L986.9,297.6 L987.9,297.6 L988.9,297.6 L989.9,297.6 L990.9,297.6 L991.9,297.6 L992.9,297.6 L993.9,297.6 L994.9,297.6 L995.9,297.6 L996.9,297.6 L997.9,297.6 L998.9,297.6 L999.9,297.6 L1000.9,297.6 L1001.9,297.6 L1002.9,297.6 L1003.9,297.6 L1004.9,297.6 L1005.9,297.6 L1006.9,297.6 L1007.9,297.6 L1008.9,297.6 L1009.9,297.6 L1011.0,297.6 L1012.0,297.6 L1013.0,297.6 L1014.0,297.6 L1015.0,297.6 L1016.0,297.6 L1017.0,297.6 L1018.0,297.6 L1019.0,297.6 L1020.0,297.6 L1020.9,297.6 L1021.8,297.6 L1022.6,297.6 L1024.0,297.6" fill="none" stroke="#c08a3a" stroke-width="1.8"/>
<circle cx="728.3" cy="329.4" r="3" fill="#ef8a1f"/>
<circle cx="746.4" cy="315.9" r="3" fill="#ef8a1f"/>
<circle cx="757.3" cy="285.2" r="3" fill="#ef8a1f"/>
<circle cx="767.2" cy="282.2" r="3" fill="#ef8a1f"/>
<circle cx="775.0" cy="330.8" r="3" fill="#ef8a1f"/>
<circle cx="784.2" cy="300.3" r="3" fill="#ef8a1f"/>
<circle cx="792.9" cy="296.1" r="3" fill="#ef8a1f"/>
<circle cx="801.1" cy="293.8" r="3" fill="#ef8a1f"/>
<circle cx="810.3" cy="299.9" r="3" fill="#ef8a1f"/>
<circle cx="817.6" cy="284.8" r="3" fill="#ef8a1f"/>
<circle cx="825.5" cy="296.8" r="3" fill="#ef8a1f"/>
<circle cx="836.3" cy="293.0" r="3" fill="#ef8a1f"/>
<circle cx="847.1" cy="317.6" r="3" fill="#ef8a1f"/>
<circle cx="873.0" cy="266.0" r="3" fill="#ef8a1f"/>
<circle cx="881.7" cy="269.1" r="3" fill="#ef8a1f"/>
<circle cx="890.7" cy="264.6" r="3" fill="#ef8a1f"/>
<circle cx="899.9" cy="265.5" r="3" fill="#ef8a1f"/>
<circle cx="909.1" cy="237.4" r="3" fill="#ef8a1f"/>
<circle cx="918.1" cy="254.4" r="3" fill="#ef8a1f"/>
<circle cx="927.7" cy="271.6" r="3" fill="#ef8a1f"/>
<circle cx="937.2" cy="305.9" r="3" fill="#ef8a1f"/>
<circle cx="945.9" cy="312.9" r="3" fill="#ef8a1f"/>
<circle cx="954.6" cy="281.6" r="3" fill="#ef8a1f"/>
<circle cx="972.0" cy="299.8" r="3" fill="#ef8a1f"/>
<circle cx="982.7" cy="261.7" r="3" fill="#ef8a1f"/>
<circle cx="992.4" cy="289.1" r="3" fill="#ef8a1f"/>
<circle cx="1001.8" cy="299.8" r="3" fill="#ef8a1f"/>
<circle cx="1011.5" cy="282.8" r="3" fill="#ef8a1f"/>
<path d="M722.7,355.2 H1024.2" stroke="#b8eef4" stroke-width="1.2"/>
<path d="M722.7,199.6 H1024.2 V356.6 H722.7 Z" fill="none" stroke="#0d0d0d" stroke-width="2.2"/>
<path d="M716.5,199.6 H722.7" stroke="#0d0d0d" stroke-width="2"/>
<path d="M716.5,251.8 H722.7" stroke="#0d0d0d" stroke-width="2"/>
<path d="M716.5,304.2 H722.7" stroke="#0d0d0d" stroke-width="2"/>
<path d="M716.5,356.6 H722.7" stroke="#0d0d0d" stroke-width="2"/>
<path d="M722.7,356.6 V363.6" stroke="#0d0d0d" stroke-width="2"/>
<path d="M747.8,356.6 V360.6" stroke="#0d0d0d" stroke-width="2"/>
<path d="M773.0,356.6 V360.6" stroke="#0d0d0d" stroke-width="2"/>
<path d="M798.1,356.6 V363.6" stroke="#0d0d0d" stroke-width="2"/>
<path d="M823.2,356.6 V360.6" stroke="#0d0d0d" stroke-width="2"/>
<path d="M848.3,356.6 V360.6" stroke="#0d0d0d" stroke-width="2"/>
<path d="M873.5,356.6 V363.6" stroke="#0d0d0d" stroke-width="2"/>
<path d="M898.6,356.6 V360.6" stroke="#0d0d0d" stroke-width="2"/>
<path d="M923.7,356.6 V360.6" stroke="#0d0d0d" stroke-width="2"/>
<path d="M948.8,356.6 V363.6" stroke="#0d0d0d" stroke-width="2"/>
<path d="M974.0,356.6 V360.6" stroke="#0d0d0d" stroke-width="2"/>
<path d="M999.1,356.6 V360.6" stroke="#0d0d0d" stroke-width="2"/>
<path d="M1024.2,356.6 V363.6" stroke="#0d0d0d" stroke-width="2"/>
<text x="710.5" y="208.4" font-size="25.0" text-anchor="end" font-weight="normal" font-style="normal" fill="#0d0d0d" >0.0</text>
<text x="710.5" y="260.6" font-size="25.0" text-anchor="end" font-weight="normal" font-style="normal" fill="#0d0d0d" >-.1</text>
<text x="710.5" y="313.2" font-size="25.0" text-anchor="end" font-weight="normal" font-style="normal" fill="#0d0d0d" >-.2</text>
<text x="710.5" y="365.6" font-size="25.0" text-anchor="end" font-weight="normal" font-style="normal" fill="#0d0d0d" >-.3</text>
<text x="722.2" y="391.7" font-size="24.5" text-anchor="middle" font-weight="normal" font-style="normal" fill="#0d0d0d" >Jan</text>
<text x="794.5" y="391.7" font-size="24.5" text-anchor="middle" font-weight="normal" font-style="normal" fill="#0d0d0d" >Apr</text>
<text x="869.9" y="391.7" font-size="24.5" text-anchor="middle" font-weight="normal" font-style="normal" fill="#0d0d0d" >Jul</text>
<text x="949.5" y="391.7" font-size="24.5" text-anchor="middle" font-weight="normal" font-style="normal" fill="#0d0d0d" >Oct</text>
<text x="725.2" y="238.6" font-size="21.2" text-anchor="start" font-weight="normal" font-style="italic" fill="#177f20" >Vegetation</text>
<text x="725.2" y="258.8" font-size="21.2" text-anchor="start" font-weight="normal" font-style="italic" fill="#177f20" >control</text>
<path d="M827,234 H866" stroke="#3f7f45" stroke-width="2.6"/>
<path d="M864.3,226 L884.3,234 L864.3,243.4 Z" fill="#3f7f45"/>
<g transform="translate(665.0,336.5) rotate(-90)"><text x="-1.0" y="0" font-family="Liberation Serif, serif" font-size="25.0" transform="scale(1.05,1)">Δ</text><text x="15.6" y="-11.6" font-family="Liberation Serif, serif" font-size="16">199</text><text x="39.6" y="0" font-size="23.5" font-weight="bold">Hg</text><text x="77.8" y="0" font-size="23" font-weight="bold">(‰)</text></g>
<path d="M115.7,524.5 L116.7,525.1 L117.5,525.5 L118.4,525.9 L119.3,526.2 L120.3,526.4 L121.3,526.5 L122.3,526.4 L123.3,526.4 L124.3,526.2 L125.3,526.1 L126.3,526.0 L127.3,525.9 L128.3,525.9 L129.3,525.8 L130.3,525.9 L131.3,525.9 L132.3,526.0 L133.3,526.1 L134.3,526.2 L135.3,526.4 L136.3,526.5 L137.3,526.7 L138.3,526.9 L139.2,527.1 L140.2,527.3 L141.2,527.5 L142.2,527.7 L143.2,527.9 L144.2,528.1 L145.2,528.3 L146.1,528.6 L147.1,528.8 L148.1,529.0 L149.1,529.1 L150.1,529.3 L151.1,529.5 L152.1,529.7 L153.1,529.8 L154.1,530.0 L155.0,530.1 L156.0,530.2 L157.0,530.3 L158.0,530.4 L159.1,530.5 L160.1,530.5 L161.1,530.5 L162.1,530.5 L163.1,530.5 L164.1,530.4 L165.1,530.4 L166.1,530.3 L167.1,530.2 L168.1,530.1 L169.1,529.9 L170.1,529.8 L171.1,529.6 L172.1,529.5 L173.1,529.3 L174.1,529.2 L175.0,529.0 L176.0,528.8 L177.0,528.6 L178.0,528.5 L179.0,528.3 L180.0,528.2 L181.0,528.0 L182.0,527.8 L183.0,527.7 L184.0,527.5 L185.0,527.3 L185.9,527.1 L186.9,526.9 L187.9,526.7 L188.9,526.5 L189.9,526.3 L190.9,526.1 L191.9,525.9 L192.8,525.7 L193.8,525.5 L194.8,525.3 L195.8,525.2 L196.8,525.1 L197.8,525.0 L198.8,525.1 L199.8,525.3 L200.7,525.6 L201.7,525.8 L202.7,526.0 L203.7,526.0 L204.6,525.9 L205.6,525.7 L206.6,525.4 L207.6,525.1 L208.5,524.8 L209.5,524.5 L210.4,524.1 L211.4,523.8 L212.3,523.5 L213.2,523.1 L214.2,522.8 L215.1,522.4 L216.1,522.1 L217.0,521.8 L218.0,521.4 L218.9,521.1 L219.9,520.9 L220.9,520.6 L221.8,520.4 L222.8,520.3 L223.8,520.2 L224.8,520.1 L225.8,520.0 L226.8,519.9 L227.8,519.8 L228.8,519.8 L229.8,519.7 L230.8,519.6 L231.8,519.5 L232.9,519.4 L233.9,519.3 L234.9,519.2 L235.9,519.1 L236.9,519.0 L237.9,518.9 L238.9,518.8 L239.9,518.7 L240.9,518.7 L241.9,518.6 L242.9,518.5 L243.9,518.4 L244.9,518.3 L245.9,518.2 L246.9,518.1 L247.9,518.1 L248.9,518.0 L249.9,517.9 L250.9,517.8 L251.9,517.7 L252.9,517.7 L253.9,517.6 L254.9,517.5 L255.9,517.5 L256.9,517.4 L257.9,517.3 L258.9,517.3 L259.9,517.2 L260.9,517.2 L261.9,517.1 L262.9,517.1 L263.9,517.1 L264.9,517.0 L266.0,517.0 L267.0,517.0 L268.0,517.0 L269.0,517.0 L270.0,517.0 L271.0,517.0 L272.0,517.1 L273.0,517.1 L274.0,517.2 L275.0,517.2 L276.0,517.3 L277.0,517.4 L278.0,517.5 L279.0,517.5 L280.0,517.6 L281.0,517.7 L282.0,517.8 L283.0,517.9 L284.0,518.0 L285.0,518.1 L286.0,518.2 L287.0,518.3 L288.0,518.4 L289.0,518.5 L290.0,518.6 L291.0,518.7 L292.0,518.8 L293.0,518.8 L294.0,518.9 L295.0,518.9 L296.0,519.0 L297.0,519.0 L298.1,519.0 L299.1,519.0 L300.1,519.1 L301.1,519.1 L302.1,519.1 L303.1,519.1 L304.1,519.1 L305.1,519.1 L306.1,519.1 L307.1,519.1 L308.1,519.0 L309.1,519.0 L310.1,519.0 L311.1,519.0 L312.1,519.0 L313.1,519.0 L314.1,519.0 L315.2,518.9 L316.2,518.9 L317.2,518.9 L318.2,518.9 L319.2,518.9 L320.2,518.8 L321.2,518.8 L322.2,518.8 L323.2,518.8 L324.2,518.8 L325.2,518.8 L326.2,518.8 L327.2,518.8 L328.2,518.8 L329.2,518.8 L330.2,518.8 L331.2,518.8 L332.2,518.8 L333.3,518.9 L334.3,518.9 L335.3,519.0 L336.3,519.1 L337.3,519.2 L338.3,519.3 L339.3,519.4 L340.3,519.5 L341.3,519.6 L342.3,519.7 L343.3,519.8 L344.3,519.9 L345.3,519.9 L346.3,520.0 L347.3,520.0 L348.3,520.0 L349.3,520.0 L350.3,519.9 L351.3,519.9 L352.3,519.8 L353.3,519.7 L354.3,519.6 L355.3,519.4 L356.3,519.3 L357.3,519.2 L358.3,519.0 L359.3,518.9 L360.3,518.8 L361.3,518.6 L362.3,518.5 L363.3,518.4 L364.3,518.2 L365.3,518.1 L366.3,518.1 L367.3,518.0 L368.3,518.0 L369.3,517.9 L370.3,518.0 L371.3,518.1 L372.3,518.2 L373.3,518.4 L374.2,518.7 L375.2,519.0 L376.1,519.3 L377.1,519.7 L378.0,520.1 L378.9,520.5 L379.8,521.0 L380.7,521.5 L381.5,522.0 L382.4,522.4 L383.2,522.9 L384.2,523.4" fill="none" stroke="#1e8c1e" stroke-width="2"/><path d="M91.0,504.4 H392.9 V568.8 H91.0 Z" fill="none" stroke="#0d0d0d" stroke-width="2.2"/><path d="M164.8,568.8 V562.8" stroke="#0d0d0d" stroke-width="2"/><path d="M240.6,568.8 V562.8" stroke="#0d0d0d" stroke-width="2"/><path d="M316.2,568.8 V562.8" stroke="#0d0d0d" stroke-width="2"/><text x="85.2" y="515.6" font-size="21.5" text-anchor="end" font-weight="normal" font-style="normal" fill="#0d0d0d" >1</text><text x="85.2" y="574.4" font-size="21.5" text-anchor="end" font-weight="normal" font-style="normal" fill="#0d0d0d" >0</text><text transform="translate(56.2,565.8) rotate(-90)" font-size="23.5">NDVI</text>
<path d="M728.0,563.1 L729.1,563.0 L730.0,563.0 L731.0,562.9 L732.0,562.9 L733.0,562.8 L734.0,562.8 L735.0,562.7 L736.0,562.6 L737.0,562.6 L738.0,562.5 L739.0,562.5 L740.0,562.4 L741.1,562.4 L742.1,562.3 L743.1,562.3 L744.1,562.3 L745.1,562.2 L746.1,562.2 L747.1,562.2 L748.1,562.2 L749.1,562.2 L750.1,562.2 L751.1,562.2 L752.1,562.1 L753.1,562.1 L754.1,562.1 L755.1,562.1 L756.1,562.1 L757.1,562.1 L758.1,562.0 L759.1,562.0 L760.2,562.0 L761.2,561.9 L762.2,561.9 L763.2,561.8 L764.2,561.7 L765.2,561.6 L766.2,561.4 L767.1,561.2 L768.1,561.0 L769.0,560.6 L769.9,560.2 L770.8,559.7 L771.7,559.2 L772.5,558.7 L773.4,558.1 L774.3,557.7 L775.2,557.4 L776.2,557.2 L777.2,557.2 L778.2,557.3 L779.2,557.4 L780.1,557.6 L781.1,557.8 L782.1,557.8 L783.1,557.7 L784.1,557.5 L785.0,557.2 L785.9,556.7 L786.8,556.2 L787.6,555.7 L788.5,555.2 L789.3,554.6 L790.2,554.1 L791.0,553.6 L791.9,553.1 L792.8,552.7 L793.8,552.4 L794.8,552.3 L795.7,552.4 L796.7,552.7 L797.6,553.0 L798.6,553.3 L799.6,553.5 L800.5,553.6 L801.5,553.6 L802.5,553.3 L803.4,553.0 L804.4,552.6 L805.3,552.2 L806.1,551.7 L807.0,551.2 L807.9,550.6 L808.7,550.1 L809.6,549.6 L810.4,549.1 L811.3,548.5 L812.1,548.0 L813.0,547.5 L813.9,547.0 L814.8,546.6 L815.7,546.2 L816.7,545.9 L817.6,545.8 L818.6,545.9 L819.5,546.3 L820.3,546.8 L821.1,547.4 L821.9,548.0 L822.7,548.4 L823.6,548.5 L824.5,548.3 L825.4,547.8 L826.2,547.2 L827.0,546.6 L827.7,545.9 L828.4,545.1 L829.0,544.4 L829.7,543.6 L830.4,542.9 L831.0,542.1 L831.6,541.3 L832.3,540.6 L832.9,539.8 L833.6,539.0 L834.3,538.3 L834.9,537.5 L835.6,536.8 L836.3,536.1 L837.1,535.4 L837.9,534.8 L838.7,534.2 L839.6,533.8 L840.5,533.4 L841.4,533.0 L842.4,532.7 L843.3,532.4 L844.3,532.1 L845.2,531.8 L846.1,531.3 L847.0,530.8 L847.8,530.2 L848.6,529.6 L849.4,529.0 L850.2,528.3 L850.9,527.7 L851.7,527.0 L852.4,526.3 L853.2,525.7 L853.9,525.0 L854.7,524.3 L855.4,523.7 L856.2,523.0 L857.0,522.4 L857.8,521.8 L858.6,521.2 L859.5,520.7 L860.4,520.2 L861.3,519.8 L862.2,519.4 L863.1,519.0 L864.1,518.7 L865.0,518.5 L866.0,518.2 L867.0,518.0 L868.0,517.8 L869.0,517.7 L870.0,517.5 L871.0,517.3 L872.0,517.2 L872.9,517.0 L873.9,516.7 L874.9,516.5 L875.9,516.2 L876.8,515.9 L877.8,515.6 L878.7,515.3 L879.7,515.1 L880.7,514.9 L881.7,514.9 L882.7,514.8 L883.7,514.9 L884.7,515.0 L885.7,515.2 L886.7,515.4 L887.6,515.7 L888.6,515.9 L889.6,516.2 L890.5,516.5 L891.5,516.8 L892.5,517.0 L893.5,517.3 L894.4,517.5 L895.4,517.6 L896.4,517.8 L897.4,517.8 L898.4,517.8 L899.4,517.8 L900.4,517.6 L901.4,517.4 L902.4,517.2 L903.3,516.9 L904.3,516.6 L905.3,516.3 L906.2,516.0 L907.2,515.8 L908.2,515.5 L909.1,515.3 L910.1,515.1 L911.1,514.9 L912.1,514.9 L913.1,514.9 L914.1,514.9 L915.1,515.1 L916.1,515.2 L917.1,515.5 L918.1,515.7 L919.0,516.0 L920.0,516.3 L920.9,516.6 L921.9,516.9 L922.9,517.2 L923.8,517.5 L924.8,517.8 L925.7,518.1 L926.7,518.3 L927.7,518.5 L928.7,518.5 L929.6,518.3 L930.5,518.0 L931.5,517.8 L932.4,517.7 L933.2,518.1 L934.0,518.6 L934.7,519.3 L935.3,520.1 L935.9,520.9 L936.4,521.8 L937.0,522.6 L937.5,523.5 L938.0,524.4 L938.5,525.2 L939.0,526.1 L939.5,527.0 L940.0,527.9 L940.5,528.7 L941.0,529.6 L941.4,530.5 L941.9,531.4 L942.4,532.3 L942.9,533.1 L943.5,534.0 L944.0,534.8 L944.5,535.7 L945.1,536.5 L945.7,537.3 L946.3,538.1 L947.0,538.8 L947.9,539.2 L948.7,539.4 L949.6,539.2 L950.4,538.8 L951.2,538.1 L951.9,537.4 L952.6,536.8 L953.5,536.4 L954.3,536.3 L955.2,536.6 L956.0,537.1 L956.7,537.8 L957.3,538.6 L958.0,539.4 L958.6,540.2 L959.2,541.0 L959.8,541.8 L960.4,542.6 L961.1,543.3 L961.8,544.0 L962.5,544.7 L963.3,545.4 L964.0,546.0 L964.8,546.6 L965.6,547.2 L966.5,547.7 L967.4,548.2 L968.3,548.6 L969.2,548.9 L970.2,549.1 L971.2,549.2 L972.2,549.1 L973.2,548.9 L974.2,548.7 L975.1,548.4 L976.1,548.2 L977.1,547.9 L978.0,547.6 L979.0,547.4 L980.0,547.3 L981.0,547.3 L982.0,547.4 L982.9,547.7 L983.8,548.1 L984.6,548.7 L985.3,549.4 L986.0,550.1 L986.7,550.8 L987.4,551.6 L988.1,552.3 L988.8,553.1 L989.4,553.8 L990.0,554.6 L990.5,555.5 L991.1,556.3 L991.7,557.1 L992.3,557.9 L992.9,558.7 L993.6,559.5 L994.3,560.1 L995.1,560.7 L996.0,561.2 L996.9,561.5 L997.9,561.8 L998.9,561.9 L999.9,562.0 L1000.9,562.1 L1001.9,562.1 L1002.9,562.0 L1003.9,562.0 L1004.9,561.9 L1005.9,561.8 L1006.9,561.8 L1007.9,561.7 L1008.9,561.6 L1009.9,561.5 L1010.9,561.4 L1011.8,561.3 L1012.9,561.2" fill="none" stroke="#1e8c1e" stroke-width="2"/><path d="M723.2,505.2 H1025.2 V568.8 H723.2 Z" fill="none" stroke="#0d0d0d" stroke-width="2.2"/><path d="M797.6,568.8 V562.8" stroke="#0d0d0d" stroke-width="2"/><path d="M873.0,568.8 V562.8" stroke="#0d0d0d" stroke-width="2"/><path d="M948.8,568.8 V562.8" stroke="#0d0d0d" stroke-width="2"/><text x="715.0" y="515.6" font-size="21.5" text-anchor="end" font-weight="normal" font-style="normal" fill="#0d0d0d" >1</text><text x="716.5" y="574.6" font-size="21.5" text-anchor="end" font-weight="normal" font-style="normal" fill="#0d0d0d" >0</text><text transform="translate(687.2,565.8) rotate(-90)" font-size="23.5">NDVI</text>
<text x="100.5" y="492.2" font-size="23.4" text-anchor="start" font-weight="bold" font-style="normal" fill="#0d0d0d" >Mt. Ailao evergreen forest</text>
<text x="697.8" y="497.6" font-size="23.4" text-anchor="start" font-weight="bold" font-style="normal" fill="#0d0d0d" >Mt. Changbai deciduous forest</text>
<rect x="3" y="575" width="1038" height="1" fill="#ada690"/>
</svg></body></html>
